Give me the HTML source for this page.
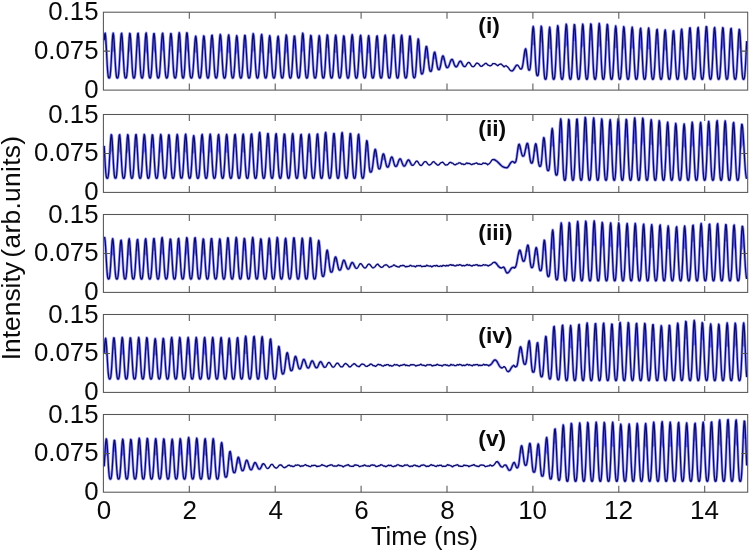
<!DOCTYPE html><html><head><meta charset="utf-8"><title>Intensity vs Time</title>
<style>html,body{margin:0;padding:0;background:#fff}body{width:750px;height:552px;position:relative;overflow:hidden;font-family:"Liberation Sans",Arial,sans-serif;color:#0a0a0a}
svg{position:absolute;left:0;top:0}
.yt{position:absolute;left:0;width:98.5px;text-align:right;font-size:25.8px;line-height:26px;height:26px;white-space:nowrap}
.xt{position:absolute;top:496.6px;width:60px;margin-left:-30px;text-align:center;font-size:26px;line-height:26px;height:26px}
.lab{position:absolute;left:478.3px;font-weight:bold;font-size:22.8px;line-height:24px;height:24px;white-space:nowrap}
#xl{position:absolute;left:324.5px;width:200px;top:523.2px;text-align:center;font-size:25.6px;line-height:26px;white-space:nowrap}
#yl{position:absolute;left:0;top:0;font-size:26.4px;line-height:26px;white-space:nowrap;transform-origin:0 0;transform:translate(-1.6px,360.3px) rotate(-90deg);}
#yl{word-spacing:-3px}#yl span{letter-spacing:0.3px}
</style></head><body>
<svg width="750" height="552" viewBox="0 0 750 552">
<rect width="750" height="552" fill="#fff"/>
<defs><path id="w0" d="M104.2 40.2 L104.7 34.4 L105.2 33.2 L105.7 37.1 L106.2 45.0 L106.7 55.0 L107.2 64.6 L107.7 72.0 L108.2 76.3 L108.7 77.9 L109.2 78.0 L109.7 77.6 L110.2 75.3 L110.7 69.9 L111.2 61.7 L111.7 51.7 L112.2 42.2 L112.7 35.4 L113.2 33.1 L113.7 35.7 L114.2 42.5 L114.7 51.8 L115.2 61.5 L115.7 69.6 L116.2 75.0 L116.7 77.5 L117.2 78.0 L117.7 77.9 L118.2 76.8 L118.7 73.3 L119.2 66.8 L119.7 57.9 L120.2 48.1 L120.7 39.5 L121.2 34.1 L121.7 33.3 L122.2 37.3 L122.7 45.0 L123.2 54.6 L123.7 64.0 L124.2 71.4 L124.7 75.9 L125.2 77.8 L125.7 78.0 L126.2 77.8 L126.7 76.1 L127.2 71.7 L127.7 64.5 L128.2 55.1 L128.7 45.5 L129.2 37.6 L129.7 33.4 L130.2 34.0 L130.7 39.5 L131.2 48.4 L131.7 58.4 L132.2 67.5 L132.7 73.8 L133.2 77.1 L133.7 78.0 L134.2 78.0 L134.7 77.1 L135.2 73.8 L135.7 67.3 L136.2 58.2 L136.7 48.1 L137.2 39.2 L137.7 33.7 L138.2 33.2 L138.7 37.7 L139.2 46.1 L139.7 56.2 L140.2 65.7 L140.7 72.7 L141.2 76.6 L141.7 77.9 L142.2 78.0 L142.7 77.4 L143.2 74.7 L143.7 68.9 L144.2 60.3 L144.7 50.2 L145.2 40.8 L145.7 34.5 L146.2 32.9 L146.7 36.6 L147.2 44.7 L147.7 55.1 L148.2 65.0 L148.7 72.5 L149.2 76.6 L149.7 77.9 L150.2 78.0 L150.7 77.3 L151.2 74.2 L151.7 67.9 L152.2 58.6 L152.7 48.2 L153.2 39.1 L153.7 33.8 L154.2 33.6 L154.7 37.9 L155.2 45.6 L155.7 55.0 L156.2 64.1 L156.7 71.3 L157.2 75.8 L157.7 77.7 L158.2 78.0 L158.7 77.9 L159.2 76.5 L159.7 72.8 L160.2 66.3 L160.7 57.6 L161.2 48.1 L161.7 39.7 L162.2 34.3 L162.7 33.2 L163.2 36.8 L163.7 44.3 L164.2 53.8 L164.7 63.3 L165.2 70.9 L165.7 75.7 L166.2 77.7 L166.7 78.0 L167.2 77.8 L167.7 76.3 L168.2 72.2 L168.7 65.1 L169.2 55.9 L169.7 46.2 L170.2 38.1 L170.7 33.6 L171.2 33.8 L171.7 38.6 L172.2 46.8 L172.7 56.6 L173.2 65.7 L173.7 72.6 L174.2 76.5 L174.7 77.9 L175.2 78.0 L175.7 77.6 L176.2 75.4 L176.7 70.4 L177.2 62.6 L177.7 52.9 L178.2 43.3 L178.7 36.0 L179.2 32.6 L179.7 34.5 L180.2 41.6 L180.7 52.0 L181.2 62.6 L181.7 71.1 L182.2 76.1 L182.7 77.9 L183.2 78.0 L183.7 77.4 L184.2 74.4 L184.7 67.8 L185.2 58.1 L185.7 47.2 L186.2 37.8 L186.7 32.8 L187.2 33.1 L187.7 37.8 L188.2 45.6 L188.7 54.9 L189.2 63.9 L189.7 71.1 L190.2 75.6 L190.7 77.6 L191.2 78.0 L191.7 77.9 L192.2 77.0 L192.7 74.0 L193.2 68.7 L193.7 61.2 L194.2 52.6 L194.7 44.5 L195.2 38.6 L195.7 36.1 L196.2 38.0 L196.7 44.1 L197.2 52.8 L197.7 62.2 L198.2 70.1 L198.7 75.2 L199.2 77.5 L199.7 78.0 L200.2 77.9 L200.7 76.6 L201.2 72.7 L201.7 65.9 L202.2 56.9 L202.7 47.5 L203.2 39.8 L203.7 35.9 L204.2 36.7 L204.7 42.0 L205.2 50.5 L205.7 60.0 L206.2 68.5 L206.7 74.3 L207.2 77.2 L207.7 78.0 L208.2 78.0 L208.7 77.0 L209.2 73.7 L209.7 67.4 L210.2 58.6 L210.7 48.9 L211.2 40.5 L211.7 35.6 L212.2 35.3 L212.7 39.6 L213.2 47.3 L213.7 56.7 L214.2 65.5 L214.7 72.4 L215.2 76.3 L215.7 77.8 L216.2 78.0 L216.7 77.7 L217.2 75.8 L217.7 71.2 L218.2 63.8 L218.7 54.6 L219.2 45.3 L219.7 38.0 L220.2 34.5 L220.7 35.6 L221.2 41.1 L221.7 49.5 L222.2 59.1 L222.7 67.6 L223.2 73.7 L223.7 77.0 L224.2 78.0 L224.7 78.0 L225.2 77.4 L225.7 74.8 L226.2 69.5 L226.7 61.6 L227.2 52.2 L227.7 43.4 L228.2 37.1 L228.7 34.8 L229.2 37.4 L229.7 44.1 L230.2 53.4 L230.7 62.9 L231.2 70.7 L231.7 75.6 L232.2 77.7 L232.7 78.0 L233.2 77.8 L233.7 76.2 L234.2 72.0 L234.7 64.8 L235.2 55.6 L235.7 46.3 L236.2 39.0 L236.7 35.7 L237.2 37.2 L237.7 43.0 L238.2 51.8 L238.7 61.3 L239.2 69.4 L239.7 74.9 L240.2 77.4 L240.7 78.0 L241.2 77.9 L241.7 76.7 L242.2 73.0 L242.7 66.3 L243.2 57.3 L243.7 47.6 L244.2 39.6 L244.7 35.3 L245.2 35.6 L245.7 40.5 L246.2 48.5 L246.7 57.9 L247.2 66.6 L247.7 73.1 L248.2 76.7 L248.7 77.9 L249.2 78.0 L249.7 77.6 L250.2 75.3 L250.7 70.2 L251.2 62.4 L251.7 52.9 L252.2 43.6 L252.7 36.6 L253.2 33.6 L253.7 35.4 L254.2 41.4 L254.7 50.3 L255.2 60.0 L255.7 68.4 L256.2 74.2 L256.7 77.2 L257.2 78.0 L257.7 78.0 L258.2 77.2 L258.7 74.2 L259.2 68.5 L259.7 60.2 L260.2 50.7 L260.7 42.0 L261.2 36.0 L261.7 34.4 L262.2 37.6 L262.7 44.9 L263.2 54.4 L263.7 63.9 L264.2 71.5 L264.7 76.0 L265.2 77.8 L265.7 78.0 L266.2 77.7 L266.7 75.8 L267.2 71.2 L267.7 63.6 L268.2 54.3 L268.7 45.2 L269.2 38.3 L269.7 35.6 L270.2 37.6 L270.7 43.6 L271.2 52.2 L271.7 61.4 L272.2 69.3 L272.7 74.7 L273.2 77.3 L273.7 78.0 L274.2 78.0 L274.7 77.1 L275.2 74.1 L275.7 68.4 L276.2 60.3 L276.7 51.2 L277.2 42.9 L277.7 37.5 L278.2 36.2 L278.7 39.5 L279.2 46.5 L279.7 55.5 L280.2 64.5 L280.7 71.6 L281.2 76.0 L281.7 77.8 L282.2 78.0 L282.7 77.8 L283.2 76.1 L283.7 71.7 L284.2 64.5 L284.7 55.3 L285.2 46.0 L285.7 38.6 L286.2 35.0 L286.7 36.2 L287.2 41.9 L287.7 50.7 L288.2 60.3 L288.7 68.8 L289.2 74.5 L289.7 77.3 L290.2 78.0 L290.7 78.0 L291.2 76.9 L291.7 73.5 L292.2 67.1 L292.7 58.3 L293.2 48.8 L293.7 40.7 L294.2 36.2 L294.7 36.2 L295.2 40.7 L295.7 48.5 L296.2 57.7 L296.7 66.3 L297.2 72.8 L297.7 76.5 L298.2 77.9 L298.7 78.0 L299.2 77.6 L299.7 75.5 L300.2 70.6 L300.7 62.8 L301.2 53.3 L301.7 43.8 L302.2 36.5 L302.7 33.2 L303.2 34.7 L303.7 40.9 L304.2 50.2 L304.7 60.3 L305.2 68.9 L305.7 74.7 L306.2 77.4 L306.7 78.0 L307.2 77.9 L307.7 76.7 L308.2 73.1 L308.7 66.4 L309.2 57.4 L309.7 47.8 L310.2 39.9 L310.7 35.5 L311.2 35.9 L311.7 40.7 L312.2 48.7 L312.7 58.0 L313.2 66.7 L313.7 73.1 L314.2 76.7 L314.7 77.9 L315.2 78.0 L315.7 77.6 L316.2 75.4 L316.7 70.6 L317.2 63.1 L317.7 54.1 L318.2 45.2 L318.7 38.5 L319.2 35.6 L319.7 37.4 L320.2 43.5 L320.7 52.4 L321.2 61.9 L321.7 69.9 L322.2 75.1 L322.7 77.5 L323.2 78.0 L323.7 77.9 L324.2 76.6 L324.7 72.6 L325.2 65.7 L325.7 56.5 L326.2 46.9 L326.7 39.0 L327.2 34.9 L327.7 35.6 L328.2 40.7 L328.7 49.0 L329.2 58.4 L329.7 67.0 L330.2 73.4 L330.7 76.8 L331.2 77.9 L331.7 78.0 L332.2 77.5 L332.7 75.2 L333.2 70.1 L333.7 62.4 L334.2 53.1 L334.7 44.2 L335.2 37.7 L335.7 35.1 L336.2 37.2 L336.7 43.7 L337.2 52.8 L337.7 62.3 L338.2 70.2 L338.7 75.3 L339.2 77.6 L339.7 78.0 L340.2 77.9 L340.7 76.4 L341.2 72.4 L341.7 65.5 L342.2 56.4 L342.7 47.0 L343.2 39.5 L343.7 35.8 L344.2 36.8 L344.7 42.0 L345.2 50.2 L345.7 59.5 L346.2 67.8 L346.7 73.8 L347.2 77.0 L347.7 78.0 L348.2 78.0 L348.7 77.4 L349.2 74.9 L349.7 69.5 L350.2 61.6 L350.7 52.2 L351.2 43.3 L351.7 36.9 L352.2 34.6 L352.7 36.9 L353.2 43.3 L353.7 52.2 L354.2 61.6 L354.7 69.5 L355.2 74.9 L355.7 77.4 L356.2 78.0 L356.7 78.0 L357.2 77.0 L357.7 73.7 L358.2 67.7 L358.7 59.3 L359.2 49.9 L359.7 41.6 L360.2 36.3 L360.7 35.3 L361.2 39.0 L361.7 46.6 L362.2 56.1 L362.7 65.3 L363.2 72.3 L363.7 76.4 L364.2 77.9 L364.7 78.0 L365.2 77.6 L365.7 75.4 L366.2 70.3 L366.7 62.5 L367.2 53.1 L367.7 44.1 L368.2 37.7 L368.7 35.6 L369.2 38.2 L369.7 44.6 L370.2 53.4 L370.7 62.6 L371.2 70.2 L371.7 75.2 L372.2 77.5 L372.7 78.0 L373.2 77.9 L373.7 76.8 L374.2 73.5 L374.7 67.3 L375.2 58.9 L375.7 49.6 L376.2 41.6 L376.7 36.6 L377.2 35.9 L377.7 39.9 L378.2 47.6 L378.7 57.0 L379.2 66.0 L379.7 72.8 L380.2 76.6 L380.7 77.9 L381.2 78.0 L381.7 77.5 L382.2 75.1 L382.7 69.8 L383.2 61.7 L383.7 52.1 L384.2 43.1 L384.7 36.9 L385.2 35.1 L385.7 38.0 L386.2 44.8 L386.7 53.8 L387.2 63.0 L387.7 70.5 L388.2 75.4 L388.7 77.6 L389.2 78.0 L389.7 77.9 L390.2 76.7 L390.7 73.0 L391.2 66.5 L391.7 57.8 L392.2 48.4 L392.7 40.2 L393.2 35.4 L393.7 35.0 L394.2 39.4 L394.7 47.5 L395.2 57.2 L395.7 66.3 L396.2 73.0 L396.7 76.7 L397.2 77.9 L397.7 78.0 L398.2 77.4 L398.7 74.8 L399.2 69.3 L399.7 61.1 L400.2 51.5 L400.7 42.6 L401.2 36.7 L401.7 35.2 L402.2 38.4 L402.7 45.3 L403.2 54.4 L403.7 63.5 L404.2 70.9 L404.7 75.6 L405.2 77.6 L405.7 78.0 L406.2 77.9 L406.7 76.5 L407.2 72.8 L407.7 66.3 L408.2 57.7 L408.7 48.5 L409.2 40.7 L409.7 36.2 L410.2 36.1 L410.7 40.1 L411.2 47.4 L411.7 56.2 L412.2 64.7 L412.7 71.5 L413.2 75.7 L413.7 77.5 L414.2 77.8 L414.7 77.6 L415.2 76.2 L415.7 72.4 L416.2 65.9 L416.7 57.5 L417.2 48.8 L417.7 42.0 L418.2 38.8 L418.7 40.2 L419.2 46.2 L419.7 54.9 L420.2 63.6 L420.7 70.0 L421.2 73.2 L421.7 74.0 L422.2 73.9 L422.7 73.4 L423.2 71.7 L423.7 68.5 L424.2 63.8 L424.7 58.4 L425.2 53.1 L425.7 48.8 L426.2 46.5 L426.7 46.6 L427.2 49.1 L427.7 53.4 L428.2 58.6 L428.7 63.6 L429.2 67.6 L429.7 70.1 L430.2 71.2 L430.7 71.4 L431.2 71.2 L431.7 70.0 L432.2 67.3 L432.7 63.4 L433.2 59.0 L433.7 55.0 L434.2 52.6 L434.7 52.1 L435.2 53.4 L435.7 56.0 L436.2 59.3 L436.7 62.8 L437.2 65.9 L437.7 68.1 L438.2 69.3 L438.7 69.7 L439.2 69.6 L439.7 68.9 L440.2 67.3 L440.7 64.9 L441.2 62.1 L441.7 59.3 L442.2 57.1 L442.7 56.0 L443.2 56.0 L443.7 57.1 L444.2 58.9 L444.7 61.1 L445.2 63.3 L445.7 65.3 L446.2 66.7 L446.7 67.5 L447.2 67.6 L447.7 67.5 L448.2 67.1 L448.7 66.2 L449.2 65.0 L449.7 63.6 L450.2 62.1 L450.7 60.9 L451.2 59.9 L451.7 59.4 L452.2 59.4 L452.7 60.1 L453.2 61.3 L453.7 62.7 L454.2 64.2 L454.7 65.4 L455.2 66.3 L455.7 66.7 L456.2 66.8 L456.7 66.6 L457.2 66.0 L457.7 65.1 L458.2 64.1 L458.7 63.0 L459.2 62.1 L459.7 61.5 L460.2 61.2 L460.7 61.3 L461.2 61.8 L461.7 62.7 L462.2 63.7 L462.7 64.7 L463.2 65.6 L463.7 66.2 L464.2 66.6 L464.7 66.7 L465.2 66.6 L465.7 66.0 L466.2 65.3 L466.7 64.4 L467.2 63.7 L467.7 63.0 L468.2 62.5 L468.7 62.3 L469.2 62.5 L469.7 63.0 L470.2 63.7 L470.7 64.5 L471.2 65.4 L471.7 66.1 L472.2 66.4 L472.7 66.6 L473.2 66.7 L473.7 66.6 L474.2 66.2 L474.7 65.5 L475.2 64.9 L475.7 64.2 L476.2 63.5 L476.7 63.1 L477.2 63.1 L477.7 63.3 L478.2 63.5 L478.7 63.9 L479.2 64.5 L479.7 65.3 L480.2 65.8 L480.7 66.2 L481.2 66.4 L481.7 66.4 L482.2 66.0 L482.7 65.5 L483.2 65.1 L483.7 64.9 L484.2 64.4 L484.7 63.8 L485.2 63.5 L485.7 63.4 L486.2 63.4 L486.7 63.7 L487.2 64.3 L487.7 64.9 L488.2 65.2 L488.7 65.3 L489.2 65.5 L489.7 65.8 L490.2 65.9 L490.7 65.7 L491.2 65.5 L491.7 65.0 L492.2 64.4 L492.7 63.7 L493.2 63.6 L493.7 63.7 L494.2 63.7 L494.7 63.6 L495.2 63.8 L495.7 64.2 L496.2 64.6 L496.7 64.9 L497.2 65.4 L497.7 65.7 L498.2 65.5 L498.7 64.9 L499.2 64.4 L499.7 64.3 L500.2 64.2 L500.7 64.0 L501.2 64.1 L501.7 64.5 L502.2 65.0 L502.7 65.4 L503.2 66.0 L503.7 66.5 L504.2 66.9 L504.7 66.4 L505.2 65.9 L505.7 65.8 L506.2 65.8 L506.7 66.2 L507.2 66.5 L507.7 67.0 L508.2 67.6 L508.7 68.2 L509.2 69.0 L509.7 69.7 L510.2 70.3 L510.7 70.7 L511.2 70.9 L511.7 70.9 L512.2 70.8 L512.7 70.6 L513.2 70.1 L513.7 69.4 L514.2 68.7 L514.7 67.8 L515.2 67.0 L515.7 66.2 L516.2 65.6 L516.7 65.2 L517.2 65.0 L517.7 65.1 L518.2 65.6 L518.7 66.3 L519.2 67.2 L519.7 68.1 L520.2 68.9 L520.7 69.2 L521.2 68.9 L521.7 68.6 L522.2 67.5 L522.7 65.4 L523.2 62.3 L523.7 58.6 L524.2 54.7 L524.7 51.5 L525.2 49.4 L525.7 48.8 L526.2 50.7 L526.7 54.8 L527.2 60.1 L527.7 65.0 L528.2 68.4 L528.7 69.9 L529.2 70.2 L529.7 69.9 L530.2 67.9 L530.7 63.0 L531.2 55.2 L531.7 45.6 L532.2 36.2 L532.7 29.2 L533.2 26.5 L533.7 28.7 L534.2 35.4 L534.7 45.0 L535.2 55.4 L535.7 64.5 L536.2 71.1 L536.7 74.6 L537.2 75.7 L537.7 75.7 L538.2 74.9 L538.7 71.1 L539.2 63.5 L539.7 52.6 L540.2 40.8 L540.7 31.0 L541.2 26.2 L541.7 27.5 L542.2 34.2 L542.7 44.5 L543.2 56.2 L543.7 66.6 L544.2 74.0 L544.7 78.0 L545.2 79.2 L545.7 79.3 L546.2 78.5 L546.7 75.4 L547.2 69.0 L547.7 59.5 L548.2 48.2 L548.7 37.6 L549.2 29.9 L549.7 27.2 L550.2 30.3 L550.7 38.4 L551.2 49.6 L551.7 61.1 L552.2 70.5 L552.7 76.4 L553.2 78.9 L553.7 79.3 L554.2 79.0 L554.7 77.0 L555.2 71.6 L555.7 62.5 L556.2 50.9 L556.7 39.0 L557.2 29.8 L557.7 25.6 L558.2 27.2 L558.7 34.0 L559.2 44.3 L559.7 55.8 L560.2 66.2 L560.7 73.7 L561.2 77.8 L561.7 79.2 L562.2 79.3 L562.7 78.7 L563.2 75.9 L563.7 69.8 L564.2 60.4 L564.7 48.8 L565.2 37.4 L565.7 28.5 L566.2 24.1 L566.7 25.7 L567.2 33.0 L567.7 44.2 L568.2 56.6 L568.7 67.4 L569.2 74.8 L569.7 78.4 L570.2 79.3 L570.7 79.2 L571.2 77.8 L571.7 73.3 L572.2 65.0 L572.7 53.6 L573.2 41.2 L573.7 30.7 L574.2 24.7 L574.7 24.8 L575.2 30.6 L575.7 40.7 L576.2 52.7 L576.7 64.0 L577.2 72.5 L577.7 77.4 L578.2 79.1 L578.7 79.3 L579.2 78.8 L579.7 76.2 L580.2 70.1 L580.7 60.6 L581.2 48.8 L581.7 37.2 L582.2 28.2 L582.7 24.1 L583.2 26.0 L583.7 33.6 L584.2 45.1 L584.7 57.4 L585.2 68.1 L585.7 75.2 L586.2 78.5 L586.7 79.3 L587.2 79.2 L587.7 77.6 L588.2 72.8 L588.7 64.2 L589.2 52.5 L589.7 40.0 L590.2 29.6 L590.7 24.0 L591.2 24.5 L591.7 30.7 L592.2 41.1 L592.7 53.3 L593.2 64.5 L593.7 72.9 L594.2 77.5 L594.7 79.1 L595.2 79.3 L595.7 78.7 L596.2 75.9 L596.7 69.5 L597.2 59.7 L597.7 47.7 L598.2 36.0 L598.7 27.3 L599.2 23.5 L599.7 25.8 L600.2 33.9 L600.7 45.6 L601.2 58.0 L601.7 68.6 L602.2 75.5 L602.7 78.6 L603.2 79.3 L603.7 79.1 L604.2 77.4 L604.7 72.4 L605.2 63.6 L605.7 51.9 L606.2 39.6 L606.7 29.5 L607.2 24.3 L607.7 25.2 L608.2 31.7 L608.7 42.3 L609.2 54.3 L609.7 65.3 L610.2 73.3 L610.7 77.7 L611.2 79.2 L611.7 79.3 L612.2 78.6 L612.7 75.7 L613.2 69.4 L613.7 59.9 L614.2 48.4 L614.7 37.3 L615.2 29.2 L615.7 26.0 L616.2 28.6 L616.7 36.6 L617.2 47.9 L617.7 59.7 L618.2 69.6 L618.7 76.0 L619.2 78.8 L619.7 79.3 L620.2 79.1 L620.7 77.3 L621.2 72.3 L621.7 63.6 L622.2 52.4 L622.7 40.7 L623.2 31.3 L623.7 26.7 L624.2 28.0 L624.7 34.5 L625.2 44.7 L625.7 56.2 L626.2 66.6 L626.7 74.0 L627.2 78.0 L627.7 79.2 L628.2 79.3 L628.7 78.6 L629.2 75.5 L629.7 69.1 L630.2 59.6 L630.7 48.4 L631.2 37.7 L631.7 30.0 L632.2 27.2 L632.7 30.0 L633.2 37.7 L633.7 48.4 L634.2 59.6 L634.7 69.1 L635.2 75.5 L635.7 78.6 L636.2 79.3 L636.7 79.2 L637.2 78.0 L637.7 74.2 L638.2 66.9 L638.7 56.9 L639.2 45.7 L639.7 35.8 L640.2 29.4 L640.7 28.2 L641.2 32.7 L641.7 41.8 L642.2 53.1 L642.7 64.1 L643.2 72.5 L643.7 77.4 L644.2 79.1 L644.7 79.3 L645.2 78.8 L645.7 76.1 L646.2 70.0 L646.7 60.5 L647.2 49.1 L647.7 38.2 L648.2 30.5 L648.7 28.0 L649.2 31.1 L649.7 38.9 L650.2 49.6 L650.7 60.6 L651.2 69.8 L651.7 75.9 L652.2 78.7 L652.7 79.3 L653.2 79.2 L653.7 77.9 L654.2 73.9 L654.7 66.6 L655.2 56.6 L655.7 45.7 L656.2 36.1 L656.7 30.2 L657.2 29.4 L657.7 34.1 L658.2 43.2 L658.7 54.4 L659.2 65.0 L659.7 73.1 L660.2 77.6 L660.7 79.2 L661.2 79.3 L661.7 78.7 L662.2 75.9 L662.7 69.8 L663.2 60.4 L663.7 49.4 L664.2 39.0 L664.7 31.9 L665.2 29.8 L665.7 33.2 L666.2 41.0 L666.7 51.3 L667.2 61.9 L667.7 70.6 L668.2 76.3 L668.7 78.8 L669.2 79.3 L669.7 79.2 L670.2 77.8 L670.7 73.6 L671.2 66.3 L671.7 56.5 L672.2 45.8 L672.7 36.7 L673.2 31.2 L673.7 30.8 L674.2 35.7 L674.7 44.8 L675.2 55.8 L675.7 66.0 L676.2 73.6 L676.7 77.8 L677.2 79.2 L677.7 79.3 L678.2 78.6 L678.7 75.6 L679.2 69.1 L679.7 59.4 L680.2 48.2 L680.7 37.8 L681.2 30.9 L681.7 29.1 L682.2 32.8 L682.7 41.0 L683.2 51.6 L683.7 62.3 L684.2 71.0 L684.7 76.5 L685.2 78.9 L685.7 79.3 L686.2 79.1 L686.7 77.5 L687.2 72.9 L687.7 64.9 L688.2 54.3 L688.7 43.0 L689.2 33.5 L689.7 28.0 L690.2 27.9 L690.7 33.5 L691.2 43.4 L691.7 55.1 L692.2 65.8 L692.7 73.7 L693.2 77.9 L693.7 79.2 L694.2 79.3 L694.7 78.5 L695.2 75.1 L695.7 68.2 L696.2 58.0 L696.7 46.3 L697.2 35.7 L697.7 28.8 L698.2 27.4 L698.7 31.6 L699.2 40.3 L699.7 51.4 L700.2 62.4 L700.7 71.2 L701.2 76.6 L701.7 78.9 L702.2 79.3 L702.7 79.1 L703.2 77.2 L703.7 72.3 L704.2 63.9 L704.7 52.9 L705.2 41.4 L705.7 31.9 L706.2 26.6 L706.7 26.9 L707.2 33.0 L707.7 43.3 L708.2 55.3 L708.7 66.2 L709.2 73.9 L709.7 78.0 L710.2 79.2 L710.7 79.3 L711.2 78.3 L711.7 74.7 L712.2 67.6 L712.7 57.2 L713.2 45.5 L713.7 35.1 L714.2 28.6 L714.7 27.5 L715.2 32.1 L715.7 41.0 L716.2 52.2 L716.7 63.1 L717.2 71.6 L717.7 76.9 L718.2 79.0 L718.7 79.3 L719.2 79.0 L719.7 77.0 L720.2 72.0 L720.7 63.6 L721.2 52.8 L721.7 41.6 L722.2 32.5 L722.7 27.7 L723.2 28.4 L723.7 34.7 L724.2 44.9 L724.7 56.6 L725.2 67.1 L725.7 74.5 L726.2 78.2 L726.7 79.3 L727.2 79.2 L727.7 78.2 L728.2 74.5 L728.7 67.1 L729.2 56.8 L729.7 45.3 L730.2 35.2 L730.7 29.1 L731.2 28.4 L731.7 33.3 L732.2 42.3 L732.7 53.3 L733.2 64.0 L733.7 72.2 L734.2 77.1 L734.7 79.0 L735.2 79.3 L735.7 79.0 L736.2 76.9 L736.7 71.8 L737.2 63.5 L737.7 53.0 L738.2 42.2 L738.7 33.6 L739.2 29.3 L739.7 30.3 L740.2 36.3 L740.7 45.9 L741.2 56.9 L741.7 66.8 L742.2 74.0 L742.7 77.9 L743.2 79.2 L743.7 79.3 L744.2 78.7 L744.7 76.0 L745.2 70.2 L745.7 61.4 L746.2 51.1 L746.7 41.1"/></defs>
<path d="M104.2 40.2 L104.7 34.4 L105.2 33.2 L105.7 37.1 L106.2 45.0 L106.7 55.0Z M111.7 51.7 L112.2 42.2 L112.7 35.4 L113.2 33.1 L113.7 35.7 L114.2 42.5 L114.7 51.8Z M120.2 48.1 L120.7 39.5 L121.2 34.1 L121.7 33.3 L122.2 37.3 L122.7 45.0 L123.2 54.6Z M128.2 55.1 L128.7 45.5 L129.2 37.6 L129.7 33.4 L130.2 34.0 L130.7 39.5 L131.2 48.4Z M136.7 48.1 L137.2 39.2 L137.7 33.7 L138.2 33.2 L138.7 37.7 L139.2 46.1Z M144.7 50.2 L145.2 40.8 L145.7 34.5 L146.2 32.9 L146.7 36.6 L147.2 44.7 L147.7 55.1Z M152.7 48.2 L153.2 39.1 L153.7 33.8 L154.2 33.6 L154.7 37.9 L155.2 45.6 L155.7 55.0Z M161.2 48.1 L161.7 39.7 L162.2 34.3 L162.7 33.2 L163.2 36.8 L163.7 44.3 L164.2 53.8Z M169.7 46.2 L170.2 38.1 L170.7 33.6 L171.2 33.8 L171.7 38.6 L172.2 46.8Z M177.7 52.9 L178.2 43.3 L178.7 36.0 L179.2 32.6 L179.7 34.5 L180.2 41.6 L180.7 52.0Z M185.7 47.2 L186.2 37.8 L186.7 32.8 L187.2 33.1 L187.7 37.8 L188.2 45.6 L188.7 54.9Z M194.2 52.6 L194.7 44.5 L195.2 38.6 L195.7 36.1 L196.2 38.0 L196.7 44.1 L197.2 52.8Z M202.7 47.5 L203.2 39.8 L203.7 35.9 L204.2 36.7 L204.7 42.0 L205.2 50.5Z M210.7 48.9 L211.2 40.5 L211.7 35.6 L212.2 35.3 L212.7 39.6 L213.2 47.3Z M218.7 54.6 L219.2 45.3 L219.7 38.0 L220.2 34.5 L220.7 35.6 L221.2 41.1 L221.7 49.5Z M227.2 52.2 L227.7 43.4 L228.2 37.1 L228.7 34.8 L229.2 37.4 L229.7 44.1 L230.2 53.4Z M235.2 55.6 L235.7 46.3 L236.2 39.0 L236.7 35.7 L237.2 37.2 L237.7 43.0 L238.2 51.8Z M243.7 47.6 L244.2 39.6 L244.7 35.3 L245.2 35.6 L245.7 40.5 L246.2 48.5Z M251.7 52.9 L252.2 43.6 L252.7 36.6 L253.2 33.6 L253.7 35.4 L254.2 41.4 L254.7 50.3Z M260.2 50.7 L260.7 42.0 L261.2 36.0 L261.7 34.4 L262.2 37.6 L262.7 44.9 L263.2 54.4Z M268.2 54.3 L268.7 45.2 L269.2 38.3 L269.7 35.6 L270.2 37.6 L270.7 43.6 L271.2 52.2Z M276.7 51.2 L277.2 42.9 L277.7 37.5 L278.2 36.2 L278.7 39.5 L279.2 46.5 L279.7 55.5Z M284.7 55.3 L285.2 46.0 L285.7 38.6 L286.2 35.0 L286.7 36.2 L287.2 41.9 L287.7 50.7Z M293.2 48.8 L293.7 40.7 L294.2 36.2 L294.7 36.2 L295.2 40.7 L295.7 48.5Z M301.2 53.3 L301.7 43.8 L302.2 36.5 L302.7 33.2 L303.2 34.7 L303.7 40.9 L304.2 50.2Z M309.7 47.8 L310.2 39.9 L310.7 35.5 L311.2 35.9 L311.7 40.7 L312.2 48.7Z M317.7 54.1 L318.2 45.2 L318.7 38.5 L319.2 35.6 L319.7 37.4 L320.2 43.5 L320.7 52.4Z M326.2 46.9 L326.7 39.0 L327.2 34.9 L327.7 35.6 L328.2 40.7 L328.7 49.0Z M334.2 53.1 L334.7 44.2 L335.2 37.7 L335.7 35.1 L336.2 37.2 L336.7 43.7 L337.2 52.8Z M342.2 56.4 L342.7 47.0 L343.2 39.5 L343.7 35.8 L344.2 36.8 L344.7 42.0 L345.2 50.2Z M350.7 52.2 L351.2 43.3 L351.7 36.9 L352.2 34.6 L352.7 36.9 L353.2 43.3 L353.7 52.2Z M359.2 49.9 L359.7 41.6 L360.2 36.3 L360.7 35.3 L361.2 39.0 L361.7 46.6 L362.2 56.1Z M367.2 53.1 L367.7 44.1 L368.2 37.7 L368.7 35.6 L369.2 38.2 L369.7 44.6 L370.2 53.4Z M375.7 49.6 L376.2 41.6 L376.7 36.6 L377.2 35.9 L377.7 39.9 L378.2 47.6Z M383.7 52.1 L384.2 43.1 L384.7 36.9 L385.2 35.1 L385.7 38.0 L386.2 44.8 L386.7 53.8Z M392.2 48.4 L392.7 40.2 L393.2 35.4 L393.7 35.0 L394.2 39.4 L394.7 47.5Z M400.2 51.5 L400.7 42.6 L401.2 36.7 L401.7 35.2 L402.2 38.4 L402.7 45.3 L403.2 54.4Z M408.7 48.5 L409.2 40.7 L409.7 36.2 L410.2 36.1 L410.7 40.1 L411.2 47.4 L411.7 56.2Z M417.2 48.8 L417.7 42.0 L418.2 38.8 L418.7 40.2 L419.2 46.2 L419.7 54.9Z M424.7 58.4 L425.2 53.1 L425.7 48.8 L426.2 46.5 L426.7 46.6 L427.2 49.1 L427.7 53.4 L428.2 58.6Z M433.2 59.0 L433.7 55.0 L434.2 52.6 L434.7 52.1 L435.2 53.4 L435.7 56.0 L436.2 59.3Z M441.7 59.3 L442.2 57.1 L442.7 56.0 L443.2 56.0 L443.7 57.1 L444.2 58.9 L444.7 61.1Z M523.7 58.6 L524.2 54.7 L524.7 51.5 L525.2 49.4 L525.7 48.8 L526.2 50.7 L526.7 54.8Z M531.7 45.6 L532.2 36.2 L532.7 29.2 L533.2 26.5 L533.7 28.7 L534.2 35.4 L534.7 45.0Z M540.2 40.8 L540.7 31.0 L541.2 26.2 L541.7 27.5 L542.2 34.2 L542.7 44.5Z M548.2 48.2 L548.7 37.6 L549.2 29.9 L549.7 27.2 L550.2 30.3 L550.7 38.4 L551.2 49.6Z M556.2 50.9 L556.7 39.0 L557.2 29.8 L557.7 25.6 L558.2 27.2 L558.7 34.0 L559.2 44.3Z M564.7 48.8 L565.2 37.4 L565.7 28.5 L566.2 24.1 L566.7 25.7 L567.2 33.0 L567.7 44.2Z M573.2 41.2 L573.7 30.7 L574.2 24.7 L574.7 24.8 L575.2 30.6 L575.7 40.7Z M581.2 48.8 L581.7 37.2 L582.2 28.2 L582.7 24.1 L583.2 26.0 L583.7 33.6 L584.2 45.1Z M589.7 40.0 L590.2 29.6 L590.7 24.0 L591.2 24.5 L591.7 30.7 L592.2 41.1Z M597.7 47.7 L598.2 36.0 L598.7 27.3 L599.2 23.5 L599.7 25.8 L600.2 33.9 L600.7 45.6Z M606.2 39.6 L606.7 29.5 L607.2 24.3 L607.7 25.2 L608.2 31.7 L608.7 42.3Z M614.2 48.4 L614.7 37.3 L615.2 29.2 L615.7 26.0 L616.2 28.6 L616.7 36.6 L617.2 47.9Z M622.2 52.4 L622.7 40.7 L623.2 31.3 L623.7 26.7 L624.2 28.0 L624.7 34.5 L625.2 44.7Z M630.7 48.4 L631.2 37.7 L631.7 30.0 L632.2 27.2 L632.7 30.0 L633.2 37.7 L633.7 48.4Z M639.2 45.7 L639.7 35.8 L640.2 29.4 L640.7 28.2 L641.2 32.7 L641.7 41.8 L642.2 53.1Z M647.2 49.1 L647.7 38.2 L648.2 30.5 L648.7 28.0 L649.2 31.1 L649.7 38.9 L650.2 49.6Z M655.7 45.7 L656.2 36.1 L656.7 30.2 L657.2 29.4 L657.7 34.1 L658.2 43.2Z M663.7 49.4 L664.2 39.0 L664.7 31.9 L665.2 29.8 L665.7 33.2 L666.2 41.0 L666.7 51.3Z M672.2 45.8 L672.7 36.7 L673.2 31.2 L673.7 30.8 L674.2 35.7 L674.7 44.8Z M680.2 48.2 L680.7 37.8 L681.2 30.9 L681.7 29.1 L682.2 32.8 L682.7 41.0 L683.2 51.6Z M688.7 43.0 L689.2 33.5 L689.7 28.0 L690.2 27.9 L690.7 33.5 L691.2 43.4Z M696.7 46.3 L697.2 35.7 L697.7 28.8 L698.2 27.4 L698.7 31.6 L699.2 40.3 L699.7 51.4Z M705.2 41.4 L705.7 31.9 L706.2 26.6 L706.7 26.9 L707.2 33.0 L707.7 43.3Z M713.2 45.5 L713.7 35.1 L714.2 28.6 L714.7 27.5 L715.2 32.1 L715.7 41.0 L716.2 52.2Z M721.2 52.8 L721.7 41.6 L722.2 32.5 L722.7 27.7 L723.2 28.4 L723.7 34.7 L724.2 44.9Z M729.7 45.3 L730.2 35.2 L730.7 29.1 L731.2 28.4 L731.7 33.3 L732.2 42.3 L732.7 53.3Z M737.7 53.0 L738.2 42.2 L738.7 33.6 L739.2 29.3 L739.7 30.3 L740.2 36.3 L740.7 45.9Z" fill="#1818e8" fill-opacity="0.38" stroke="none"/>
<path d="M104.2 40.2 L104.7 34.4 L105.2 33.2 L105.7 37.1 L106.2 45.0 L106.7 55.0 L107.2 64.6 L107.7 72.0 L108.2 76.3 L108.7 77.9 L109.2 78.0 L109.7 77.6 L110.2 75.3 L110.7 69.9 L111.2 61.7 L111.7 51.7 L112.2 42.2 L112.7 35.4 L113.2 33.1 L113.7 35.7 L114.2 42.5 L114.7 51.8 L115.2 61.5 L115.7 69.6 L116.2 75.0 L116.7 77.5 L117.2 78.0 L117.7 77.9 L118.2 76.8 L118.7 73.3 L119.2 66.8 L119.7 57.9 L120.2 48.1 L120.7 39.5 L121.2 34.1 L121.7 33.3 L122.2 37.3 L122.7 45.0 L123.2 54.6 L123.7 64.0 L124.2 71.4 L124.7 75.9 L125.2 77.8 L125.7 78.0 L126.2 77.8 L126.7 76.1 L127.2 71.7 L127.7 64.5 L128.2 55.1 L128.7 45.5 L129.2 37.6 L129.7 33.4 L130.2 34.0 L130.7 39.5 L131.2 48.4 L131.7 58.4 L132.2 67.5 L132.7 73.8 L133.2 77.1 L133.7 78.0 L134.2 78.0 L134.7 77.1 L135.2 73.8 L135.7 67.3 L136.2 58.2 L136.7 48.1 L137.2 39.2 L137.7 33.7 L138.2 33.2 L138.7 37.7 L139.2 46.1 L139.7 56.2 L140.2 65.7 L140.7 72.7 L141.2 76.6 L141.7 77.9 L142.2 78.0 L142.7 77.4 L143.2 74.7 L143.7 68.9 L144.2 60.3 L144.7 50.2 L145.2 40.8 L145.7 34.5 L146.2 32.9 L146.7 36.6 L147.2 44.7 L147.7 55.1 L148.2 65.0 L148.7 72.5 L149.2 76.6 L149.7 77.9 L150.2 78.0 L150.7 77.3 L151.2 74.2 L151.7 67.9 L152.2 58.6 L152.7 48.2 L153.2 39.1 L153.7 33.8 L154.2 33.6 L154.7 37.9 L155.2 45.6 L155.7 55.0 L156.2 64.1 L156.7 71.3 L157.2 75.8 L157.7 77.7 L158.2 78.0 L158.7 77.9 L159.2 76.5 L159.7 72.8 L160.2 66.3 L160.7 57.6 L161.2 48.1 L161.7 39.7 L162.2 34.3 L162.7 33.2 L163.2 36.8 L163.7 44.3 L164.2 53.8 L164.7 63.3 L165.2 70.9 L165.7 75.7 L166.2 77.7 L166.7 78.0 L167.2 77.8 L167.7 76.3 L168.2 72.2 L168.7 65.1 L169.2 55.9 L169.7 46.2 L170.2 38.1 L170.7 33.6 L171.2 33.8 L171.7 38.6 L172.2 46.8 L172.7 56.6 L173.2 65.7 L173.7 72.6 L174.2 76.5 L174.7 77.9 L175.2 78.0 L175.7 77.6 L176.2 75.4 L176.7 70.4 L177.2 62.6 L177.7 52.9 L178.2 43.3 L178.7 36.0 L179.2 32.6 L179.7 34.5 L180.2 41.6 L180.7 52.0 L181.2 62.6 L181.7 71.1 L182.2 76.1 L182.7 77.9 L183.2 78.0 L183.7 77.4 L184.2 74.4 L184.7 67.8 L185.2 58.1 L185.7 47.2 L186.2 37.8 L186.7 32.8 L187.2 33.1 L187.7 37.8 L188.2 45.6 L188.7 54.9 L189.2 63.9 L189.7 71.1 L190.2 75.6 L190.7 77.6 L191.2 78.0 L191.7 77.9 L192.2 77.0 L192.7 74.0 L193.2 68.7 L193.7 61.2 L194.2 52.6 L194.7 44.5 L195.2 38.6 L195.7 36.1 L196.2 38.0 L196.7 44.1 L197.2 52.8 L197.7 62.2 L198.2 70.1 L198.7 75.2 L199.2 77.5 L199.7 78.0 L200.2 77.9 L200.7 76.6 L201.2 72.7 L201.7 65.9 L202.2 56.9 L202.7 47.5 L203.2 39.8 L203.7 35.9 L204.2 36.7 L204.7 42.0 L205.2 50.5 L205.7 60.0 L206.2 68.5 L206.7 74.3 L207.2 77.2 L207.7 78.0 L208.2 78.0 L208.7 77.0 L209.2 73.7 L209.7 67.4 L210.2 58.6 L210.7 48.9 L211.2 40.5 L211.7 35.6 L212.2 35.3 L212.7 39.6 L213.2 47.3 L213.7 56.7 L214.2 65.5 L214.7 72.4 L215.2 76.3 L215.7 77.8 L216.2 78.0 L216.7 77.7 L217.2 75.8 L217.7 71.2 L218.2 63.8 L218.7 54.6 L219.2 45.3 L219.7 38.0 L220.2 34.5 L220.7 35.6 L221.2 41.1 L221.7 49.5 L222.2 59.1 L222.7 67.6 L223.2 73.7 L223.7 77.0 L224.2 78.0 L224.7 78.0 L225.2 77.4 L225.7 74.8 L226.2 69.5 L226.7 61.6 L227.2 52.2 L227.7 43.4 L228.2 37.1 L228.7 34.8 L229.2 37.4 L229.7 44.1 L230.2 53.4 L230.7 62.9 L231.2 70.7 L231.7 75.6 L232.2 77.7 L232.7 78.0 L233.2 77.8 L233.7 76.2 L234.2 72.0 L234.7 64.8 L235.2 55.6 L235.7 46.3 L236.2 39.0 L236.7 35.7 L237.2 37.2 L237.7 43.0 L238.2 51.8 L238.7 61.3 L239.2 69.4 L239.7 74.9 L240.2 77.4 L240.7 78.0 L241.2 77.9 L241.7 76.7 L242.2 73.0 L242.7 66.3 L243.2 57.3 L243.7 47.6 L244.2 39.6 L244.7 35.3 L245.2 35.6 L245.7 40.5 L246.2 48.5 L246.7 57.9 L247.2 66.6 L247.7 73.1 L248.2 76.7 L248.7 77.9 L249.2 78.0 L249.7 77.6 L250.2 75.3 L250.7 70.2 L251.2 62.4 L251.7 52.9 L252.2 43.6 L252.7 36.6 L253.2 33.6 L253.7 35.4 L254.2 41.4 L254.7 50.3 L255.2 60.0 L255.7 68.4 L256.2 74.2 L256.7 77.2 L257.2 78.0 L257.7 78.0 L258.2 77.2 L258.7 74.2 L259.2 68.5 L259.7 60.2 L260.2 50.7 L260.7 42.0 L261.2 36.0 L261.7 34.4 L262.2 37.6 L262.7 44.9 L263.2 54.4 L263.7 63.9 L264.2 71.5 L264.7 76.0 L265.2 77.8 L265.7 78.0 L266.2 77.7 L266.7 75.8 L267.2 71.2 L267.7 63.6 L268.2 54.3 L268.7 45.2 L269.2 38.3 L269.7 35.6 L270.2 37.6 L270.7 43.6 L271.2 52.2 L271.7 61.4 L272.2 69.3 L272.7 74.7 L273.2 77.3 L273.7 78.0 L274.2 78.0 L274.7 77.1 L275.2 74.1 L275.7 68.4 L276.2 60.3 L276.7 51.2 L277.2 42.9 L277.7 37.5 L278.2 36.2 L278.7 39.5 L279.2 46.5 L279.7 55.5 L280.2 64.5 L280.7 71.6 L281.2 76.0 L281.7 77.8 L282.2 78.0 L282.7 77.8 L283.2 76.1 L283.7 71.7 L284.2 64.5 L284.7 55.3 L285.2 46.0 L285.7 38.6 L286.2 35.0 L286.7 36.2 L287.2 41.9 L287.7 50.7 L288.2 60.3 L288.7 68.8 L289.2 74.5 L289.7 77.3 L290.2 78.0 L290.7 78.0 L291.2 76.9 L291.7 73.5 L292.2 67.1 L292.7 58.3 L293.2 48.8 L293.7 40.7 L294.2 36.2 L294.7 36.2 L295.2 40.7 L295.7 48.5 L296.2 57.7 L296.7 66.3 L297.2 72.8 L297.7 76.5 L298.2 77.9 L298.7 78.0 L299.2 77.6 L299.7 75.5 L300.2 70.6 L300.7 62.8 L301.2 53.3 L301.7 43.8 L302.2 36.5 L302.7 33.2 L303.2 34.7 L303.7 40.9 L304.2 50.2 L304.7 60.3 L305.2 68.9 L305.7 74.7 L306.2 77.4 L306.7 78.0 L307.2 77.9 L307.7 76.7 L308.2 73.1 L308.7 66.4 L309.2 57.4 L309.7 47.8 L310.2 39.9 L310.7 35.5 L311.2 35.9 L311.7 40.7 L312.2 48.7 L312.7 58.0 L313.2 66.7 L313.7 73.1 L314.2 76.7 L314.7 77.9 L315.2 78.0 L315.7 77.6 L316.2 75.4 L316.7 70.6 L317.2 63.1 L317.7 54.1 L318.2 45.2 L318.7 38.5 L319.2 35.6 L319.7 37.4 L320.2 43.5 L320.7 52.4 L321.2 61.9 L321.7 69.9 L322.2 75.1 L322.7 77.5 L323.2 78.0 L323.7 77.9 L324.2 76.6 L324.7 72.6 L325.2 65.7 L325.7 56.5 L326.2 46.9 L326.7 39.0 L327.2 34.9 L327.7 35.6 L328.2 40.7 L328.7 49.0 L329.2 58.4 L329.7 67.0 L330.2 73.4 L330.7 76.8 L331.2 77.9 L331.7 78.0 L332.2 77.5 L332.7 75.2 L333.2 70.1 L333.7 62.4 L334.2 53.1 L334.7 44.2 L335.2 37.7 L335.7 35.1 L336.2 37.2 L336.7 43.7 L337.2 52.8 L337.7 62.3 L338.2 70.2 L338.7 75.3 L339.2 77.6 L339.7 78.0 L340.2 77.9 L340.7 76.4 L341.2 72.4 L341.7 65.5 L342.2 56.4 L342.7 47.0 L343.2 39.5 L343.7 35.8 L344.2 36.8 L344.7 42.0 L345.2 50.2 L345.7 59.5 L346.2 67.8 L346.7 73.8 L347.2 77.0 L347.7 78.0 L348.2 78.0 L348.7 77.4 L349.2 74.9 L349.7 69.5 L350.2 61.6 L350.7 52.2 L351.2 43.3 L351.7 36.9 L352.2 34.6 L352.7 36.9 L353.2 43.3 L353.7 52.2 L354.2 61.6 L354.7 69.5 L355.2 74.9 L355.7 77.4 L356.2 78.0 L356.7 78.0 L357.2 77.0 L357.7 73.7 L358.2 67.7 L358.7 59.3 L359.2 49.9 L359.7 41.6 L360.2 36.3 L360.7 35.3 L361.2 39.0 L361.7 46.6 L362.2 56.1 L362.7 65.3 L363.2 72.3 L363.7 76.4 L364.2 77.9 L364.7 78.0 L365.2 77.6 L365.7 75.4 L366.2 70.3 L366.7 62.5 L367.2 53.1 L367.7 44.1 L368.2 37.7 L368.7 35.6 L369.2 38.2 L369.7 44.6 L370.2 53.4 L370.7 62.6 L371.2 70.2 L371.7 75.2 L372.2 77.5 L372.7 78.0 L373.2 77.9 L373.7 76.8 L374.2 73.5 L374.7 67.3 L375.2 58.9 L375.7 49.6 L376.2 41.6 L376.7 36.6 L377.2 35.9 L377.7 39.9 L378.2 47.6 L378.7 57.0 L379.2 66.0 L379.7 72.8 L380.2 76.6 L380.7 77.9 L381.2 78.0 L381.7 77.5 L382.2 75.1 L382.7 69.8 L383.2 61.7 L383.7 52.1 L384.2 43.1 L384.7 36.9 L385.2 35.1 L385.7 38.0 L386.2 44.8 L386.7 53.8 L387.2 63.0 L387.7 70.5 L388.2 75.4 L388.7 77.6 L389.2 78.0 L389.7 77.9 L390.2 76.7 L390.7 73.0 L391.2 66.5 L391.7 57.8 L392.2 48.4 L392.7 40.2 L393.2 35.4 L393.7 35.0 L394.2 39.4 L394.7 47.5 L395.2 57.2 L395.7 66.3 L396.2 73.0 L396.7 76.7 L397.2 77.9 L397.7 78.0 L398.2 77.4 L398.7 74.8 L399.2 69.3 L399.7 61.1 L400.2 51.5 L400.7 42.6 L401.2 36.7 L401.7 35.2 L402.2 38.4 L402.7 45.3 L403.2 54.4 L403.7 63.5 L404.2 70.9 L404.7 75.6 L405.2 77.6 L405.7 78.0 L406.2 77.9 L406.7 76.5 L407.2 72.8 L407.7 66.3 L408.2 57.7 L408.7 48.5 L409.2 40.7 L409.7 36.2 L410.2 36.1 L410.7 40.1 L411.2 47.4 L411.7 56.2 L412.2 64.7 L412.7 71.5 L413.2 75.7 L413.7 77.5 L414.2 77.8 L414.7 77.6 L415.2 76.2 L415.7 72.4 L416.2 65.9 L416.7 57.5 L417.2 48.8 L417.7 42.0 L418.2 38.8 L418.7 40.2 L419.2 46.2 L419.7 54.9 L420.2 63.6 L420.7 70.0 L421.2 73.2 L421.7 74.0 L422.2 73.9 L422.7 73.4 L423.2 71.7 L423.7 68.5 L424.2 63.8 L424.7 58.4 L425.2 53.1 L425.7 48.8 L426.2 46.5 L426.7 46.6 L427.2 49.1 L427.7 53.4 L428.2 58.6 L428.7 63.6 L429.2 67.6 L429.7 70.1 L430.2 71.2 L430.7 71.4 L431.2 71.2 L431.7 70.0 L432.2 67.3 L432.7 63.4 L433.2 59.0 L433.7 55.0 L434.2 52.6 L434.7 52.1 L435.2 53.4 L435.7 56.0 L436.2 59.3 L436.7 62.8 L437.2 65.9 L437.7 68.1 L438.2 69.3 L438.7 69.7 L439.2 69.6 L439.7 68.9 L440.2 67.3 L440.7 64.9 L441.2 62.1 L441.7 59.3 L442.2 57.1 L442.7 56.0 L443.2 56.0 L443.7 57.1 L444.2 58.9 L444.7 61.1 L445.2 63.3 L445.7 65.3 L446.2 66.7 L446.7 67.5 L447.2 67.6 L447.7 67.5 L448.2 67.1 L448.7 66.2 L449.2 65.0 L449.7 63.6 L450.2 62.1 L450.7 60.9 L451.2 59.9 L451.7 59.4 L452.2 59.4 L452.7 60.1 L453.2 61.3 L453.7 62.7 L454.2 64.2 L454.7 65.4 L455.2 66.3 L455.7 66.7 L456.2 66.8 L456.7 66.6 L457.2 66.0 L457.7 65.1 L458.2 64.1 L458.7 63.0 L459.2 62.1 L459.7 61.5 L460.2 61.2 L460.7 61.3 L461.2 61.8 L461.7 62.7 L462.2 63.7 L462.7 64.7 L463.2 65.6 L463.7 66.2 L464.2 66.6 M511.2 70.9 L511.7 70.9 L512.2 70.8 L512.7 70.6 L513.2 70.1 L513.7 69.4 L514.2 68.7 L514.7 67.8 L515.2 67.0 L515.7 66.2 L516.2 65.6 L516.7 65.2 L517.2 65.0 M520.7 69.2 L521.2 68.9 L521.7 68.6 L522.2 67.5 L522.7 65.4 L523.2 62.3 L523.7 58.6 L524.2 54.7 L524.7 51.5 L525.2 49.4 L525.7 48.8 L526.2 50.7 L526.7 54.8 L527.2 60.1 L527.7 65.0 L528.2 68.4 L528.7 69.9 L529.2 70.2 L529.7 69.9 L530.2 67.9 L530.7 63.0 L531.2 55.2 L531.7 45.6 L532.2 36.2 L532.7 29.2 L533.2 26.5 L533.7 28.7 L534.2 35.4 L534.7 45.0 L535.2 55.4 L535.7 64.5 L536.2 71.1 L536.7 74.6 L537.2 75.7 L537.7 75.7 L538.2 74.9 L538.7 71.1 L539.2 63.5 L539.7 52.6 L540.2 40.8 L540.7 31.0 L541.2 26.2 L541.7 27.5 L542.2 34.2 L542.7 44.5 L543.2 56.2 L543.7 66.6 L544.2 74.0 L544.7 78.0 L545.2 79.2 L545.7 79.3 L546.2 78.5 L546.7 75.4 L547.2 69.0 L547.7 59.5 L548.2 48.2 L548.7 37.6 L549.2 29.9 L549.7 27.2 L550.2 30.3 L550.7 38.4 L551.2 49.6 L551.7 61.1 L552.2 70.5 L552.7 76.4 L553.2 78.9 L553.7 79.3 L554.2 79.0 L554.7 77.0 L555.2 71.6 L555.7 62.5 L556.2 50.9 L556.7 39.0 L557.2 29.8 L557.7 25.6 L558.2 27.2 L558.7 34.0 L559.2 44.3 L559.7 55.8 L560.2 66.2 L560.7 73.7 L561.2 77.8 L561.7 79.2 L562.2 79.3 L562.7 78.7 L563.2 75.9 L563.7 69.8 L564.2 60.4 L564.7 48.8 L565.2 37.4 L565.7 28.5 L566.2 24.1 L566.7 25.7 L567.2 33.0 L567.7 44.2 L568.2 56.6 L568.7 67.4 L569.2 74.8 L569.7 78.4 L570.2 79.3 L570.7 79.2 L571.2 77.8 L571.7 73.3 L572.2 65.0 L572.7 53.6 L573.2 41.2 L573.7 30.7 L574.2 24.7 L574.7 24.8 L575.2 30.6 L575.7 40.7 L576.2 52.7 L576.7 64.0 L577.2 72.5 L577.7 77.4 L578.2 79.1 L578.7 79.3 L579.2 78.8 L579.7 76.2 L580.2 70.1 L580.7 60.6 L581.2 48.8 L581.7 37.2 L582.2 28.2 L582.7 24.1 L583.2 26.0 L583.7 33.6 L584.2 45.1 L584.7 57.4 L585.2 68.1 L585.7 75.2 L586.2 78.5 L586.7 79.3 L587.2 79.2 L587.7 77.6 L588.2 72.8 L588.7 64.2 L589.2 52.5 L589.7 40.0 L590.2 29.6 L590.7 24.0 L591.2 24.5 L591.7 30.7 L592.2 41.1 L592.7 53.3 L593.2 64.5 L593.7 72.9 L594.2 77.5 L594.7 79.1 L595.2 79.3 L595.7 78.7 L596.2 75.9 L596.7 69.5 L597.2 59.7 L597.7 47.7 L598.2 36.0 L598.7 27.3 L599.2 23.5 L599.7 25.8 L600.2 33.9 L600.7 45.6 L601.2 58.0 L601.7 68.6 L602.2 75.5 L602.7 78.6 L603.2 79.3 L603.7 79.1 L604.2 77.4 L604.7 72.4 L605.2 63.6 L605.7 51.9 L606.2 39.6 L606.7 29.5 L607.2 24.3 L607.7 25.2 L608.2 31.7 L608.7 42.3 L609.2 54.3 L609.7 65.3 L610.2 73.3 L610.7 77.7 L611.2 79.2 L611.7 79.3 L612.2 78.6 L612.7 75.7 L613.2 69.4 L613.7 59.9 L614.2 48.4 L614.7 37.3 L615.2 29.2 L615.7 26.0 L616.2 28.6 L616.7 36.6 L617.2 47.9 L617.7 59.7 L618.2 69.6 L618.7 76.0 L619.2 78.8 L619.7 79.3 L620.2 79.1 L620.7 77.3 L621.2 72.3 L621.7 63.6 L622.2 52.4 L622.7 40.7 L623.2 31.3 L623.7 26.7 L624.2 28.0 L624.7 34.5 L625.2 44.7 L625.7 56.2 L626.2 66.6 L626.7 74.0 L627.2 78.0 L627.7 79.2 L628.2 79.3 L628.7 78.6 L629.2 75.5 L629.7 69.1 L630.2 59.6 L630.7 48.4 L631.2 37.7 L631.7 30.0 L632.2 27.2 L632.7 30.0 L633.2 37.7 L633.7 48.4 L634.2 59.6 L634.7 69.1 L635.2 75.5 L635.7 78.6 L636.2 79.3 L636.7 79.2 L637.2 78.0 L637.7 74.2 L638.2 66.9 L638.7 56.9 L639.2 45.7 L639.7 35.8 L640.2 29.4 L640.7 28.2 L641.2 32.7 L641.7 41.8 L642.2 53.1 L642.7 64.1 L643.2 72.5 L643.7 77.4 L644.2 79.1 L644.7 79.3 L645.2 78.8 L645.7 76.1 L646.2 70.0 L646.7 60.5 L647.2 49.1 L647.7 38.2 L648.2 30.5 L648.7 28.0 L649.2 31.1 L649.7 38.9 L650.2 49.6 L650.7 60.6 L651.2 69.8 L651.7 75.9 L652.2 78.7 L652.7 79.3 L653.2 79.2 L653.7 77.9 L654.2 73.9 L654.7 66.6 L655.2 56.6 L655.7 45.7 L656.2 36.1 L656.7 30.2 L657.2 29.4 L657.7 34.1 L658.2 43.2 L658.7 54.4 L659.2 65.0 L659.7 73.1 L660.2 77.6 L660.7 79.2 L661.2 79.3 L661.7 78.7 L662.2 75.9 L662.7 69.8 L663.2 60.4 L663.7 49.4 L664.2 39.0 L664.7 31.9 L665.2 29.8 L665.7 33.2 L666.2 41.0 L666.7 51.3 L667.2 61.9 L667.7 70.6 L668.2 76.3 L668.7 78.8 L669.2 79.3 L669.7 79.2 L670.2 77.8 L670.7 73.6 L671.2 66.3 L671.7 56.5 L672.2 45.8 L672.7 36.7 L673.2 31.2 L673.7 30.8 L674.2 35.7 L674.7 44.8 L675.2 55.8 L675.7 66.0 L676.2 73.6 L676.7 77.8 L677.2 79.2 L677.7 79.3 L678.2 78.6 L678.7 75.6 L679.2 69.1 L679.7 59.4 L680.2 48.2 L680.7 37.8 L681.2 30.9 L681.7 29.1 L682.2 32.8 L682.7 41.0 L683.2 51.6 L683.7 62.3 L684.2 71.0 L684.7 76.5 L685.2 78.9 L685.7 79.3 L686.2 79.1 L686.7 77.5 L687.2 72.9 L687.7 64.9 L688.2 54.3 L688.7 43.0 L689.2 33.5 L689.7 28.0 L690.2 27.9 L690.7 33.5 L691.2 43.4 L691.7 55.1 L692.2 65.8 L692.7 73.7 L693.2 77.9 L693.7 79.2 L694.2 79.3 L694.7 78.5 L695.2 75.1 L695.7 68.2 L696.2 58.0 L696.7 46.3 L697.2 35.7 L697.7 28.8 L698.2 27.4 L698.7 31.6 L699.2 40.3 L699.7 51.4 L700.2 62.4 L700.7 71.2 L701.2 76.6 L701.7 78.9 L702.2 79.3 L702.7 79.1 L703.2 77.2 L703.7 72.3 L704.2 63.9 L704.7 52.9 L705.2 41.4 L705.7 31.9 L706.2 26.6 L706.7 26.9 L707.2 33.0 L707.7 43.3 L708.2 55.3 L708.7 66.2 L709.2 73.9 L709.7 78.0 L710.2 79.2 L710.7 79.3 L711.2 78.3 L711.7 74.7 L712.2 67.6 L712.7 57.2 L713.2 45.5 L713.7 35.1 L714.2 28.6 L714.7 27.5 L715.2 32.1 L715.7 41.0 L716.2 52.2 L716.7 63.1 L717.2 71.6 L717.7 76.9 L718.2 79.0 L718.7 79.3 L719.2 79.0 L719.7 77.0 L720.2 72.0 L720.7 63.6 L721.2 52.8 L721.7 41.6 L722.2 32.5 L722.7 27.7 L723.2 28.4 L723.7 34.7 L724.2 44.9 L724.7 56.6 L725.2 67.1 L725.7 74.5 L726.2 78.2 L726.7 79.3 L727.2 79.2 L727.7 78.2 L728.2 74.5 L728.7 67.1 L729.2 56.8 L729.7 45.3 L730.2 35.2 L730.7 29.1 L731.2 28.4 L731.7 33.3 L732.2 42.3 L732.7 53.3 L733.2 64.0 L733.7 72.2 L734.2 77.1 L734.7 79.0 L735.2 79.3 L735.7 79.0 L736.2 76.9 L736.7 71.8 L737.2 63.5 L737.7 53.0 L738.2 42.2 L738.7 33.6 L739.2 29.3 L739.7 30.3 L740.2 36.3 L740.7 45.9 L741.2 56.9 L741.7 66.8 L742.2 74.0 L742.7 77.9 L743.2 79.2 L743.7 79.3 L744.2 78.7 L744.7 76.0 L745.2 70.2 L745.7 61.4 L746.2 51.1 L746.7 41.1" fill="none" stroke="#1a1af0" stroke-opacity="0.42" stroke-width="2.8" stroke-linejoin="round"/>
<path d="M464.2 66.6 L464.7 66.7 L465.2 66.6 L465.7 66.0 L466.2 65.3 L466.7 64.4 L467.2 63.7 L467.7 63.0 L468.2 62.5 L468.7 62.3 L469.2 62.5 L469.7 63.0 L470.2 63.7 L470.7 64.5 L471.2 65.4 L471.7 66.1 L472.2 66.4 L472.7 66.6 L473.2 66.7 L473.7 66.6 L474.2 66.2 L474.7 65.5 L475.2 64.9 L475.7 64.2 L476.2 63.5 L476.7 63.1 L477.2 63.1 L477.7 63.3 L478.2 63.5 L478.7 63.9 L479.2 64.5 L479.7 65.3 L480.2 65.8 L480.7 66.2 L481.2 66.4 L481.7 66.4 L482.2 66.0 L482.7 65.5 L483.2 65.1 L483.7 64.9 L484.2 64.4 L484.7 63.8 L485.2 63.5 L485.7 63.4 L486.2 63.4 L486.7 63.7 L487.2 64.3 L487.7 64.9 L488.2 65.2 L488.7 65.3 L489.2 65.5 L489.7 65.8 L490.2 65.9 L490.7 65.7 L491.2 65.5 L491.7 65.0 L492.2 64.4 L492.7 63.7 L493.2 63.6 L493.7 63.7 L494.2 63.7 L494.7 63.6 L495.2 63.8 L495.7 64.2 L496.2 64.6 L496.7 64.9 L497.2 65.4 L497.7 65.7 L498.2 65.5 L498.7 64.9 L499.2 64.4 L499.7 64.3 L500.2 64.2 L500.7 64.0 L501.2 64.1 L501.7 64.5 L502.2 65.0 L502.7 65.4 L503.2 66.0 L503.7 66.5 L504.2 66.9 L504.7 66.4 L505.2 65.9 L505.7 65.8 L506.2 65.8 L506.7 66.2 L507.2 66.5 L507.7 67.0 L508.2 67.6 L508.7 68.2 L509.2 69.0 L509.7 69.7 L510.2 70.3 L510.7 70.7 L511.2 70.9 M517.2 65.0 L517.7 65.1 L518.2 65.6 L518.7 66.3 L519.2 67.2 L519.7 68.1 L520.2 68.9 L520.7 69.2" fill="none" stroke="#1a1af0" stroke-opacity="0.22" stroke-width="2.4" stroke-linejoin="round"/>
<use href="#w0" fill="none" stroke="#0b0b6a" stroke-width="1.3" stroke-linejoin="round"/>
<rect x="103.4" y="12.2" width="644.3" height="77.9" fill="none" stroke="#555555" stroke-width="1.05"/>
<path d="M189.3 12.2 v6.5 M189.3 90.1 v-6.5 M275.2 12.2 v6.5 M275.2 90.1 v-6.5 M361.1 12.2 v6.5 M361.1 90.1 v-6.5 M447.0 12.2 v6.5 M447.0 90.1 v-6.5 M532.9 12.2 v6.5 M532.9 90.1 v-6.5 M618.8 12.2 v6.5 M618.8 90.1 v-6.5 M704.7 12.2 v6.5 M704.7 90.1 v-6.5 M103.4 51.1 h6.5 M747.7 51.1 h-6.5" stroke="#555555" stroke-width="1.05" fill="none"/>
<defs><path id="w1" d="M104.2 145.9 L104.7 155.3 L105.2 164.5 L105.7 171.7 L106.2 176.2 L106.7 178.0 L107.2 178.3 L107.7 178.1 L108.2 176.4 L108.7 172.2 L109.2 165.1 L109.7 156.0 L110.2 146.6 L110.7 138.8 L111.2 134.7 L111.7 135.2 L112.2 140.5 L112.7 149.1 L113.2 159.0 L113.7 167.9 L114.2 174.1 L114.7 177.3 L115.2 178.2 L115.7 178.2 L116.2 177.4 L116.7 174.2 L117.2 168.0 L117.7 159.1 L118.2 149.3 L118.7 140.6 L119.2 135.3 L119.7 134.7 L120.2 138.8 L120.7 146.4 L121.2 155.9 L121.7 165.0 L122.2 172.1 L122.7 176.4 L123.2 178.1 L123.7 178.3 L124.2 178.0 L124.7 176.2 L125.2 171.8 L125.7 164.6 L126.2 155.4 L126.7 146.0 L127.2 138.4 L127.7 134.6 L128.2 135.5 L128.7 141.0 L129.2 149.8 L129.7 159.7 L130.2 168.4 L130.7 174.4 L131.2 177.5 L131.7 178.3 L132.2 178.2 L132.7 177.2 L133.2 173.8 L133.7 167.4 L134.2 158.4 L134.7 148.5 L135.2 139.9 L135.7 134.8 L136.2 134.6 L136.7 139.0 L137.2 146.9 L137.7 156.4 L138.2 165.5 L138.7 172.5 L139.2 176.6 L139.7 178.1 L140.2 178.3 L140.7 178.0 L141.2 176.0 L141.7 171.4 L142.2 164.0 L142.7 154.7 L143.2 145.4 L143.7 138.1 L144.2 134.5 L144.7 135.7 L145.2 141.5 L145.7 150.4 L146.2 160.3 L146.7 168.9 L147.2 174.7 L147.7 177.6 L148.2 178.3 L148.7 178.2 L149.2 177.1 L149.7 173.5 L150.2 166.9 L150.7 157.8 L151.2 148.0 L151.7 139.7 L152.2 134.9 L152.7 135.0 L153.2 139.6 L153.7 147.7 L154.2 157.2 L154.7 166.1 L155.2 172.9 L155.7 176.7 L156.2 178.1 L156.7 178.3 L157.2 177.9 L157.7 175.8 L158.2 171.0 L158.7 163.4 L159.2 154.1 L159.7 144.8 L160.2 137.7 L160.7 134.4 L161.2 135.9 L161.7 142.0 L162.2 151.1 L162.7 160.9 L163.2 169.4 L163.7 175.0 L164.2 177.7 L164.7 178.3 L165.2 178.2 L165.7 177.0 L166.2 173.2 L166.7 166.4 L167.2 157.2 L167.7 147.4 L168.2 139.2 L168.7 134.8 L169.2 135.1 L169.7 140.1 L170.2 148.3 L170.7 157.8 L171.2 166.7 L171.7 173.2 L172.2 176.9 L172.7 178.2 L173.2 178.3 L173.7 177.8 L174.2 175.6 L174.7 170.6 L175.2 162.9 L175.7 153.5 L176.2 144.3 L176.7 137.3 L177.2 134.4 L177.7 136.1 L178.2 142.1 L178.7 150.9 L179.2 160.4 L179.7 168.8 L180.2 174.5 L180.7 177.5 L181.2 178.2 L181.7 178.2 L182.2 177.4 L182.7 174.5 L183.2 168.6 L183.7 160.2 L184.2 150.6 L184.7 141.8 L185.2 135.8 L185.7 134.1 L186.2 137.4 L186.7 144.7 L187.2 154.4 L187.7 164.0 L188.2 171.6 L188.7 176.2 L189.2 178.0 L189.7 178.3 L190.2 178.0 L190.7 176.1 L191.2 171.4 L191.7 163.8 L192.2 154.4 L192.7 145.2 L193.2 138.3 L193.7 135.6 L194.2 137.6 L194.7 143.6 L195.2 152.3 L195.7 161.6 L196.2 169.5 L196.7 174.9 L197.2 177.6 L197.7 178.3 L198.2 178.2 L198.7 177.3 L199.2 174.2 L199.7 168.2 L200.2 159.7 L200.7 150.1 L201.2 141.5 L201.7 135.8 L202.2 134.4 L202.7 138.0 L203.2 145.5 L203.7 155.2 L204.2 164.7 L204.7 172.1 L205.2 176.4 L205.7 178.1 L206.2 178.3 L206.7 177.9 L207.2 175.8 L207.7 170.7 L208.2 162.7 L208.7 152.9 L209.2 143.5 L209.7 136.6 L210.2 134.1 L210.7 136.4 L211.2 143.0 L211.7 152.0 L212.2 161.6 L212.7 169.7 L213.2 175.1 L213.7 177.7 L214.2 178.3 L214.7 178.2 L215.2 177.2 L215.7 173.9 L216.2 167.7 L216.7 159.1 L217.2 149.5 L217.7 141.0 L218.2 135.6 L218.7 134.5 L219.2 138.4 L219.7 146.1 L220.2 155.9 L220.7 165.3 L221.2 172.5 L221.7 176.6 L222.2 178.1 L222.7 178.3 L223.2 177.8 L223.7 175.5 L224.2 170.3 L224.7 162.2 L225.2 152.4 L225.7 143.1 L226.2 136.5 L226.7 134.3 L227.2 137.0 L227.7 143.7 L228.2 152.8 L228.7 162.3 L229.2 170.2 L229.7 175.3 L230.2 177.7 L230.7 178.3 L231.2 178.2 L231.7 177.0 L232.2 173.5 L232.7 167.1 L233.2 158.3 L233.7 148.7 L234.2 140.3 L234.7 135.1 L235.2 134.4 L235.7 138.5 L236.2 146.6 L236.7 156.4 L237.2 165.7 L237.7 172.8 L238.2 176.8 L238.7 178.2 L239.2 178.3 L239.7 177.8 L240.2 175.3 L240.7 169.8 L241.2 161.5 L241.7 151.6 L242.2 142.4 L242.7 136.0 L243.2 134.1 L243.7 137.1 L244.2 144.1 L244.7 153.3 L245.2 162.8 L245.7 170.5 L246.2 175.6 L246.7 177.8 L247.2 178.3 L247.7 178.2 L248.2 176.9 L248.7 173.1 L249.2 166.5 L249.7 157.5 L250.2 147.7 L250.7 139.4 L251.2 134.4 L251.7 134.0 L252.2 138.5 L252.7 146.8 L253.2 156.8 L253.7 166.2 L254.2 173.1 L254.7 176.9 L255.2 178.2 L255.7 178.3 L256.2 177.6 L256.7 174.9 L257.2 168.9 L257.7 160.1 L258.2 149.8 L258.7 140.4 L259.2 134.0 L259.7 132.4 L260.2 135.8 L260.7 143.3 L261.2 153.0 L261.7 162.8 L262.2 170.7 L262.7 175.7 L263.2 177.9 L263.7 178.3 L264.2 178.1 L264.7 176.7 L265.2 172.7 L265.7 165.8 L266.2 156.6 L266.7 146.8 L267.2 138.5 L267.7 133.7 L268.2 133.7 L268.7 138.5 L269.2 147.1 L269.7 157.2 L270.2 166.6 L270.7 173.4 L271.2 177.1 L271.7 178.2 L272.2 178.3 L272.7 177.6 L273.2 174.7 L273.7 168.7 L274.2 160.0 L274.7 150.0 L275.2 140.9 L275.7 134.9 L276.2 133.7 L276.7 137.4 L277.2 144.8 L277.7 154.3 L278.2 163.8 L278.7 171.3 L279.2 176.0 L279.7 177.9 L280.2 178.3 L280.7 178.1 L281.2 176.5 L281.7 172.4 L282.2 165.4 L282.7 156.2 L283.2 146.5 L283.7 138.5 L284.2 134.1 L284.7 134.3 L285.2 139.3 L285.7 147.7 L286.2 157.6 L286.7 166.7 L287.2 173.3 L287.7 177.0 L288.2 178.2 L288.7 178.3 L289.2 177.7 L289.7 175.1 L290.2 169.6 L290.7 161.3 L291.2 151.5 L291.7 142.2 L292.2 135.7 L292.7 133.6 L293.2 136.3 L293.7 143.1 L294.2 152.4 L294.7 162.0 L295.2 170.0 L295.7 175.3 L296.2 177.7 L296.7 178.3 L297.2 178.2 L297.7 177.0 L298.2 173.5 L298.7 167.1 L299.2 158.3 L299.7 148.7 L300.2 140.3 L300.7 135.1 L301.2 134.4 L301.7 138.5 L302.2 146.6 L302.7 156.4 L303.2 165.7 L303.7 172.8 L304.2 176.8 L304.7 178.2 L305.2 178.3 L305.7 177.8 L306.2 175.3 L306.7 169.8 L307.2 161.5 L307.7 151.6 L308.2 142.4 L308.7 136.0 L309.2 134.1 L309.7 137.1 L310.2 144.1 L310.7 153.3 L311.2 162.8 L311.7 170.5 L312.2 175.6 L312.7 177.8 L313.2 178.3 L313.7 178.2 L314.2 176.9 L314.7 173.1 L315.2 166.5 L315.7 157.5 L316.2 147.7 L316.7 139.4 L317.2 134.4 L317.7 134.0 L318.2 138.5 L318.7 146.8 L319.2 156.8 L319.7 166.2 L320.2 173.1 L320.7 176.9 L321.2 178.2 L321.7 178.3 L322.2 177.6 L322.7 174.9 L323.2 168.9 L323.7 160.1 L324.2 149.8 L324.7 140.4 L325.2 134.0 L325.7 132.4 L326.2 135.8 L326.7 143.3 L327.2 153.0 L327.7 162.8 L328.2 170.7 L328.7 175.7 L329.2 177.9 L329.7 178.3 L330.2 178.1 L330.7 176.7 L331.2 172.7 L331.7 165.8 L332.2 156.6 L332.7 146.8 L333.2 138.5 L333.7 133.7 L334.2 133.7 L334.7 138.5 L335.2 147.1 L335.7 157.2 L336.2 166.6 L336.7 173.4 L337.2 177.1 L337.7 178.2 L338.2 178.3 L338.7 177.5 L339.2 174.6 L339.7 168.4 L340.2 159.5 L340.7 149.2 L341.2 139.8 L341.7 133.7 L342.2 132.5 L342.7 136.2 L343.2 143.9 L343.7 153.7 L344.2 163.4 L344.7 171.1 L345.2 175.9 L345.7 177.9 L346.2 178.3 L346.7 178.1 L347.2 176.5 L347.7 172.3 L348.2 165.2 L348.7 155.9 L349.2 146.1 L349.7 138.1 L350.2 133.6 L350.7 133.8 L351.2 139.0 L351.7 147.8 L352.2 157.9 L352.7 167.1 L353.2 173.7 L353.7 177.2 L354.2 178.2 L354.7 178.3 L355.2 177.5 L355.7 174.4 L356.2 168.3 L356.7 159.5 L357.2 149.6 L357.7 140.8 L358.2 135.2 L358.7 134.3 L359.2 138.2 L359.7 145.8 L360.2 155.3 L360.7 164.5 L361.2 171.8 L361.7 176.2 L362.2 178.0 L362.7 178.3 L363.2 178.1 L363.7 176.6 L364.2 173.0 L364.7 166.9 L365.2 159.0 L365.7 150.9 L366.2 144.2 L366.7 140.7 L367.2 141.2 L367.7 145.5 L368.2 152.4 L368.7 160.0 L369.2 166.4 L369.7 170.3 L370.2 172.0 L370.7 172.2 L371.2 172.0 L371.7 171.2 L372.2 169.2 L372.7 166.0 L373.2 161.8 L373.7 157.4 L374.2 153.3 L374.7 150.5 L375.2 149.3 L375.7 150.1 L376.2 152.7 L376.7 156.5 L377.2 160.7 L377.7 164.5 L378.2 167.2 L378.7 168.6 L379.2 168.9 L379.7 168.8 L380.2 168.0 L380.7 166.2 L381.2 163.6 L381.7 160.5 L382.2 157.4 L382.7 155.1 L383.2 153.9 L383.7 154.1 L384.2 155.3 L384.7 157.4 L385.2 160.0 L385.7 162.5 L386.2 164.7 L386.7 166.2 L387.2 167.0 L387.7 167.1 L388.2 166.9 L388.7 166.1 L389.2 164.6 L389.7 162.7 L390.2 160.6 L390.7 158.7 L391.2 157.4 L391.7 156.9 L392.2 157.3 L392.7 158.4 L393.2 160.1 L393.7 162.1 L394.2 163.9 L394.7 165.3 L395.2 166.1 L395.7 166.4 L396.2 166.3 L396.7 165.9 L397.2 164.9 L397.7 163.7 L398.2 162.2 L398.7 160.8 L399.2 159.7 L399.7 159.0 L400.2 158.8 L400.7 159.3 L401.2 160.2 L401.7 161.6 L402.2 163.0 L402.7 164.3 L403.2 165.3 L403.7 165.9 L404.2 166.1 L404.7 165.9 L405.2 165.4 L405.7 164.5 L406.2 163.5 L406.7 162.3 L407.2 161.3 L407.7 160.5 L408.2 160.0 L408.7 160.0 L409.2 160.4 L409.7 161.2 L410.2 162.3 L410.7 163.3 L411.2 164.3 L411.7 165.0 L412.2 165.3 L412.7 165.4 L413.2 165.2 L413.7 164.7 L414.2 164.1 L414.7 163.4 L415.2 162.6 L415.7 161.8 L416.2 161.3 L416.7 161.0 L417.2 161.2 L417.7 161.6 L418.2 162.4 L418.7 163.2 L419.2 164.1 L419.7 164.7 L420.2 165.2 L420.7 165.4 L421.2 165.5 L421.7 165.3 L422.2 164.7 L422.7 164.0 L423.2 163.3 L423.7 162.6 L424.2 162.0 L424.7 161.7 L425.2 161.7 L425.7 161.7 L426.2 161.9 L426.7 162.4 L427.2 163.2 L427.7 163.9 L428.2 164.4 L428.7 164.8 L429.2 165.1 L429.7 164.9 L430.2 164.6 L430.7 164.3 L431.2 164.0 L431.7 163.4 L432.2 162.6 L432.7 162.0 L433.2 161.8 L433.7 161.7 L434.2 161.9 L434.7 162.4 L435.2 163.1 L435.7 163.6 L436.2 163.9 L436.7 164.4 L437.2 164.9 L437.7 165.1 L438.2 165.1 L438.7 164.9 L439.2 164.5 L439.7 163.9 L440.2 163.3 L440.7 162.9 L441.2 162.7 L441.7 162.5 L442.2 162.2 L442.7 162.2 L443.2 162.6 L443.7 163.2 L444.2 163.7 L444.7 164.3 L445.2 164.9 L445.7 165.1 L446.2 164.9 L446.7 164.8 L447.2 164.8 L447.7 164.6 L448.2 164.1 L448.7 163.5 L449.2 163.0 L449.7 162.6 L450.2 162.3 L450.7 162.3 L451.2 162.7 L451.7 163.1 L452.2 163.1 L452.7 163.2 L453.2 163.6 L453.7 164.2 L454.2 164.5 L454.7 164.6 L455.2 164.8 L455.7 164.7 L456.2 164.2 L456.7 163.8 L457.2 163.8 L457.7 163.8 L458.2 163.4 L458.7 162.9 L459.2 162.8 L459.7 162.9 L460.2 162.9 L460.7 163.2 L461.2 163.7 L461.7 164.2 L462.2 164.1 L462.7 164.0 L463.2 164.1 L463.7 164.5 L464.2 164.5 L464.7 164.3 L465.2 164.1 L465.7 163.8 L466.2 163.3 L466.7 162.9 L467.2 163.1 L467.7 163.5 L468.2 163.5 L468.7 163.3 L469.2 163.3 L469.7 163.7 L470.2 163.9 L470.7 164.1 L471.2 164.5 L471.7 164.7 L472.2 164.5 L472.7 164.0 L473.2 163.8 L473.7 164.0 L474.2 163.9 L474.7 163.5 L475.2 163.3 L475.7 163.2 L476.2 163.0 L476.7 162.9 L477.2 163.3 L477.7 163.9 L478.2 164.2 L478.7 164.0 L479.2 163.9 L479.7 164.2 L480.2 164.4 L480.7 164.4 L481.2 164.4 L481.7 164.3 L482.2 163.9 L482.7 163.3 L483.2 163.0 L483.7 163.2 L484.2 163.4 L484.7 163.3 L485.2 163.2 L485.7 163.4 L486.2 163.7 L486.7 163.8 L487.2 164.2 L487.7 164.7 L488.2 164.2 L488.7 164.0 L489.2 163.7 L489.7 163.2 L490.2 162.6 L490.7 161.9 L491.2 161.1 L491.7 160.4 L492.2 159.8 L492.7 159.5 L493.2 159.3 L493.7 159.6 L494.2 159.7 L494.7 159.9 L495.2 160.1 L495.7 160.4 L496.2 160.8 L496.7 161.1 L497.2 161.6 L497.7 162.0 L498.2 162.5 L498.7 163.0 L499.2 163.5 L499.7 164.0 L500.2 164.5 L500.7 165.0 L501.2 165.4 L501.7 165.9 L502.2 166.3 L502.7 166.6 L503.2 166.9 L503.7 167.1 L504.2 167.3 L504.7 167.5 L505.2 167.6 L505.7 167.7 L506.2 167.7 L506.7 167.8 L507.2 167.6 L507.7 167.3 L508.2 166.7 L508.7 166.0 L509.2 165.2 L509.7 164.3 L510.2 163.5 L510.7 162.8 L511.2 162.2 L511.7 161.9 L512.2 161.7 L512.7 161.4 L513.2 161.6 L513.7 162.2 L514.2 162.9 L514.7 163.1 L515.2 162.3 L515.7 161.8 L516.2 160.2 L516.7 157.4 L517.2 153.8 L517.7 150.0 L518.2 146.7 L518.7 144.6 L519.2 144.3 L519.7 145.2 L520.2 147.0 L520.7 149.3 L521.2 151.8 L521.7 153.9 L522.2 155.4 L522.7 156.1 L523.2 156.2 L523.7 156.0 L524.2 155.0 L524.7 153.3 L525.2 151.0 L525.7 148.5 L526.2 146.1 L526.7 144.2 L527.2 143.3 L527.7 143.5 L528.2 145.4 L528.7 148.7 L529.2 152.7 L529.7 156.6 L530.2 159.8 L530.7 161.9 L531.2 162.9 L531.7 163.1 L532.2 162.9 L532.7 161.8 L533.2 159.4 L533.7 155.9 L534.2 151.8 L534.7 147.8 L535.2 144.9 L535.7 143.7 L536.2 144.5 L536.7 147.3 L537.2 151.4 L537.7 156.1 L538.2 160.4 L538.7 163.7 L539.2 165.6 L539.7 166.3 L540.2 166.4 L540.7 165.9 L541.2 163.9 L541.7 159.6 L542.2 153.4 L542.7 146.4 L543.2 140.6 L543.7 137.6 L544.2 138.1 L544.7 141.9 L545.2 147.9 L545.7 155.0 L546.2 161.5 L546.7 166.5 L547.2 169.4 L547.7 170.5 L548.2 170.7 L548.7 170.4 L549.2 168.4 L549.7 163.8 L550.2 156.3 L550.7 147.0 L551.2 137.9 L551.7 131.2 L552.2 128.5 L552.7 130.6 L553.2 137.0 L553.7 146.1 L554.2 155.9 L554.7 164.6 L555.2 170.8 L555.7 174.1 L556.2 175.2 L556.7 175.2 L557.2 174.5 L557.7 171.4 L558.2 164.8 L558.7 154.8 L559.2 142.8 L559.7 131.2 L560.2 122.6 L560.7 118.9 L561.2 121.6 L561.7 130.5 L562.2 143.4 L562.7 157.1 L563.2 168.6 L563.7 176.2 L564.2 179.6 L564.7 180.3 L565.2 180.1 L565.7 178.2 L566.2 172.6 L566.7 162.7 L567.2 149.7 L567.7 136.1 L568.2 125.0 L568.7 119.3 L569.2 120.4 L569.7 128.2 L570.2 140.5 L570.7 154.3 L571.2 166.5 L571.7 174.9 L572.2 179.2 L572.7 180.3 L573.2 180.2 L573.7 178.9 L574.2 174.1 L574.7 165.0 L575.2 152.4 L575.7 138.5 L576.2 126.5 L576.7 119.4 L577.2 119.1 L577.7 125.2 L578.2 136.3 L578.7 149.7 L579.2 162.4 L579.7 172.2 L580.2 177.9 L580.7 180.0 L581.2 180.3 L581.7 179.8 L582.2 177.1 L582.7 170.4 L583.2 159.8 L583.7 146.5 L584.2 133.0 L584.7 122.5 L585.2 117.3 L585.7 118.9 L586.2 126.8 L586.7 139.1 L587.2 152.9 L587.7 165.2 L588.2 174.1 L588.7 178.8 L589.2 180.2 L589.7 180.3 L590.2 179.4 L590.7 175.7 L591.2 168.0 L591.7 156.5 L592.2 143.0 L592.7 130.3 L593.2 121.1 L593.7 117.9 L594.2 121.5 L594.7 131.3 L595.2 144.7 L595.7 158.5 L596.2 169.7 L596.7 176.8 L597.2 179.8 L597.7 180.3 L598.2 180.0 L598.7 177.7 L599.2 171.5 L599.7 161.1 L600.2 147.9 L600.7 134.4 L601.2 123.9 L601.7 119.0 L602.2 121.0 L602.7 129.0 L603.2 141.1 L603.7 154.5 L604.2 166.3 L604.7 174.7 L605.2 179.0 L605.7 180.2 L606.2 180.3 L606.7 179.3 L607.2 175.5 L607.7 167.7 L608.2 156.4 L608.7 143.2 L609.2 130.9 L609.7 122.4 L610.2 119.7 L610.7 123.6 L611.2 133.5 L611.7 146.6 L612.2 159.9 L612.7 170.6 L613.2 177.2 L613.7 179.9 L614.2 180.3 L614.7 180.0 L615.2 177.4 L615.7 171.0 L616.2 160.3 L616.7 146.9 L617.2 133.5 L617.7 123.3 L618.2 118.9 L618.7 121.5 L619.2 130.4 L619.7 143.2 L620.2 156.9 L620.7 168.5 L621.2 176.1 L621.7 179.6 L622.2 180.3 L622.7 180.1 L623.2 178.2 L623.7 172.7 L624.2 162.9 L624.7 149.9 L625.2 136.2 L625.7 125.1 L626.2 119.3 L626.7 120.3 L627.2 127.5 L627.7 139.2 L628.2 152.6 L628.7 164.8 L629.2 173.7 L629.7 178.6 L630.2 180.2 L630.7 180.3 L631.2 179.5 L631.7 176.1 L632.2 168.8 L632.7 157.6 L633.2 144.1 L633.7 131.2 L634.2 121.7 L634.7 117.9 L635.2 121.0 L635.7 130.3 L636.2 143.6 L636.7 157.4 L637.2 169.0 L637.7 176.4 L638.2 179.7 L638.7 180.3 L639.2 180.1 L639.7 178.0 L640.2 172.0 L640.7 161.8 L641.2 148.5 L641.7 134.6 L642.2 123.6 L642.7 118.1 L643.2 119.6 L643.7 127.3 L644.2 139.4 L644.7 153.0 L645.2 165.3 L645.7 174.0 L646.2 178.8 L646.7 180.2 L647.2 180.3 L647.7 179.4 L648.2 175.9 L648.7 168.5 L649.2 157.4 L649.7 144.3 L650.2 131.8 L650.7 122.9 L651.2 119.6 L651.7 123.1 L652.2 132.5 L652.7 145.5 L653.2 158.9 L653.7 169.9 L654.2 176.8 L654.7 179.8 L655.2 180.3 L655.7 180.0 L656.2 177.8 L656.7 171.8 L657.2 161.8 L657.7 148.8 L658.2 135.7 L658.7 125.4 L659.2 120.6 L659.7 122.4 L660.2 130.2 L660.7 141.9 L661.2 155.0 L661.7 166.5 L662.2 174.7 L662.7 179.0 L663.2 180.2 L663.7 180.3 L664.2 179.4 L664.7 175.7 L665.2 168.4 L665.7 157.5 L666.2 144.9 L666.7 133.1 L667.2 124.9 L667.7 122.2 L668.2 125.9 L668.7 135.3 L669.2 147.8 L669.7 160.6 L670.2 170.9 L670.7 177.3 L671.2 179.9 L671.7 180.3 L672.2 180.0 L672.7 177.7 L673.2 171.8 L673.7 162.0 L674.2 149.6 L674.7 137.2 L675.2 127.7 L675.7 123.5 L676.2 125.7 L676.7 133.4 L677.2 144.7 L677.7 157.1 L678.2 167.9 L678.7 175.4 L679.2 179.2 L679.7 180.3 L680.2 180.3 L680.7 179.2 L681.2 175.5 L681.7 168.1 L682.2 157.4 L682.7 145.2 L683.2 133.9 L683.7 126.2 L684.2 124.0 L684.7 128.0 L685.2 137.4 L685.7 149.7 L686.2 162.0 L686.7 171.7 L687.2 177.6 L687.7 180.0 L688.2 180.3 L688.7 179.9 L689.2 177.3 L689.7 171.0 L690.2 160.8 L690.7 148.0 L691.2 135.4 L691.7 126.0 L692.2 122.2 L692.7 124.8 L693.2 133.0 L693.7 144.8 L694.2 157.4 L694.7 168.2 L695.2 175.7 L695.7 179.3 L696.2 180.3 L696.7 180.2 L697.2 179.1 L697.7 175.0 L698.2 167.1 L698.7 155.9 L699.2 143.2 L699.7 131.8 L700.2 124.2 L700.7 122.3 L701.2 126.9 L701.7 136.8 L702.2 149.6 L702.7 162.2 L703.2 172.0 L703.7 177.8 L704.2 180.0 L704.7 180.3 L705.2 179.8 L705.7 177.0 L706.2 170.3 L706.7 159.7 L707.2 146.7 L707.7 134.1 L708.2 124.8 L708.7 121.4 L709.2 124.5 L709.7 133.1 L710.2 145.2 L710.7 157.9 L711.2 168.7 L711.7 176.0 L712.2 179.4 L712.7 180.3 L713.2 180.2 L713.7 178.9 L714.2 174.4 L714.7 166.0 L715.2 154.3 L715.7 141.3 L716.2 129.6 L716.7 122.1 L717.2 120.6 L717.7 125.8 L718.2 136.3 L718.7 149.6 L719.2 162.4 L719.7 172.3 L720.2 178.0 L720.7 180.1 L721.2 180.3 L721.7 179.7 L722.2 176.7 L722.7 169.6 L723.2 158.7 L723.7 145.5 L724.2 132.9 L724.7 123.9 L725.2 120.9 L725.7 124.4 L726.2 133.4 L726.7 145.7 L727.2 158.5 L727.7 169.2 L728.2 176.3 L728.7 179.6 L729.2 180.3 L729.7 180.2 L730.2 178.7 L730.7 174.1 L731.2 165.8 L731.7 154.2 L732.2 141.6 L732.7 130.5 L733.2 123.6 L733.7 122.5 L734.2 127.6 L734.7 137.6 L735.2 150.0 L735.7 162.2 L736.2 171.8 L736.7 177.6 L737.2 180.0 L737.7 180.3 L738.2 180.0 L738.7 177.9 L739.2 172.4 L739.7 163.3 L740.2 151.6 L740.7 139.5 L741.2 129.6 L741.7 124.4 L742.2 124.6 L742.7 128.2 L743.2 134.7 L743.7 142.9 L744.2 152.0 L744.7 160.7 L745.2 168.1 L745.7 173.7 L746.2 177.2 L746.7 178.8"/></defs>
<path d="M109.7 156.0 L110.2 146.6 L110.7 138.8 L111.2 134.7 L111.7 135.2 L112.2 140.5 L112.7 149.1Z M118.2 149.3 L118.7 140.6 L119.2 135.3 L119.7 134.7 L120.2 138.8 L120.7 146.4 L121.2 155.9Z M126.2 155.4 L126.7 146.0 L127.2 138.4 L127.7 134.6 L128.2 135.5 L128.7 141.0 L129.2 149.8Z M134.7 148.5 L135.2 139.9 L135.7 134.8 L136.2 134.6 L136.7 139.0 L137.2 146.9Z M142.7 154.7 L143.2 145.4 L143.7 138.1 L144.2 134.5 L144.7 135.7 L145.2 141.5 L145.7 150.4Z M151.2 148.0 L151.7 139.7 L152.2 134.9 L152.7 135.0 L153.2 139.6 L153.7 147.7Z M159.2 154.1 L159.7 144.8 L160.2 137.7 L160.7 134.4 L161.2 135.9 L161.7 142.0 L162.2 151.1Z M167.7 147.4 L168.2 139.2 L168.7 134.8 L169.2 135.1 L169.7 140.1 L170.2 148.3Z M175.7 153.5 L176.2 144.3 L176.7 137.3 L177.2 134.4 L177.7 136.1 L178.2 142.1 L178.7 150.9Z M184.2 150.6 L184.7 141.8 L185.2 135.8 L185.7 134.1 L186.2 137.4 L186.7 144.7 L187.2 154.4Z M192.2 154.4 L192.7 145.2 L193.2 138.3 L193.7 135.6 L194.2 137.6 L194.7 143.6 L195.2 152.3Z M200.7 150.1 L201.2 141.5 L201.7 135.8 L202.2 134.4 L202.7 138.0 L203.2 145.5 L203.7 155.2Z M208.7 152.9 L209.2 143.5 L209.7 136.6 L210.2 134.1 L210.7 136.4 L211.2 143.0 L211.7 152.0Z M217.2 149.5 L217.7 141.0 L218.2 135.6 L218.7 134.5 L219.2 138.4 L219.7 146.1 L220.2 155.9Z M225.2 152.4 L225.7 143.1 L226.2 136.5 L226.7 134.3 L227.2 137.0 L227.7 143.7 L228.2 152.8Z M233.7 148.7 L234.2 140.3 L234.7 135.1 L235.2 134.4 L235.7 138.5 L236.2 146.6Z M241.7 151.6 L242.2 142.4 L242.7 136.0 L243.2 134.1 L243.7 137.1 L244.2 144.1 L244.7 153.3Z M250.2 147.7 L250.7 139.4 L251.2 134.4 L251.7 134.0 L252.2 138.5 L252.7 146.8Z M258.2 149.8 L258.7 140.4 L259.2 134.0 L259.7 132.4 L260.2 135.8 L260.7 143.3 L261.2 153.0Z M266.7 146.8 L267.2 138.5 L267.7 133.7 L268.2 133.7 L268.7 138.5 L269.2 147.1Z M274.7 150.0 L275.2 140.9 L275.7 134.9 L276.2 133.7 L276.7 137.4 L277.2 144.8 L277.7 154.3Z M283.2 146.5 L283.7 138.5 L284.2 134.1 L284.7 134.3 L285.2 139.3 L285.7 147.7Z M291.2 151.5 L291.7 142.2 L292.2 135.7 L292.7 133.6 L293.2 136.3 L293.7 143.1 L294.2 152.4Z M299.7 148.7 L300.2 140.3 L300.7 135.1 L301.2 134.4 L301.7 138.5 L302.2 146.6Z M307.7 151.6 L308.2 142.4 L308.7 136.0 L309.2 134.1 L309.7 137.1 L310.2 144.1 L310.7 153.3Z M316.2 147.7 L316.7 139.4 L317.2 134.4 L317.7 134.0 L318.2 138.5 L318.7 146.8Z M324.2 149.8 L324.7 140.4 L325.2 134.0 L325.7 132.4 L326.2 135.8 L326.7 143.3 L327.2 153.0Z M332.7 146.8 L333.2 138.5 L333.7 133.7 L334.2 133.7 L334.7 138.5 L335.2 147.1Z M340.7 149.2 L341.2 139.8 L341.7 133.7 L342.2 132.5 L342.7 136.2 L343.2 143.9 L343.7 153.7Z M349.2 146.1 L349.7 138.1 L350.2 133.6 L350.7 133.8 L351.2 139.0 L351.7 147.8Z M357.2 149.6 L357.7 140.8 L358.2 135.2 L358.7 134.3 L359.2 138.2 L359.7 145.8 L360.2 155.3Z M365.7 150.9 L366.2 144.2 L366.7 140.7 L367.2 141.2 L367.7 145.5 L368.2 152.4Z M373.7 157.4 L374.2 153.3 L374.7 150.5 L375.2 149.3 L375.7 150.1 L376.2 152.7 L376.7 156.5Z M381.7 160.5 L382.2 157.4 L382.7 155.1 L383.2 153.9 L383.7 154.1 L384.2 155.3 L384.7 157.4 L385.2 160.0Z M517.7 150.0 L518.2 146.7 L518.7 144.6 L519.2 144.3 L519.7 145.2 L520.2 147.0 L520.7 149.3Z M525.7 148.5 L526.2 146.1 L526.7 144.2 L527.2 143.3 L527.7 143.5 L528.2 145.4 L528.7 148.7Z M534.2 151.8 L534.7 147.8 L535.2 144.9 L535.7 143.7 L536.2 144.5 L536.7 147.3 L537.2 151.4Z M542.7 146.4 L543.2 140.6 L543.7 137.6 L544.2 138.1 L544.7 141.9 L545.2 147.9Z M550.7 147.0 L551.2 137.9 L551.7 131.2 L552.2 128.5 L552.7 130.6 L553.2 137.0 L553.7 146.1Z M559.2 142.8 L559.7 131.2 L560.2 122.6 L560.7 118.9 L561.2 121.6 L561.7 130.5 L562.2 143.4Z M567.7 136.1 L568.2 125.0 L568.7 119.3 L569.2 120.4 L569.7 128.2 L570.2 140.5Z M575.7 138.5 L576.2 126.5 L576.7 119.4 L577.2 119.1 L577.7 125.2 L578.2 136.3Z M583.7 146.5 L584.2 133.0 L584.7 122.5 L585.2 117.3 L585.7 118.9 L586.2 126.8 L586.7 139.1Z M592.2 143.0 L592.7 130.3 L593.2 121.1 L593.7 117.9 L594.2 121.5 L594.7 131.3 L595.2 144.7Z M600.2 147.9 L600.7 134.4 L601.2 123.9 L601.7 119.0 L602.2 121.0 L602.7 129.0 L603.2 141.1Z M608.7 143.2 L609.2 130.9 L609.7 122.4 L610.2 119.7 L610.7 123.6 L611.2 133.5 L611.7 146.6Z M616.7 146.9 L617.2 133.5 L617.7 123.3 L618.2 118.9 L618.7 121.5 L619.2 130.4 L619.7 143.2Z M625.2 136.2 L625.7 125.1 L626.2 119.3 L626.7 120.3 L627.2 127.5 L627.7 139.2Z M633.2 144.1 L633.7 131.2 L634.2 121.7 L634.7 117.9 L635.2 121.0 L635.7 130.3 L636.2 143.6Z M641.2 148.5 L641.7 134.6 L642.2 123.6 L642.7 118.1 L643.2 119.6 L643.7 127.3 L644.2 139.4Z M649.7 144.3 L650.2 131.8 L650.7 122.9 L651.2 119.6 L651.7 123.1 L652.2 132.5 L652.7 145.5Z M657.7 148.8 L658.2 135.7 L658.7 125.4 L659.2 120.6 L659.7 122.4 L660.2 130.2 L660.7 141.9Z M666.2 144.9 L666.7 133.1 L667.2 124.9 L667.7 122.2 L668.2 125.9 L668.7 135.3 L669.2 147.8Z M674.2 149.6 L674.7 137.2 L675.2 127.7 L675.7 123.5 L676.2 125.7 L676.7 133.4 L677.2 144.7Z M682.7 145.2 L683.2 133.9 L683.7 126.2 L684.2 124.0 L684.7 128.0 L685.2 137.4 L685.7 149.7Z M690.7 148.0 L691.2 135.4 L691.7 126.0 L692.2 122.2 L692.7 124.8 L693.2 133.0 L693.7 144.8Z M699.2 143.2 L699.7 131.8 L700.2 124.2 L700.7 122.3 L701.2 126.9 L701.7 136.8 L702.2 149.6Z M707.2 146.7 L707.7 134.1 L708.2 124.8 L708.7 121.4 L709.2 124.5 L709.7 133.1 L710.2 145.2Z M715.7 141.3 L716.2 129.6 L716.7 122.1 L717.2 120.6 L717.7 125.8 L718.2 136.3 L718.7 149.6Z M723.7 145.5 L724.2 132.9 L724.7 123.9 L725.2 120.9 L725.7 124.4 L726.2 133.4 L726.7 145.7Z M732.2 141.6 L732.7 130.5 L733.2 123.6 L733.7 122.5 L734.2 127.6 L734.7 137.6 L735.2 150.0Z M740.2 151.6 L740.7 139.5 L741.2 129.6 L741.7 124.4 L742.2 124.6 L742.7 128.2 L743.2 134.7 L743.7 142.9Z" fill="#1818e8" fill-opacity="0.38" stroke="none"/>
<path d="M104.2 145.9 L104.7 155.3 L105.2 164.5 L105.7 171.7 L106.2 176.2 L106.7 178.0 L107.2 178.3 L107.7 178.1 L108.2 176.4 L108.7 172.2 L109.2 165.1 L109.7 156.0 L110.2 146.6 L110.7 138.8 L111.2 134.7 L111.7 135.2 L112.2 140.5 L112.7 149.1 L113.2 159.0 L113.7 167.9 L114.2 174.1 L114.7 177.3 L115.2 178.2 L115.7 178.2 L116.2 177.4 L116.7 174.2 L117.2 168.0 L117.7 159.1 L118.2 149.3 L118.7 140.6 L119.2 135.3 L119.7 134.7 L120.2 138.8 L120.7 146.4 L121.2 155.9 L121.7 165.0 L122.2 172.1 L122.7 176.4 L123.2 178.1 L123.7 178.3 L124.2 178.0 L124.7 176.2 L125.2 171.8 L125.7 164.6 L126.2 155.4 L126.7 146.0 L127.2 138.4 L127.7 134.6 L128.2 135.5 L128.7 141.0 L129.2 149.8 L129.7 159.7 L130.2 168.4 L130.7 174.4 L131.2 177.5 L131.7 178.3 L132.2 178.2 L132.7 177.2 L133.2 173.8 L133.7 167.4 L134.2 158.4 L134.7 148.5 L135.2 139.9 L135.7 134.8 L136.2 134.6 L136.7 139.0 L137.2 146.9 L137.7 156.4 L138.2 165.5 L138.7 172.5 L139.2 176.6 L139.7 178.1 L140.2 178.3 L140.7 178.0 L141.2 176.0 L141.7 171.4 L142.2 164.0 L142.7 154.7 L143.2 145.4 L143.7 138.1 L144.2 134.5 L144.7 135.7 L145.2 141.5 L145.7 150.4 L146.2 160.3 L146.7 168.9 L147.2 174.7 L147.7 177.6 L148.2 178.3 L148.7 178.2 L149.2 177.1 L149.7 173.5 L150.2 166.9 L150.7 157.8 L151.2 148.0 L151.7 139.7 L152.2 134.9 L152.7 135.0 L153.2 139.6 L153.7 147.7 L154.2 157.2 L154.7 166.1 L155.2 172.9 L155.7 176.7 L156.2 178.1 L156.7 178.3 L157.2 177.9 L157.7 175.8 L158.2 171.0 L158.7 163.4 L159.2 154.1 L159.7 144.8 L160.2 137.7 L160.7 134.4 L161.2 135.9 L161.7 142.0 L162.2 151.1 L162.7 160.9 L163.2 169.4 L163.7 175.0 L164.2 177.7 L164.7 178.3 L165.2 178.2 L165.7 177.0 L166.2 173.2 L166.7 166.4 L167.2 157.2 L167.7 147.4 L168.2 139.2 L168.7 134.8 L169.2 135.1 L169.7 140.1 L170.2 148.3 L170.7 157.8 L171.2 166.7 L171.7 173.2 L172.2 176.9 L172.7 178.2 L173.2 178.3 L173.7 177.8 L174.2 175.6 L174.7 170.6 L175.2 162.9 L175.7 153.5 L176.2 144.3 L176.7 137.3 L177.2 134.4 L177.7 136.1 L178.2 142.1 L178.7 150.9 L179.2 160.4 L179.7 168.8 L180.2 174.5 L180.7 177.5 L181.2 178.2 L181.7 178.2 L182.2 177.4 L182.7 174.5 L183.2 168.6 L183.7 160.2 L184.2 150.6 L184.7 141.8 L185.2 135.8 L185.7 134.1 L186.2 137.4 L186.7 144.7 L187.2 154.4 L187.7 164.0 L188.2 171.6 L188.7 176.2 L189.2 178.0 L189.7 178.3 L190.2 178.0 L190.7 176.1 L191.2 171.4 L191.7 163.8 L192.2 154.4 L192.7 145.2 L193.2 138.3 L193.7 135.6 L194.2 137.6 L194.7 143.6 L195.2 152.3 L195.7 161.6 L196.2 169.5 L196.7 174.9 L197.2 177.6 L197.7 178.3 L198.2 178.2 L198.7 177.3 L199.2 174.2 L199.7 168.2 L200.2 159.7 L200.7 150.1 L201.2 141.5 L201.7 135.8 L202.2 134.4 L202.7 138.0 L203.2 145.5 L203.7 155.2 L204.2 164.7 L204.7 172.1 L205.2 176.4 L205.7 178.1 L206.2 178.3 L206.7 177.9 L207.2 175.8 L207.7 170.7 L208.2 162.7 L208.7 152.9 L209.2 143.5 L209.7 136.6 L210.2 134.1 L210.7 136.4 L211.2 143.0 L211.7 152.0 L212.2 161.6 L212.7 169.7 L213.2 175.1 L213.7 177.7 L214.2 178.3 L214.7 178.2 L215.2 177.2 L215.7 173.9 L216.2 167.7 L216.7 159.1 L217.2 149.5 L217.7 141.0 L218.2 135.6 L218.7 134.5 L219.2 138.4 L219.7 146.1 L220.2 155.9 L220.7 165.3 L221.2 172.5 L221.7 176.6 L222.2 178.1 L222.7 178.3 L223.2 177.8 L223.7 175.5 L224.2 170.3 L224.7 162.2 L225.2 152.4 L225.7 143.1 L226.2 136.5 L226.7 134.3 L227.2 137.0 L227.7 143.7 L228.2 152.8 L228.7 162.3 L229.2 170.2 L229.7 175.3 L230.2 177.7 L230.7 178.3 L231.2 178.2 L231.7 177.0 L232.2 173.5 L232.7 167.1 L233.2 158.3 L233.7 148.7 L234.2 140.3 L234.7 135.1 L235.2 134.4 L235.7 138.5 L236.2 146.6 L236.7 156.4 L237.2 165.7 L237.7 172.8 L238.2 176.8 L238.7 178.2 L239.2 178.3 L239.7 177.8 L240.2 175.3 L240.7 169.8 L241.2 161.5 L241.7 151.6 L242.2 142.4 L242.7 136.0 L243.2 134.1 L243.7 137.1 L244.2 144.1 L244.7 153.3 L245.2 162.8 L245.7 170.5 L246.2 175.6 L246.7 177.8 L247.2 178.3 L247.7 178.2 L248.2 176.9 L248.7 173.1 L249.2 166.5 L249.7 157.5 L250.2 147.7 L250.7 139.4 L251.2 134.4 L251.7 134.0 L252.2 138.5 L252.7 146.8 L253.2 156.8 L253.7 166.2 L254.2 173.1 L254.7 176.9 L255.2 178.2 L255.7 178.3 L256.2 177.6 L256.7 174.9 L257.2 168.9 L257.7 160.1 L258.2 149.8 L258.7 140.4 L259.2 134.0 L259.7 132.4 L260.2 135.8 L260.7 143.3 L261.2 153.0 L261.7 162.8 L262.2 170.7 L262.7 175.7 L263.2 177.9 L263.7 178.3 L264.2 178.1 L264.7 176.7 L265.2 172.7 L265.7 165.8 L266.2 156.6 L266.7 146.8 L267.2 138.5 L267.7 133.7 L268.2 133.7 L268.7 138.5 L269.2 147.1 L269.7 157.2 L270.2 166.6 L270.7 173.4 L271.2 177.1 L271.7 178.2 L272.2 178.3 L272.7 177.6 L273.2 174.7 L273.7 168.7 L274.2 160.0 L274.7 150.0 L275.2 140.9 L275.7 134.9 L276.2 133.7 L276.7 137.4 L277.2 144.8 L277.7 154.3 L278.2 163.8 L278.7 171.3 L279.2 176.0 L279.7 177.9 L280.2 178.3 L280.7 178.1 L281.2 176.5 L281.7 172.4 L282.2 165.4 L282.7 156.2 L283.2 146.5 L283.7 138.5 L284.2 134.1 L284.7 134.3 L285.2 139.3 L285.7 147.7 L286.2 157.6 L286.7 166.7 L287.2 173.3 L287.7 177.0 L288.2 178.2 L288.7 178.3 L289.2 177.7 L289.7 175.1 L290.2 169.6 L290.7 161.3 L291.2 151.5 L291.7 142.2 L292.2 135.7 L292.7 133.6 L293.2 136.3 L293.7 143.1 L294.2 152.4 L294.7 162.0 L295.2 170.0 L295.7 175.3 L296.2 177.7 L296.7 178.3 L297.2 178.2 L297.7 177.0 L298.2 173.5 L298.7 167.1 L299.2 158.3 L299.7 148.7 L300.2 140.3 L300.7 135.1 L301.2 134.4 L301.7 138.5 L302.2 146.6 L302.7 156.4 L303.2 165.7 L303.7 172.8 L304.2 176.8 L304.7 178.2 L305.2 178.3 L305.7 177.8 L306.2 175.3 L306.7 169.8 L307.2 161.5 L307.7 151.6 L308.2 142.4 L308.7 136.0 L309.2 134.1 L309.7 137.1 L310.2 144.1 L310.7 153.3 L311.2 162.8 L311.7 170.5 L312.2 175.6 L312.7 177.8 L313.2 178.3 L313.7 178.2 L314.2 176.9 L314.7 173.1 L315.2 166.5 L315.7 157.5 L316.2 147.7 L316.7 139.4 L317.2 134.4 L317.7 134.0 L318.2 138.5 L318.7 146.8 L319.2 156.8 L319.7 166.2 L320.2 173.1 L320.7 176.9 L321.2 178.2 L321.7 178.3 L322.2 177.6 L322.7 174.9 L323.2 168.9 L323.7 160.1 L324.2 149.8 L324.7 140.4 L325.2 134.0 L325.7 132.4 L326.2 135.8 L326.7 143.3 L327.2 153.0 L327.7 162.8 L328.2 170.7 L328.7 175.7 L329.2 177.9 L329.7 178.3 L330.2 178.1 L330.7 176.7 L331.2 172.7 L331.7 165.8 L332.2 156.6 L332.7 146.8 L333.2 138.5 L333.7 133.7 L334.2 133.7 L334.7 138.5 L335.2 147.1 L335.7 157.2 L336.2 166.6 L336.7 173.4 L337.2 177.1 L337.7 178.2 L338.2 178.3 L338.7 177.5 L339.2 174.6 L339.7 168.4 L340.2 159.5 L340.7 149.2 L341.2 139.8 L341.7 133.7 L342.2 132.5 L342.7 136.2 L343.2 143.9 L343.7 153.7 L344.2 163.4 L344.7 171.1 L345.2 175.9 L345.7 177.9 L346.2 178.3 L346.7 178.1 L347.2 176.5 L347.7 172.3 L348.2 165.2 L348.7 155.9 L349.2 146.1 L349.7 138.1 L350.2 133.6 L350.7 133.8 L351.2 139.0 L351.7 147.8 L352.2 157.9 L352.7 167.1 L353.2 173.7 L353.7 177.2 L354.2 178.2 L354.7 178.3 L355.2 177.5 L355.7 174.4 L356.2 168.3 L356.7 159.5 L357.2 149.6 L357.7 140.8 L358.2 135.2 L358.7 134.3 L359.2 138.2 L359.7 145.8 L360.2 155.3 L360.7 164.5 L361.2 171.8 L361.7 176.2 L362.2 178.0 L362.7 178.3 L363.2 178.1 L363.7 176.6 L364.2 173.0 L364.7 166.9 L365.2 159.0 L365.7 150.9 L366.2 144.2 L366.7 140.7 L367.2 141.2 L367.7 145.5 L368.2 152.4 L368.7 160.0 L369.2 166.4 L369.7 170.3 L370.2 172.0 L370.7 172.2 L371.2 172.0 L371.7 171.2 L372.2 169.2 L372.7 166.0 L373.2 161.8 L373.7 157.4 L374.2 153.3 L374.7 150.5 L375.2 149.3 L375.7 150.1 L376.2 152.7 L376.7 156.5 L377.2 160.7 L377.7 164.5 L378.2 167.2 L378.7 168.6 L379.2 168.9 L379.7 168.8 L380.2 168.0 L380.7 166.2 L381.2 163.6 L381.7 160.5 L382.2 157.4 L382.7 155.1 L383.2 153.9 L383.7 154.1 L384.2 155.3 L384.7 157.4 L385.2 160.0 L385.7 162.5 L386.2 164.7 L386.7 166.2 L387.2 167.0 L387.7 167.1 L388.2 166.9 L388.7 166.1 L389.2 164.6 L389.7 162.7 L390.2 160.6 L390.7 158.7 L391.2 157.4 L391.7 156.9 L392.2 157.3 L392.7 158.4 L393.2 160.1 L393.7 162.1 L394.2 163.9 L394.7 165.3 L395.2 166.1 L395.7 166.4 L396.2 166.3 L396.7 165.9 L397.2 164.9 L397.7 163.7 L398.2 162.2 L398.7 160.8 L399.2 159.7 L399.7 159.0 L400.2 158.8 L400.7 159.3 L401.2 160.2 L401.7 161.6 L402.2 163.0 L402.7 164.3 L403.2 165.3 L403.7 165.9 L404.2 166.1 L404.7 165.9 L405.2 165.4 L405.7 164.5 L406.2 163.5 L406.7 162.3 L407.2 161.3 L407.7 160.5 L408.2 160.0 L408.7 160.0 L409.2 160.4 L409.7 161.2 L410.2 162.3 L410.7 163.3 L411.2 164.3 L411.7 165.0 L412.2 165.3 M493.2 159.3 L493.7 159.6 L494.2 159.7 L494.7 159.9 L495.2 160.1 L495.7 160.4 L496.2 160.8 L496.7 161.1 L497.2 161.6 L497.7 162.0 L498.2 162.5 L498.7 163.0 L499.2 163.5 L499.7 164.0 L500.2 164.5 L500.7 165.0 L501.2 165.4 L501.7 165.9 L502.2 166.3 L502.7 166.6 L503.2 166.9 L503.7 167.1 L504.2 167.3 L504.7 167.5 L505.2 167.6 L505.7 167.7 L506.2 167.7 L506.7 167.8 L507.2 167.6 L507.7 167.3 L508.2 166.7 L508.7 166.0 L509.2 165.2 L509.7 164.3 L510.2 163.5 L510.7 162.8 L511.2 162.2 L511.7 161.9 L512.2 161.7 M514.7 163.1 L515.2 162.3 L515.7 161.8 L516.2 160.2 L516.7 157.4 L517.2 153.8 L517.7 150.0 L518.2 146.7 L518.7 144.6 L519.2 144.3 L519.7 145.2 L520.2 147.0 L520.7 149.3 L521.2 151.8 L521.7 153.9 L522.2 155.4 L522.7 156.1 L523.2 156.2 L523.7 156.0 L524.2 155.0 L524.7 153.3 L525.2 151.0 L525.7 148.5 L526.2 146.1 L526.7 144.2 L527.2 143.3 L527.7 143.5 L528.2 145.4 L528.7 148.7 L529.2 152.7 L529.7 156.6 L530.2 159.8 L530.7 161.9 L531.2 162.9 L531.7 163.1 L532.2 162.9 L532.7 161.8 L533.2 159.4 L533.7 155.9 L534.2 151.8 L534.7 147.8 L535.2 144.9 L535.7 143.7 L536.2 144.5 L536.7 147.3 L537.2 151.4 L537.7 156.1 L538.2 160.4 L538.7 163.7 L539.2 165.6 L539.7 166.3 L540.2 166.4 L540.7 165.9 L541.2 163.9 L541.7 159.6 L542.2 153.4 L542.7 146.4 L543.2 140.6 L543.7 137.6 L544.2 138.1 L544.7 141.9 L545.2 147.9 L545.7 155.0 L546.2 161.5 L546.7 166.5 L547.2 169.4 L547.7 170.5 L548.2 170.7 L548.7 170.4 L549.2 168.4 L549.7 163.8 L550.2 156.3 L550.7 147.0 L551.2 137.9 L551.7 131.2 L552.2 128.5 L552.7 130.6 L553.2 137.0 L553.7 146.1 L554.2 155.9 L554.7 164.6 L555.2 170.8 L555.7 174.1 L556.2 175.2 L556.7 175.2 L557.2 174.5 L557.7 171.4 L558.2 164.8 L558.7 154.8 L559.2 142.8 L559.7 131.2 L560.2 122.6 L560.7 118.9 L561.2 121.6 L561.7 130.5 L562.2 143.4 L562.7 157.1 L563.2 168.6 L563.7 176.2 L564.2 179.6 L564.7 180.3 L565.2 180.1 L565.7 178.2 L566.2 172.6 L566.7 162.7 L567.2 149.7 L567.7 136.1 L568.2 125.0 L568.7 119.3 L569.2 120.4 L569.7 128.2 L570.2 140.5 L570.7 154.3 L571.2 166.5 L571.7 174.9 L572.2 179.2 L572.7 180.3 L573.2 180.2 L573.7 178.9 L574.2 174.1 L574.7 165.0 L575.2 152.4 L575.7 138.5 L576.2 126.5 L576.7 119.4 L577.2 119.1 L577.7 125.2 L578.2 136.3 L578.7 149.7 L579.2 162.4 L579.7 172.2 L580.2 177.9 L580.7 180.0 L581.2 180.3 L581.7 179.8 L582.2 177.1 L582.7 170.4 L583.2 159.8 L583.7 146.5 L584.2 133.0 L584.7 122.5 L585.2 117.3 L585.7 118.9 L586.2 126.8 L586.7 139.1 L587.2 152.9 L587.7 165.2 L588.2 174.1 L588.7 178.8 L589.2 180.2 L589.7 180.3 L590.2 179.4 L590.7 175.7 L591.2 168.0 L591.7 156.5 L592.2 143.0 L592.7 130.3 L593.2 121.1 L593.7 117.9 L594.2 121.5 L594.7 131.3 L595.2 144.7 L595.7 158.5 L596.2 169.7 L596.7 176.8 L597.2 179.8 L597.7 180.3 L598.2 180.0 L598.7 177.7 L599.2 171.5 L599.7 161.1 L600.2 147.9 L600.7 134.4 L601.2 123.9 L601.7 119.0 L602.2 121.0 L602.7 129.0 L603.2 141.1 L603.7 154.5 L604.2 166.3 L604.7 174.7 L605.2 179.0 L605.7 180.2 L606.2 180.3 L606.7 179.3 L607.2 175.5 L607.7 167.7 L608.2 156.4 L608.7 143.2 L609.2 130.9 L609.7 122.4 L610.2 119.7 L610.7 123.6 L611.2 133.5 L611.7 146.6 L612.2 159.9 L612.7 170.6 L613.2 177.2 L613.7 179.9 L614.2 180.3 L614.7 180.0 L615.2 177.4 L615.7 171.0 L616.2 160.3 L616.7 146.9 L617.2 133.5 L617.7 123.3 L618.2 118.9 L618.7 121.5 L619.2 130.4 L619.7 143.2 L620.2 156.9 L620.7 168.5 L621.2 176.1 L621.7 179.6 L622.2 180.3 L622.7 180.1 L623.2 178.2 L623.7 172.7 L624.2 162.9 L624.7 149.9 L625.2 136.2 L625.7 125.1 L626.2 119.3 L626.7 120.3 L627.2 127.5 L627.7 139.2 L628.2 152.6 L628.7 164.8 L629.2 173.7 L629.7 178.6 L630.2 180.2 L630.7 180.3 L631.2 179.5 L631.7 176.1 L632.2 168.8 L632.7 157.6 L633.2 144.1 L633.7 131.2 L634.2 121.7 L634.7 117.9 L635.2 121.0 L635.7 130.3 L636.2 143.6 L636.7 157.4 L637.2 169.0 L637.7 176.4 L638.2 179.7 L638.7 180.3 L639.2 180.1 L639.7 178.0 L640.2 172.0 L640.7 161.8 L641.2 148.5 L641.7 134.6 L642.2 123.6 L642.7 118.1 L643.2 119.6 L643.7 127.3 L644.2 139.4 L644.7 153.0 L645.2 165.3 L645.7 174.0 L646.2 178.8 L646.7 180.2 L647.2 180.3 L647.7 179.4 L648.2 175.9 L648.7 168.5 L649.2 157.4 L649.7 144.3 L650.2 131.8 L650.7 122.9 L651.2 119.6 L651.7 123.1 L652.2 132.5 L652.7 145.5 L653.2 158.9 L653.7 169.9 L654.2 176.8 L654.7 179.8 L655.2 180.3 L655.7 180.0 L656.2 177.8 L656.7 171.8 L657.2 161.8 L657.7 148.8 L658.2 135.7 L658.7 125.4 L659.2 120.6 L659.7 122.4 L660.2 130.2 L660.7 141.9 L661.2 155.0 L661.7 166.5 L662.2 174.7 L662.7 179.0 L663.2 180.2 L663.7 180.3 L664.2 179.4 L664.7 175.7 L665.2 168.4 L665.7 157.5 L666.2 144.9 L666.7 133.1 L667.2 124.9 L667.7 122.2 L668.2 125.9 L668.7 135.3 L669.2 147.8 L669.7 160.6 L670.2 170.9 L670.7 177.3 L671.2 179.9 L671.7 180.3 L672.2 180.0 L672.7 177.7 L673.2 171.8 L673.7 162.0 L674.2 149.6 L674.7 137.2 L675.2 127.7 L675.7 123.5 L676.2 125.7 L676.7 133.4 L677.2 144.7 L677.7 157.1 L678.2 167.9 L678.7 175.4 L679.2 179.2 L679.7 180.3 L680.2 180.3 L680.7 179.2 L681.2 175.5 L681.7 168.1 L682.2 157.4 L682.7 145.2 L683.2 133.9 L683.7 126.2 L684.2 124.0 L684.7 128.0 L685.2 137.4 L685.7 149.7 L686.2 162.0 L686.7 171.7 L687.2 177.6 L687.7 180.0 L688.2 180.3 L688.7 179.9 L689.2 177.3 L689.7 171.0 L690.2 160.8 L690.7 148.0 L691.2 135.4 L691.7 126.0 L692.2 122.2 L692.7 124.8 L693.2 133.0 L693.7 144.8 L694.2 157.4 L694.7 168.2 L695.2 175.7 L695.7 179.3 L696.2 180.3 L696.7 180.2 L697.2 179.1 L697.7 175.0 L698.2 167.1 L698.7 155.9 L699.2 143.2 L699.7 131.8 L700.2 124.2 L700.7 122.3 L701.2 126.9 L701.7 136.8 L702.2 149.6 L702.7 162.2 L703.2 172.0 L703.7 177.8 L704.2 180.0 L704.7 180.3 L705.2 179.8 L705.7 177.0 L706.2 170.3 L706.7 159.7 L707.2 146.7 L707.7 134.1 L708.2 124.8 L708.7 121.4 L709.2 124.5 L709.7 133.1 L710.2 145.2 L710.7 157.9 L711.2 168.7 L711.7 176.0 L712.2 179.4 L712.7 180.3 L713.2 180.2 L713.7 178.9 L714.2 174.4 L714.7 166.0 L715.2 154.3 L715.7 141.3 L716.2 129.6 L716.7 122.1 L717.2 120.6 L717.7 125.8 L718.2 136.3 L718.7 149.6 L719.2 162.4 L719.7 172.3 L720.2 178.0 L720.7 180.1 L721.2 180.3 L721.7 179.7 L722.2 176.7 L722.7 169.6 L723.2 158.7 L723.7 145.5 L724.2 132.9 L724.7 123.9 L725.2 120.9 L725.7 124.4 L726.2 133.4 L726.7 145.7 L727.2 158.5 L727.7 169.2 L728.2 176.3 L728.7 179.6 L729.2 180.3 L729.7 180.2 L730.2 178.7 L730.7 174.1 L731.2 165.8 L731.7 154.2 L732.2 141.6 L732.7 130.5 L733.2 123.6 L733.7 122.5 L734.2 127.6 L734.7 137.6 L735.2 150.0 L735.7 162.2 L736.2 171.8 L736.7 177.6 L737.2 180.0 L737.7 180.3 L738.2 180.0 L738.7 177.9 L739.2 172.4 L739.7 163.3 L740.2 151.6 L740.7 139.5 L741.2 129.6 L741.7 124.4 L742.2 124.6 L742.7 128.2 L743.2 134.7 L743.7 142.9 L744.2 152.0 L744.7 160.7 L745.2 168.1 L745.7 173.7 L746.2 177.2 L746.7 178.8" fill="none" stroke="#1a1af0" stroke-opacity="0.42" stroke-width="2.8" stroke-linejoin="round"/>
<path d="M412.2 165.3 L412.7 165.4 L413.2 165.2 L413.7 164.7 L414.2 164.1 L414.7 163.4 L415.2 162.6 L415.7 161.8 L416.2 161.3 L416.7 161.0 L417.2 161.2 L417.7 161.6 L418.2 162.4 L418.7 163.2 L419.2 164.1 L419.7 164.7 L420.2 165.2 L420.7 165.4 L421.2 165.5 L421.7 165.3 L422.2 164.7 L422.7 164.0 L423.2 163.3 L423.7 162.6 L424.2 162.0 L424.7 161.7 L425.2 161.7 L425.7 161.7 L426.2 161.9 L426.7 162.4 L427.2 163.2 L427.7 163.9 L428.2 164.4 L428.7 164.8 L429.2 165.1 L429.7 164.9 L430.2 164.6 L430.7 164.3 L431.2 164.0 L431.7 163.4 L432.2 162.6 L432.7 162.0 L433.2 161.8 L433.7 161.7 L434.2 161.9 L434.7 162.4 L435.2 163.1 L435.7 163.6 L436.2 163.9 L436.7 164.4 L437.2 164.9 L437.7 165.1 L438.2 165.1 L438.7 164.9 L439.2 164.5 L439.7 163.9 L440.2 163.3 L440.7 162.9 L441.2 162.7 L441.7 162.5 L442.2 162.2 L442.7 162.2 L443.2 162.6 L443.7 163.2 L444.2 163.7 L444.7 164.3 L445.2 164.9 L445.7 165.1 L446.2 164.9 L446.7 164.8 L447.2 164.8 L447.7 164.6 L448.2 164.1 L448.7 163.5 L449.2 163.0 L449.7 162.6 L450.2 162.3 L450.7 162.3 L451.2 162.7 L451.7 163.1 L452.2 163.1 L452.7 163.2 L453.2 163.6 L453.7 164.2 L454.2 164.5 L454.7 164.6 L455.2 164.8 L455.7 164.7 L456.2 164.2 L456.7 163.8 L457.2 163.8 L457.7 163.8 L458.2 163.4 L458.7 162.9 L459.2 162.8 L459.7 162.9 L460.2 162.9 L460.7 163.2 L461.2 163.7 L461.7 164.2 L462.2 164.1 L462.7 164.0 L463.2 164.1 L463.7 164.5 L464.2 164.5 L464.7 164.3 L465.2 164.1 L465.7 163.8 L466.2 163.3 L466.7 162.9 L467.2 163.1 L467.7 163.5 L468.2 163.5 L468.7 163.3 L469.2 163.3 L469.7 163.7 L470.2 163.9 L470.7 164.1 L471.2 164.5 L471.7 164.7 L472.2 164.5 L472.7 164.0 L473.2 163.8 L473.7 164.0 L474.2 163.9 L474.7 163.5 L475.2 163.3 L475.7 163.2 L476.2 163.0 L476.7 162.9 L477.2 163.3 L477.7 163.9 L478.2 164.2 L478.7 164.0 L479.2 163.9 L479.7 164.2 L480.2 164.4 L480.7 164.4 L481.2 164.4 L481.7 164.3 L482.2 163.9 L482.7 163.3 L483.2 163.0 L483.7 163.2 L484.2 163.4 L484.7 163.3 L485.2 163.2 L485.7 163.4 L486.2 163.7 L486.7 163.8 L487.2 164.2 L487.7 164.7 L488.2 164.2 L488.7 164.0 L489.2 163.7 L489.7 163.2 L490.2 162.6 L490.7 161.9 L491.2 161.1 L491.7 160.4 L492.2 159.8 L492.7 159.5 L493.2 159.3 M512.2 161.7 L512.7 161.4 L513.2 161.6 L513.7 162.2 L514.2 162.9 L514.7 163.1" fill="none" stroke="#1a1af0" stroke-opacity="0.22" stroke-width="2.4" stroke-linejoin="round"/>
<use href="#w1" fill="none" stroke="#0b0b6a" stroke-width="1.3" stroke-linejoin="round"/>
<rect x="103.4" y="114.5" width="644.3" height="77.9" fill="none" stroke="#555555" stroke-width="1.05"/>
<path d="M189.3 114.5 v6.5 M189.3 192.4 v-6.5 M275.2 114.5 v6.5 M275.2 192.4 v-6.5 M361.1 114.5 v6.5 M361.1 192.4 v-6.5 M447.0 114.5 v6.5 M447.0 192.4 v-6.5 M532.9 114.5 v6.5 M532.9 192.4 v-6.5 M618.8 114.5 v6.5 M618.8 192.4 v-6.5 M704.7 114.5 v6.5 M704.7 192.4 v-6.5 M103.4 153.4 h6.5 M747.7 153.4 h-6.5" stroke="#555555" stroke-width="1.05" fill="none"/>
<defs><path id="w2" d="M104.2 238.6 L104.7 237.6 L105.2 241.2 L105.7 248.6 L106.2 257.8 L106.7 266.7 L107.2 273.5 L107.7 277.5 L108.2 278.9 L108.7 279.0 L109.2 278.6 L109.7 276.5 L110.2 271.7 L110.7 264.2 L111.2 255.3 L111.7 246.7 L112.2 240.6 L112.7 238.6 L113.2 241.1 L113.7 247.2 L114.2 255.6 L114.7 264.3 L115.2 271.6 L115.7 276.3 L116.2 278.5 L116.7 279.0 L117.2 279.0 L117.7 277.9 L118.2 274.8 L118.7 269.2 L119.2 261.4 L119.7 252.9 L120.2 245.4 L120.7 240.8 L121.2 240.2 L121.7 243.9 L122.2 251.0 L122.7 259.7 L123.2 267.9 L123.7 274.2 L124.2 277.7 L124.7 278.9 L125.2 279.0 L125.7 278.6 L126.2 276.3 L126.7 271.3 L127.2 263.7 L127.7 254.7 L128.2 246.2 L128.7 240.4 L129.2 238.7 L129.7 241.4 L130.2 247.8 L130.7 256.2 L131.2 264.9 L131.7 272.0 L132.2 276.6 L132.7 278.6 L133.2 279.0 L133.7 278.9 L134.2 277.8 L134.7 274.4 L135.2 268.5 L135.7 260.5 L136.2 251.8 L136.7 244.3 L137.2 239.9 L137.7 239.5 L138.2 243.6 L138.7 251.0 L139.2 259.9 L139.7 268.2 L140.2 274.4 L140.7 277.8 L141.2 279.0 L141.7 279.0 L142.2 278.5 L142.7 276.0 L143.2 270.8 L143.7 263.1 L144.2 254.0 L144.7 245.7 L145.2 240.1 L145.7 238.7 L146.2 241.7 L146.7 248.3 L147.2 256.8 L147.7 265.4 L148.2 272.4 L148.7 276.8 L149.2 278.7 L149.7 279.0 L150.2 278.9 L150.7 277.6 L151.2 274.0 L151.7 267.7 L152.2 259.4 L152.7 250.5 L153.2 243.0 L153.7 238.7 L154.2 238.7 L154.7 243.1 L155.2 250.9 L155.7 260.0 L156.2 268.5 L156.7 274.6 L157.2 277.9 L157.7 279.0 L158.2 279.0 L158.7 278.4 L159.2 275.7 L159.7 270.1 L160.2 262.0 L160.7 252.6 L161.2 244.2 L161.7 238.7 L162.2 237.5 L162.7 240.9 L163.2 247.9 L163.7 256.7 L164.2 265.5 L164.7 272.5 L165.2 276.9 L165.7 278.7 L166.2 279.0 L166.7 278.9 L167.2 277.5 L167.7 273.7 L168.2 267.4 L168.7 259.1 L169.2 250.3 L169.7 243.1 L170.2 239.1 L170.7 239.3 L171.2 244.0 L171.7 251.8 L172.2 260.8 L172.7 269.1 L173.2 275.0 L173.7 278.1 L174.2 279.0 L174.7 279.0 L175.2 278.3 L175.7 275.5 L176.2 269.8 L176.7 261.7 L177.2 252.5 L177.7 244.3 L178.2 239.2 L178.7 238.4 L179.2 242.0 L179.7 249.0 L180.2 257.7 L180.7 266.3 L181.2 273.0 L181.7 277.1 L182.2 278.8 L182.7 279.0 L183.2 278.8 L183.7 277.2 L184.2 273.2 L184.7 266.5 L185.2 257.8 L185.7 248.9 L186.2 241.6 L186.7 237.7 L187.2 238.3 L187.7 243.3 L188.2 251.5 L188.7 260.9 L189.2 269.3 L189.7 275.2 L190.2 278.2 L190.7 279.0 L191.2 279.0 L191.7 278.2 L192.2 275.1 L192.7 269.2 L193.2 260.8 L193.7 251.4 L194.2 243.2 L194.7 238.2 L195.2 237.7 L195.7 241.7 L196.2 249.0 L196.7 257.9 L197.2 266.6 L197.7 273.3 L198.2 277.3 L198.7 278.8 L199.2 279.0 L199.7 278.8 L200.2 277.1 L200.7 273.0 L201.2 266.3 L201.7 257.9 L202.2 249.2 L202.7 242.3 L203.2 238.9 L203.7 239.7 L204.2 244.9 L204.7 253.0 L205.2 262.0 L205.7 270.0 L206.2 275.6 L206.7 278.3 L207.2 279.0 L207.7 279.0 L208.2 278.1 L208.7 274.9 L209.2 268.9 L209.7 260.5 L210.2 251.3 L210.7 243.4 L211.2 238.8 L211.7 238.6 L212.2 242.7 L212.7 250.1 L213.2 258.9 L213.7 267.3 L214.2 273.7 L214.7 277.5 L215.2 278.9 L215.7 279.0 L216.2 278.7 L216.7 276.9 L217.2 272.7 L217.7 265.8 L218.2 257.3 L218.7 248.7 L219.2 242.0 L219.7 238.8 L220.2 239.9 L220.7 245.3 L221.2 253.6 L221.7 262.6 L222.2 270.5 L222.7 275.8 L223.2 278.4 L223.7 279.0 L224.2 279.0 L224.7 277.9 L225.2 274.5 L225.7 268.2 L226.2 259.5 L226.7 250.2 L227.2 242.3 L227.7 237.9 L228.2 238.0 L228.7 242.5 L229.2 250.1 L229.7 259.2 L230.2 267.6 L230.7 274.0 L231.2 277.6 L231.7 278.9 L232.2 279.0 L232.7 278.7 L233.2 276.7 L233.7 272.1 L234.2 264.9 L234.7 256.0 L235.2 247.2 L235.7 240.5 L236.2 237.4 L236.7 238.9 L237.2 244.8 L237.7 253.4 L238.2 262.7 L238.7 270.7 L239.2 276.0 L239.7 278.5 L240.2 279.0 L240.7 278.9 L241.2 277.8 L241.7 274.2 L242.2 267.9 L242.7 259.3 L243.2 250.2 L243.7 242.6 L244.2 238.5 L244.7 238.9 L245.2 243.6 L245.7 251.2 L246.2 260.1 L246.7 268.3 L247.2 274.4 L247.7 277.8 L248.2 278.9 L248.7 279.0 L249.2 278.6 L249.7 276.4 L250.2 271.7 L250.7 264.3 L251.2 255.4 L251.7 246.7 L252.2 240.2 L252.7 237.4 L253.2 239.2 L253.7 245.3 L254.2 254.0 L254.7 263.3 L255.2 271.1 L255.7 276.2 L256.2 278.6 L256.7 279.0 L257.2 278.9 L257.7 277.6 L258.2 274.0 L258.7 267.5 L259.2 258.9 L259.7 249.9 L260.2 242.6 L260.7 238.9 L261.2 239.6 L261.7 244.4 L262.2 252.1 L262.7 260.9 L263.2 268.9 L263.7 274.8 L264.2 277.9 L264.7 279.0 L265.2 279.0 L265.7 278.5 L266.2 276.3 L266.7 271.4 L267.2 264.0 L267.7 255.2 L268.2 246.7 L268.7 240.6 L269.2 238.1 L269.7 240.2 L270.2 246.4 L270.7 255.1 L271.2 264.2 L271.7 271.7 L272.2 276.5 L272.7 278.6 L273.2 279.0 L273.7 278.9 L274.2 277.4 L274.7 273.4 L275.2 266.6 L275.7 257.7 L276.2 248.4 L276.7 241.1 L277.2 237.5 L277.7 238.6 L278.2 244.0 L278.7 252.2 L279.2 261.4 L279.7 269.6 L280.2 275.3 L280.7 278.2 L281.2 279.0 L281.7 279.0 L282.2 278.2 L282.7 275.4 L283.2 269.8 L283.7 261.9 L284.2 252.8 L284.7 244.7 L285.2 239.4 L285.7 238.3 L286.2 241.5 L286.7 248.3 L287.2 257.0 L287.7 265.7 L288.2 272.6 L288.7 276.9 L289.2 278.7 L289.7 279.0 L290.2 278.9 L290.7 277.4 L291.2 273.6 L291.7 267.1 L292.2 258.6 L292.7 249.5 L293.2 242.0 L293.7 237.9 L294.2 238.0 L294.7 242.5 L295.2 250.1 L295.7 259.2 L296.2 267.6 L296.7 274.0 L297.2 277.6 L297.7 278.9 L298.2 279.0 L298.7 278.7 L299.2 276.7 L299.7 272.2 L300.2 265.1 L300.7 256.4 L301.2 247.8 L301.7 241.2 L302.2 238.2 L302.7 239.7 L303.2 245.4 L303.7 253.9 L304.2 263.0 L304.7 270.8 L305.2 276.0 L305.7 278.5 L306.2 279.0 L306.7 278.9 L307.2 277.8 L307.7 274.2 L308.2 267.6 L308.7 258.9 L309.2 249.6 L309.7 241.9 L310.2 237.8 L310.7 238.2 L311.2 242.9 L311.7 250.7 L312.2 259.8 L312.7 268.1 L313.2 274.3 L313.7 277.8 L314.2 278.9 L314.7 279.0 L315.2 278.6 L315.7 276.6 L316.2 272.2 L316.7 265.4 L317.2 257.1 L317.7 249.0 L318.2 243.0 L318.7 240.4 L319.2 241.8 L319.7 246.5 L320.2 253.5 L320.7 261.1 L321.2 267.9 L321.7 272.8 L322.2 275.5 L322.7 276.4 L323.2 276.5 L323.7 276.1 L324.2 274.5 L324.7 271.1 L325.2 266.0 L325.7 260.2 L326.2 254.7 L326.7 251.1 L327.2 250.1 L327.7 251.4 L328.2 254.6 L328.7 258.8 L329.2 263.3 L329.7 267.3 L330.2 270.2 L330.7 271.7 L331.2 272.2 L331.7 272.2 L332.2 271.6 L332.7 270.0 L333.2 267.5 L333.7 264.4 L334.2 261.2 L334.7 258.6 L335.2 257.1 L335.7 257.0 L336.2 258.0 L336.7 259.9 L337.2 262.4 L337.7 265.0 L338.2 267.3 L338.7 269.0 L339.2 269.9 L339.7 270.2 L340.2 270.0 L340.7 269.4 L341.2 268.1 L341.7 266.3 L342.2 264.3 L342.7 262.3 L343.2 260.9 L343.7 260.2 L344.2 260.3 L344.7 261.1 L345.2 262.5 L345.7 264.1 L346.2 265.7 L346.7 267.2 L347.2 268.2 L347.7 268.8 L348.2 269.1 L348.7 268.9 L349.2 268.3 L349.7 267.3 L350.2 266.0 L350.7 264.7 L351.2 263.6 L351.7 262.8 L352.2 262.5 L352.7 262.7 L353.2 263.3 L353.7 264.2 L354.2 265.3 L354.7 266.4 L355.2 267.3 L355.7 268.0 L356.2 268.3 L356.7 268.5 L357.2 268.2 L357.7 267.6 L358.2 266.8 L358.7 265.9 L359.2 265.0 L359.7 264.2 L360.2 263.7 L360.7 263.6 L361.2 263.8 L361.7 264.4 L362.2 265.1 L362.7 266.0 L363.2 266.7 L363.7 267.3 L364.2 267.7 L364.7 268.0 L365.2 268.0 L365.7 267.7 L366.2 267.2 L366.7 266.5 L367.2 265.6 L367.7 264.8 L368.2 264.4 L368.7 264.2 L369.2 264.2 L369.7 264.4 L370.2 264.8 L370.7 265.5 L371.2 266.2 L371.7 266.8 L372.2 267.4 L372.7 267.8 L373.2 267.8 L373.7 267.6 L374.2 267.3 L374.7 267.0 L375.2 266.5 L375.7 265.8 L376.2 265.1 L376.7 264.7 L377.2 264.3 L377.7 264.1 L378.2 264.4 L378.7 265.1 L379.2 265.8 L379.7 266.2 L380.2 266.6 L380.7 267.1 L381.2 267.3 L381.7 267.3 L382.2 267.2 L382.7 267.0 L383.2 266.6 L383.7 265.9 L384.2 265.3 L384.7 265.2 L385.2 265.1 L385.7 264.9 L386.2 264.7 L386.7 265.0 L387.2 265.3 L387.7 265.7 L388.2 266.3 L388.7 266.9 L389.2 267.3 L389.7 267.2 L390.2 266.8 L390.7 266.7 L391.2 266.7 L391.7 266.4 L392.2 266.0 L392.7 265.8 L393.2 265.5 L393.7 265.0 L394.2 264.9 L394.7 265.3 L395.2 265.8 L395.7 266.1 L396.2 266.1 L396.7 266.4 L397.2 266.7 L397.7 266.8 L398.2 266.8 L398.7 267.0 L399.2 267.0 L399.7 266.5 L400.2 265.9 L400.7 265.7 L401.2 265.8 L401.7 265.7 L402.2 265.5 L402.7 265.5 L403.2 265.6 L403.7 265.5 L404.2 265.6 L404.7 266.1 L405.2 266.7 L405.7 266.9 L406.2 266.6 L406.7 266.5 L407.2 266.6 L407.7 266.5 L408.2 266.3 L408.7 266.3 L409.2 266.2 L409.7 265.8 L410.2 265.3 L410.7 265.3 L411.2 265.8 L411.7 266.1 L412.2 266.1 L412.7 266.1 L413.2 266.2 L413.7 266.2 L414.2 266.2 L414.7 266.4 L415.2 266.8 L415.7 266.8 L416.2 266.2 L416.7 265.7 L417.2 265.8 L417.7 265.8 L418.2 265.7 L418.7 265.7 L419.2 265.9 L419.7 265.8 L420.2 265.5 L420.7 265.6 L421.2 266.2 L421.7 266.7 L422.2 266.6 L422.7 266.4 L423.2 266.4 L423.7 266.4 L424.2 266.1 L424.7 266.1 L425.2 266.3 L425.7 266.3 L426.2 265.7 L426.7 265.2 L427.2 265.4 L427.7 265.8 L428.2 265.9 L428.7 265.9 L429.2 266.2 L429.7 266.2 L430.2 266.0 L430.7 266.0 L431.2 266.5 L431.7 266.9 L432.2 266.7 L432.7 266.2 L433.2 266.0 L433.7 265.9 L434.2 265.7 L434.7 265.7 L435.2 265.9 L435.7 266.0 L436.2 265.6 L436.7 265.3 L437.2 265.5 L437.7 266.1 L438.2 266.3 L438.7 266.3 L439.2 266.3 L439.7 266.3 L440.2 266.0 L440.7 265.8 L441.2 266.1 L441.7 266.4 L442.2 266.1 L442.7 265.6 L443.2 265.3 L443.7 265.5 L444.2 265.6 L444.7 265.6 L445.2 265.8 L445.7 266.1 L446.2 265.8 L446.7 265.3 L447.2 265.4 L447.7 265.8 L448.2 265.9 L448.7 265.5 L449.2 265.1 L449.7 265.0 L450.2 264.8 L450.7 264.6 L451.2 264.8 L451.7 265.3 L452.2 265.4 L452.7 265.0 L453.2 265.0 L453.7 265.4 L454.2 265.7 L454.7 265.8 L455.2 265.8 L455.7 265.9 L456.2 265.6 L456.7 265.1 L457.2 265.0 L457.7 265.3 L458.2 265.4 L458.7 265.1 L459.2 264.7 L459.7 264.7 L460.2 264.9 L460.7 264.9 L461.2 265.2 L461.7 265.7 L462.2 265.9 L462.7 265.5 L463.2 265.3 L463.7 265.5 L464.2 265.9 L464.7 265.8 L465.2 265.5 L465.7 265.4 L466.2 265.1 L466.7 264.7 L467.2 264.5 L467.7 265.0 L468.2 265.3 L468.7 265.2 L469.2 264.9 L469.7 265.0 L470.2 265.4 L470.7 265.5 L471.2 265.7 L471.7 266.0 L472.2 266.0 L472.7 265.6 L473.2 265.1 L473.7 265.2 L474.2 265.4 L474.7 265.3 L475.2 265.0 L475.7 264.9 L476.2 264.8 L476.7 264.7 L477.2 264.7 L477.7 265.2 L478.2 265.8 L478.7 265.7 L479.2 265.4 L479.7 265.4 L480.2 265.7 L480.7 265.8 L481.2 265.7 L481.7 265.7 L482.2 265.6 L482.7 265.1 L483.2 264.6 L483.7 264.6 L484.2 265.1 L484.7 265.2 L485.2 265.0 L485.7 264.9 L486.2 265.1 L486.7 265.2 L487.2 265.3 L487.7 265.7 L488.2 266.1 L488.7 265.7 L489.2 265.4 L489.7 265.1 L490.2 265.0 L490.7 264.8 L491.2 264.3 L491.7 263.9 L492.2 263.5 L492.7 263.0 L493.2 262.5 L493.7 262.3 L494.2 262.4 L494.7 262.4 L495.2 262.6 L495.7 262.9 L496.2 263.4 L496.7 264.0 L497.2 264.7 L497.7 265.3 L498.2 266.0 L498.7 266.5 L499.2 267.0 L499.7 267.4 L500.2 267.6 L500.7 267.7 L501.2 268.2 L501.7 267.9 L502.2 267.7 L502.7 267.4 L503.2 266.9 L503.7 266.9 L504.2 267.7 L504.7 268.5 L505.2 269.7 L505.7 271.0 L506.2 272.1 L506.7 272.8 L507.2 273.0 L507.7 272.9 L508.2 272.6 L508.7 272.1 L509.2 271.5 L509.7 270.8 L510.2 270.0 L510.7 269.2 L511.2 268.5 L511.7 268.0 L512.2 267.6 L512.7 267.5 L513.2 267.2 L513.7 267.6 L514.2 268.3 L514.7 267.6 L515.2 267.4 L515.7 266.6 L516.2 265.1 L516.7 263.0 L517.2 260.4 L517.7 257.5 L518.2 254.8 L518.7 252.4 L519.2 250.8 L519.7 250.1 L520.2 250.4 L520.7 251.8 L521.2 254.0 L521.7 256.5 L522.2 258.8 L522.7 260.4 L523.2 261.2 L523.7 261.3 L524.2 261.0 L524.7 259.9 L525.2 257.9 L525.7 255.1 L526.2 251.9 L526.7 248.8 L527.2 246.4 L527.7 245.1 L528.2 245.4 L528.7 247.9 L529.2 252.1 L529.7 257.0 L530.2 261.6 L530.7 265.1 L531.2 267.0 L531.7 267.6 L532.2 267.6 L532.7 267.1 L533.2 265.6 L533.7 262.9 L534.2 259.3 L534.7 255.2 L535.2 251.4 L535.7 248.7 L536.2 247.5 L536.7 248.3 L537.2 251.2 L537.7 255.4 L538.2 260.2 L538.7 264.6 L539.2 267.9 L539.7 269.9 L540.2 270.6 L540.7 270.7 L541.2 270.2 L541.7 268.1 L542.2 263.6 L542.7 257.0 L543.2 249.6 L543.7 243.4 L544.2 240.1 L544.7 240.8 L545.2 245.4 L545.7 252.7 L546.2 260.9 L546.7 268.2 L547.2 273.3 L547.7 275.8 L548.2 276.5 L548.7 276.5 L549.2 275.6 L549.7 272.6 L550.2 266.8 L550.7 258.3 L551.2 248.5 L551.7 239.2 L552.2 232.4 L552.7 229.8 L553.2 232.3 L553.7 239.8 L554.2 250.4 L554.7 261.5 L555.2 270.7 L555.7 276.7 L556.2 279.3 L556.7 279.8 L557.2 279.7 L557.7 278.2 L558.2 274.1 L558.7 266.8 L559.2 256.6 L559.7 245.1 L560.2 234.3 L560.7 226.3 L561.2 223.0 L561.7 225.4 L562.2 233.8 L562.7 245.9 L563.2 258.8 L563.7 269.7 L564.2 276.9 L564.7 280.1 L565.2 280.8 L565.7 280.7 L566.2 278.8 L566.7 273.5 L567.2 264.2 L567.7 251.8 L568.2 238.7 L568.7 228.1 L569.2 222.6 L569.7 223.5 L570.2 230.4 L570.7 241.6 L571.2 254.4 L571.7 266.0 L572.2 274.5 L572.7 279.2 L573.2 280.7 L573.7 280.8 L574.2 280.1 L574.7 276.8 L575.2 269.8 L575.7 259.2 L576.2 246.4 L576.7 234.1 L577.2 225.0 L577.7 221.4 L578.2 224.4 L578.7 233.3 L579.2 245.9 L579.7 259.0 L580.2 270.0 L580.7 277.1 L581.2 280.2 L581.7 280.8 L582.2 280.6 L582.7 278.6 L583.2 272.9 L583.7 263.1 L584.2 250.3 L584.7 237.0 L585.2 226.4 L585.7 221.2 L586.2 222.6 L586.7 230.0 L587.2 241.6 L587.7 254.6 L588.2 266.4 L588.7 274.8 L589.2 279.3 L589.7 280.7 L590.2 280.8 L590.7 280.0 L591.2 276.5 L591.7 269.1 L592.2 258.2 L592.7 245.2 L593.2 232.9 L593.7 224.1 L594.2 220.9 L594.7 224.3 L595.2 233.6 L595.7 246.5 L596.2 259.7 L596.7 270.5 L597.2 277.4 L597.7 280.3 L598.2 280.8 L598.7 280.6 L599.2 278.4 L599.7 272.5 L600.2 262.7 L600.7 250.0 L601.2 237.1 L601.7 227.0 L602.2 222.3 L602.7 224.1 L603.2 231.7 L603.7 243.3 L604.2 256.0 L604.7 267.3 L605.2 275.3 L605.7 279.5 L606.2 280.7 L606.7 280.8 L607.2 279.9 L607.7 276.3 L608.2 268.9 L608.7 258.1 L609.2 245.6 L609.7 233.9 L610.2 225.6 L610.7 222.9 L611.2 226.7 L611.7 236.0 L612.2 248.5 L612.7 261.2 L613.2 271.4 L613.7 277.8 L614.2 280.4 L614.7 280.8 L615.2 280.5 L615.7 278.1 L616.2 272.1 L616.7 262.1 L617.2 249.5 L617.7 236.9 L618.2 227.2 L618.7 223.0 L619.2 225.2 L619.7 233.0 L620.2 244.6 L620.7 257.2 L621.2 268.2 L621.7 275.8 L622.2 279.7 L622.7 280.8 L623.2 280.8 L623.7 279.7 L624.2 275.9 L624.7 268.4 L625.2 257.5 L625.7 245.1 L626.2 233.6 L626.7 225.8 L627.2 223.5 L627.7 227.6 L628.2 237.1 L628.7 249.6 L629.2 262.1 L629.7 272.1 L630.2 278.1 L630.7 280.5 L631.2 280.8 L631.7 280.4 L632.2 277.9 L632.7 271.6 L633.2 261.5 L633.7 248.9 L634.2 236.5 L634.7 227.2 L635.2 223.5 L635.7 226.0 L636.2 234.1 L636.7 245.7 L637.2 258.2 L637.7 268.9 L638.2 276.2 L638.7 279.8 L639.2 280.8 L639.7 280.8 L640.2 279.6 L640.7 275.6 L641.2 267.9 L641.7 256.9 L642.2 244.6 L642.7 233.3 L643.2 225.9 L643.7 224.1 L644.2 228.6 L644.7 238.3 L645.2 250.8 L645.7 263.1 L646.2 272.7 L646.7 278.4 L647.2 280.6 L647.7 280.8 L648.2 280.4 L648.7 277.7 L649.2 271.3 L649.7 261.2 L650.2 248.8 L650.7 236.8 L651.2 228.0 L651.7 224.7 L652.2 227.6 L652.7 235.8 L653.2 247.3 L653.7 259.4 L654.2 269.7 L654.7 276.7 L655.2 280.0 L655.7 280.8 L656.2 280.7 L656.7 279.5 L657.2 275.3 L657.7 267.4 L658.2 256.5 L658.7 244.2 L659.2 233.3 L659.7 226.3 L660.2 224.9 L660.7 229.8 L661.2 239.6 L661.7 252.0 L662.2 264.0 L662.7 273.3 L663.2 278.7 L663.7 280.6 L664.2 280.8 L664.7 280.3 L665.2 277.4 L665.7 271.0 L666.2 260.9 L666.7 248.7 L667.2 237.1 L667.7 228.8 L668.2 226.0 L668.7 229.2 L669.2 237.5 L669.7 248.9 L670.2 260.7 L670.7 270.6 L671.2 277.1 L671.7 280.1 L672.2 280.8 L672.7 280.7 L673.2 279.3 L673.7 275.1 L674.2 267.2 L674.7 256.5 L675.2 244.6 L675.7 234.3 L676.2 227.8 L676.7 226.8 L677.2 231.9 L677.7 241.7 L678.2 253.8 L678.7 265.3 L679.2 274.0 L679.7 278.9 L680.2 280.7 L680.7 280.8 L681.2 280.2 L681.7 277.1 L682.2 270.4 L682.7 260.1 L683.2 247.9 L683.7 236.4 L684.2 228.4 L684.7 226.0 L685.2 229.6 L685.7 238.2 L686.2 249.7 L686.7 261.4 L687.2 271.1 L687.7 277.4 L688.2 280.2 L688.7 280.8 L689.2 280.7 L689.7 279.1 L690.2 274.4 L690.7 266.1 L691.2 254.9 L691.7 242.7 L692.2 232.1 L692.7 225.8 L693.2 225.2 L693.7 230.8 L694.2 241.2 L694.7 253.7 L695.2 265.5 L695.7 274.2 L696.2 279.1 L696.7 280.7 L697.2 280.8 L697.7 280.0 L698.2 276.6 L698.7 269.3 L699.2 258.3 L699.7 245.5 L700.2 233.6 L700.7 225.6 L701.2 223.5 L701.7 227.7 L702.2 237.0 L702.7 249.1 L703.2 261.3 L703.7 271.2 L704.2 277.5 L704.7 280.3 L705.2 280.8 L705.7 280.6 L706.2 278.8 L706.7 273.8 L707.2 265.1 L707.7 253.4 L708.2 241.0 L708.7 230.5 L709.2 224.3 L709.7 224.2 L710.2 230.3 L710.7 241.1 L711.2 254.0 L711.7 265.8 L712.2 274.5 L712.7 279.2 L713.2 280.7 L713.7 280.8 L714.2 279.9 L714.7 276.3 L715.2 268.7 L715.7 257.5 L716.2 244.6 L716.7 232.9 L717.2 225.3 L717.7 223.6 L718.2 228.2 L718.7 237.7 L719.2 249.9 L719.7 262.0 L720.2 271.8 L720.7 277.8 L721.2 280.4 L721.7 280.8 L722.2 280.6 L722.7 278.6 L723.2 273.4 L723.7 264.5 L724.2 252.9 L724.7 240.6 L725.2 230.3 L725.7 224.6 L726.2 224.9 L726.7 231.3 L727.2 242.3 L727.7 255.0 L728.2 266.7 L728.7 275.0 L729.2 279.4 L729.7 280.7 L730.2 280.8 L730.7 279.8 L731.2 276.0 L731.7 268.3 L732.2 257.2 L732.7 244.6 L733.2 233.3 L733.7 226.2 L734.2 225.0 L734.7 229.9 L735.2 239.4 L735.7 251.4 L736.2 263.2 L736.7 272.5 L737.2 278.1 L737.7 280.5 L738.2 280.8 L738.7 280.5 L739.2 278.5 L739.7 273.2 L740.2 264.4 L740.7 253.1 L741.2 241.2 L741.7 231.6 L742.2 226.4 L742.7 226.6 L743.2 230.5 L743.7 237.3 L744.2 246.0 L744.7 255.3 L745.2 264.1 L745.7 271.2 L746.2 276.2 L746.7 279.0"/></defs>
<path d="M104.2 238.6 L104.7 237.6 L105.2 241.2 L105.7 248.6 L106.2 257.8Z M111.2 255.3 L111.7 246.7 L112.2 240.6 L112.7 238.6 L113.2 241.1 L113.7 247.2 L114.2 255.6Z M119.7 252.9 L120.2 245.4 L120.7 240.8 L121.2 240.2 L121.7 243.9 L122.2 251.0Z M127.7 254.7 L128.2 246.2 L128.7 240.4 L129.2 238.7 L129.7 241.4 L130.2 247.8 L130.7 256.2Z M136.2 251.8 L136.7 244.3 L137.2 239.9 L137.7 239.5 L138.2 243.6 L138.7 251.0Z M144.2 254.0 L144.7 245.7 L145.2 240.1 L145.7 238.7 L146.2 241.7 L146.7 248.3 L147.2 256.8Z M152.7 250.5 L153.2 243.0 L153.7 238.7 L154.2 238.7 L154.7 243.1 L155.2 250.9Z M160.7 252.6 L161.2 244.2 L161.7 238.7 L162.2 237.5 L162.7 240.9 L163.2 247.9 L163.7 256.7Z M169.2 250.3 L169.7 243.1 L170.2 239.1 L170.7 239.3 L171.2 244.0 L171.7 251.8Z M177.2 252.5 L177.7 244.3 L178.2 239.2 L178.7 238.4 L179.2 242.0 L179.7 249.0 L180.2 257.7Z M185.2 257.8 L185.7 248.9 L186.2 241.6 L186.7 237.7 L187.2 238.3 L187.7 243.3 L188.2 251.5Z M193.7 251.4 L194.2 243.2 L194.7 238.2 L195.2 237.7 L195.7 241.7 L196.2 249.0 L196.7 257.9Z M201.7 257.9 L202.2 249.2 L202.7 242.3 L203.2 238.9 L203.7 239.7 L204.2 244.9 L204.7 253.0Z M210.2 251.3 L210.7 243.4 L211.2 238.8 L211.7 238.6 L212.2 242.7 L212.7 250.1Z M218.2 257.3 L218.7 248.7 L219.2 242.0 L219.7 238.8 L220.2 239.9 L220.7 245.3 L221.2 253.6Z M226.7 250.2 L227.2 242.3 L227.7 237.9 L228.2 238.0 L228.7 242.5 L229.2 250.1Z M234.7 256.0 L235.2 247.2 L235.7 240.5 L236.2 237.4 L236.7 238.9 L237.2 244.8 L237.7 253.4Z M243.2 250.2 L243.7 242.6 L244.2 238.5 L244.7 238.9 L245.2 243.6 L245.7 251.2Z M251.2 255.4 L251.7 246.7 L252.2 240.2 L252.7 237.4 L253.2 239.2 L253.7 245.3 L254.2 254.0Z M259.7 249.9 L260.2 242.6 L260.7 238.9 L261.2 239.6 L261.7 244.4 L262.2 252.1Z M267.7 255.2 L268.2 246.7 L268.7 240.6 L269.2 238.1 L269.7 240.2 L270.2 246.4 L270.7 255.1Z M275.7 257.7 L276.2 248.4 L276.7 241.1 L277.2 237.5 L277.7 238.6 L278.2 244.0 L278.7 252.2Z M284.2 252.8 L284.7 244.7 L285.2 239.4 L285.7 238.3 L286.2 241.5 L286.7 248.3 L287.2 257.0Z M292.7 249.5 L293.2 242.0 L293.7 237.9 L294.2 238.0 L294.7 242.5 L295.2 250.1Z M300.7 256.4 L301.2 247.8 L301.7 241.2 L302.2 238.2 L302.7 239.7 L303.2 245.4 L303.7 253.9Z M309.2 249.6 L309.7 241.9 L310.2 237.8 L310.7 238.2 L311.2 242.9 L311.7 250.7Z M317.2 257.1 L317.7 249.0 L318.2 243.0 L318.7 240.4 L319.2 241.8 L319.7 246.5 L320.2 253.5Z M325.7 260.2 L326.2 254.7 L326.7 251.1 L327.2 250.1 L327.7 251.4 L328.2 254.6 L328.7 258.8Z M334.2 261.2 L334.7 258.6 L335.2 257.1 L335.7 257.0 L336.2 258.0 L336.7 259.9 L337.2 262.4Z M518.2 254.8 L518.7 252.4 L519.2 250.8 L519.7 250.1 L520.2 250.4 L520.7 251.8 L521.2 254.0Z M526.2 251.9 L526.7 248.8 L527.2 246.4 L527.7 245.1 L528.2 245.4 L528.7 247.9 L529.2 252.1Z M534.7 255.2 L535.2 251.4 L535.7 248.7 L536.2 247.5 L536.7 248.3 L537.2 251.2 L537.7 255.4Z M543.2 249.6 L543.7 243.4 L544.2 240.1 L544.7 240.8 L545.2 245.4 L545.7 252.7Z M551.2 248.5 L551.7 239.2 L552.2 232.4 L552.7 229.8 L553.2 232.3 L553.7 239.8 L554.2 250.4Z M559.7 245.1 L560.2 234.3 L560.7 226.3 L561.2 223.0 L561.7 225.4 L562.2 233.8 L562.7 245.9Z M568.2 238.7 L568.7 228.1 L569.2 222.6 L569.7 223.5 L570.2 230.4 L570.7 241.6Z M576.2 246.4 L576.7 234.1 L577.2 225.0 L577.7 221.4 L578.2 224.4 L578.7 233.3 L579.2 245.9Z M584.2 250.3 L584.7 237.0 L585.2 226.4 L585.7 221.2 L586.2 222.6 L586.7 230.0 L587.2 241.6Z M592.7 245.2 L593.2 232.9 L593.7 224.1 L594.2 220.9 L594.7 224.3 L595.2 233.6 L595.7 246.5Z M600.7 250.0 L601.2 237.1 L601.7 227.0 L602.2 222.3 L602.7 224.1 L603.2 231.7 L603.7 243.3Z M609.2 245.6 L609.7 233.9 L610.2 225.6 L610.7 222.9 L611.2 226.7 L611.7 236.0 L612.2 248.5Z M617.2 249.5 L617.7 236.9 L618.2 227.2 L618.7 223.0 L619.2 225.2 L619.7 233.0 L620.2 244.6Z M625.7 245.1 L626.2 233.6 L626.7 225.8 L627.2 223.5 L627.7 227.6 L628.2 237.1 L628.7 249.6Z M633.7 248.9 L634.2 236.5 L634.7 227.2 L635.2 223.5 L635.7 226.0 L636.2 234.1 L636.7 245.7Z M642.2 244.6 L642.7 233.3 L643.2 225.9 L643.7 224.1 L644.2 228.6 L644.7 238.3 L645.2 250.8Z M650.2 248.8 L650.7 236.8 L651.2 228.0 L651.7 224.7 L652.2 227.6 L652.7 235.8 L653.2 247.3Z M658.7 244.2 L659.2 233.3 L659.7 226.3 L660.2 224.9 L660.7 229.8 L661.2 239.6 L661.7 252.0Z M666.7 248.7 L667.2 237.1 L667.7 228.8 L668.2 226.0 L668.7 229.2 L669.2 237.5 L669.7 248.9Z M675.2 244.6 L675.7 234.3 L676.2 227.8 L676.7 226.8 L677.2 231.9 L677.7 241.7Z M683.2 247.9 L683.7 236.4 L684.2 228.4 L684.7 226.0 L685.2 229.6 L685.7 238.2 L686.2 249.7Z M691.7 242.7 L692.2 232.1 L692.7 225.8 L693.2 225.2 L693.7 230.8 L694.2 241.2Z M699.7 245.5 L700.2 233.6 L700.7 225.6 L701.2 223.5 L701.7 227.7 L702.2 237.0 L702.7 249.1Z M708.2 241.0 L708.7 230.5 L709.2 224.3 L709.7 224.2 L710.2 230.3 L710.7 241.1Z M716.2 244.6 L716.7 232.9 L717.2 225.3 L717.7 223.6 L718.2 228.2 L718.7 237.7 L719.2 249.9Z M724.7 240.6 L725.2 230.3 L725.7 224.6 L726.2 224.9 L726.7 231.3 L727.2 242.3Z M732.7 244.6 L733.2 233.3 L733.7 226.2 L734.2 225.0 L734.7 229.9 L735.2 239.4 L735.7 251.4Z M740.7 253.1 L741.2 241.2 L741.7 231.6 L742.2 226.4 L742.7 226.6 L743.2 230.5 L743.7 237.3 L744.2 246.0Z" fill="#1818e8" fill-opacity="0.38" stroke="none"/>
<path d="M104.2 238.6 L104.7 237.6 L105.2 241.2 L105.7 248.6 L106.2 257.8 L106.7 266.7 L107.2 273.5 L107.7 277.5 L108.2 278.9 L108.7 279.0 L109.2 278.6 L109.7 276.5 L110.2 271.7 L110.7 264.2 L111.2 255.3 L111.7 246.7 L112.2 240.6 L112.7 238.6 L113.2 241.1 L113.7 247.2 L114.2 255.6 L114.7 264.3 L115.2 271.6 L115.7 276.3 L116.2 278.5 L116.7 279.0 L117.2 279.0 L117.7 277.9 L118.2 274.8 L118.7 269.2 L119.2 261.4 L119.7 252.9 L120.2 245.4 L120.7 240.8 L121.2 240.2 L121.7 243.9 L122.2 251.0 L122.7 259.7 L123.2 267.9 L123.7 274.2 L124.2 277.7 L124.7 278.9 L125.2 279.0 L125.7 278.6 L126.2 276.3 L126.7 271.3 L127.2 263.7 L127.7 254.7 L128.2 246.2 L128.7 240.4 L129.2 238.7 L129.7 241.4 L130.2 247.8 L130.7 256.2 L131.2 264.9 L131.7 272.0 L132.2 276.6 L132.7 278.6 L133.2 279.0 L133.7 278.9 L134.2 277.8 L134.7 274.4 L135.2 268.5 L135.7 260.5 L136.2 251.8 L136.7 244.3 L137.2 239.9 L137.7 239.5 L138.2 243.6 L138.7 251.0 L139.2 259.9 L139.7 268.2 L140.2 274.4 L140.7 277.8 L141.2 279.0 L141.7 279.0 L142.2 278.5 L142.7 276.0 L143.2 270.8 L143.7 263.1 L144.2 254.0 L144.7 245.7 L145.2 240.1 L145.7 238.7 L146.2 241.7 L146.7 248.3 L147.2 256.8 L147.7 265.4 L148.2 272.4 L148.7 276.8 L149.2 278.7 L149.7 279.0 L150.2 278.9 L150.7 277.6 L151.2 274.0 L151.7 267.7 L152.2 259.4 L152.7 250.5 L153.2 243.0 L153.7 238.7 L154.2 238.7 L154.7 243.1 L155.2 250.9 L155.7 260.0 L156.2 268.5 L156.7 274.6 L157.2 277.9 L157.7 279.0 L158.2 279.0 L158.7 278.4 L159.2 275.7 L159.7 270.1 L160.2 262.0 L160.7 252.6 L161.2 244.2 L161.7 238.7 L162.2 237.5 L162.7 240.9 L163.2 247.9 L163.7 256.7 L164.2 265.5 L164.7 272.5 L165.2 276.9 L165.7 278.7 L166.2 279.0 L166.7 278.9 L167.2 277.5 L167.7 273.7 L168.2 267.4 L168.7 259.1 L169.2 250.3 L169.7 243.1 L170.2 239.1 L170.7 239.3 L171.2 244.0 L171.7 251.8 L172.2 260.8 L172.7 269.1 L173.2 275.0 L173.7 278.1 L174.2 279.0 L174.7 279.0 L175.2 278.3 L175.7 275.5 L176.2 269.8 L176.7 261.7 L177.2 252.5 L177.7 244.3 L178.2 239.2 L178.7 238.4 L179.2 242.0 L179.7 249.0 L180.2 257.7 L180.7 266.3 L181.2 273.0 L181.7 277.1 L182.2 278.8 L182.7 279.0 L183.2 278.8 L183.7 277.2 L184.2 273.2 L184.7 266.5 L185.2 257.8 L185.7 248.9 L186.2 241.6 L186.7 237.7 L187.2 238.3 L187.7 243.3 L188.2 251.5 L188.7 260.9 L189.2 269.3 L189.7 275.2 L190.2 278.2 L190.7 279.0 L191.2 279.0 L191.7 278.2 L192.2 275.1 L192.7 269.2 L193.2 260.8 L193.7 251.4 L194.2 243.2 L194.7 238.2 L195.2 237.7 L195.7 241.7 L196.2 249.0 L196.7 257.9 L197.2 266.6 L197.7 273.3 L198.2 277.3 L198.7 278.8 L199.2 279.0 L199.7 278.8 L200.2 277.1 L200.7 273.0 L201.2 266.3 L201.7 257.9 L202.2 249.2 L202.7 242.3 L203.2 238.9 L203.7 239.7 L204.2 244.9 L204.7 253.0 L205.2 262.0 L205.7 270.0 L206.2 275.6 L206.7 278.3 L207.2 279.0 L207.7 279.0 L208.2 278.1 L208.7 274.9 L209.2 268.9 L209.7 260.5 L210.2 251.3 L210.7 243.4 L211.2 238.8 L211.7 238.6 L212.2 242.7 L212.7 250.1 L213.2 258.9 L213.7 267.3 L214.2 273.7 L214.7 277.5 L215.2 278.9 L215.7 279.0 L216.2 278.7 L216.7 276.9 L217.2 272.7 L217.7 265.8 L218.2 257.3 L218.7 248.7 L219.2 242.0 L219.7 238.8 L220.2 239.9 L220.7 245.3 L221.2 253.6 L221.7 262.6 L222.2 270.5 L222.7 275.8 L223.2 278.4 L223.7 279.0 L224.2 279.0 L224.7 277.9 L225.2 274.5 L225.7 268.2 L226.2 259.5 L226.7 250.2 L227.2 242.3 L227.7 237.9 L228.2 238.0 L228.7 242.5 L229.2 250.1 L229.7 259.2 L230.2 267.6 L230.7 274.0 L231.2 277.6 L231.7 278.9 L232.2 279.0 L232.7 278.7 L233.2 276.7 L233.7 272.1 L234.2 264.9 L234.7 256.0 L235.2 247.2 L235.7 240.5 L236.2 237.4 L236.7 238.9 L237.2 244.8 L237.7 253.4 L238.2 262.7 L238.7 270.7 L239.2 276.0 L239.7 278.5 L240.2 279.0 L240.7 278.9 L241.2 277.8 L241.7 274.2 L242.2 267.9 L242.7 259.3 L243.2 250.2 L243.7 242.6 L244.2 238.5 L244.7 238.9 L245.2 243.6 L245.7 251.2 L246.2 260.1 L246.7 268.3 L247.2 274.4 L247.7 277.8 L248.2 278.9 L248.7 279.0 L249.2 278.6 L249.7 276.4 L250.2 271.7 L250.7 264.3 L251.2 255.4 L251.7 246.7 L252.2 240.2 L252.7 237.4 L253.2 239.2 L253.7 245.3 L254.2 254.0 L254.7 263.3 L255.2 271.1 L255.7 276.2 L256.2 278.6 L256.7 279.0 L257.2 278.9 L257.7 277.6 L258.2 274.0 L258.7 267.5 L259.2 258.9 L259.7 249.9 L260.2 242.6 L260.7 238.9 L261.2 239.6 L261.7 244.4 L262.2 252.1 L262.7 260.9 L263.2 268.9 L263.7 274.8 L264.2 277.9 L264.7 279.0 L265.2 279.0 L265.7 278.5 L266.2 276.3 L266.7 271.4 L267.2 264.0 L267.7 255.2 L268.2 246.7 L268.7 240.6 L269.2 238.1 L269.7 240.2 L270.2 246.4 L270.7 255.1 L271.2 264.2 L271.7 271.7 L272.2 276.5 L272.7 278.6 L273.2 279.0 L273.7 278.9 L274.2 277.4 L274.7 273.4 L275.2 266.6 L275.7 257.7 L276.2 248.4 L276.7 241.1 L277.2 237.5 L277.7 238.6 L278.2 244.0 L278.7 252.2 L279.2 261.4 L279.7 269.6 L280.2 275.3 L280.7 278.2 L281.2 279.0 L281.7 279.0 L282.2 278.2 L282.7 275.4 L283.2 269.8 L283.7 261.9 L284.2 252.8 L284.7 244.7 L285.2 239.4 L285.7 238.3 L286.2 241.5 L286.7 248.3 L287.2 257.0 L287.7 265.7 L288.2 272.6 L288.7 276.9 L289.2 278.7 L289.7 279.0 L290.2 278.9 L290.7 277.4 L291.2 273.6 L291.7 267.1 L292.2 258.6 L292.7 249.5 L293.2 242.0 L293.7 237.9 L294.2 238.0 L294.7 242.5 L295.2 250.1 L295.7 259.2 L296.2 267.6 L296.7 274.0 L297.2 277.6 L297.7 278.9 L298.2 279.0 L298.7 278.7 L299.2 276.7 L299.7 272.2 L300.2 265.1 L300.7 256.4 L301.2 247.8 L301.7 241.2 L302.2 238.2 L302.7 239.7 L303.2 245.4 L303.7 253.9 L304.2 263.0 L304.7 270.8 L305.2 276.0 L305.7 278.5 L306.2 279.0 L306.7 278.9 L307.2 277.8 L307.7 274.2 L308.2 267.6 L308.7 258.9 L309.2 249.6 L309.7 241.9 L310.2 237.8 L310.7 238.2 L311.2 242.9 L311.7 250.7 L312.2 259.8 L312.7 268.1 L313.2 274.3 L313.7 277.8 L314.2 278.9 L314.7 279.0 L315.2 278.6 L315.7 276.6 L316.2 272.2 L316.7 265.4 L317.2 257.1 L317.7 249.0 L318.2 243.0 L318.7 240.4 L319.2 241.8 L319.7 246.5 L320.2 253.5 L320.7 261.1 L321.2 267.9 L321.7 272.8 L322.2 275.5 L322.7 276.4 L323.2 276.5 L323.7 276.1 L324.2 274.5 L324.7 271.1 L325.2 266.0 L325.7 260.2 L326.2 254.7 L326.7 251.1 L327.2 250.1 L327.7 251.4 L328.2 254.6 L328.7 258.8 L329.2 263.3 L329.7 267.3 L330.2 270.2 L330.7 271.7 L331.2 272.2 L331.7 272.2 L332.2 271.6 L332.7 270.0 L333.2 267.5 L333.7 264.4 L334.2 261.2 L334.7 258.6 L335.2 257.1 L335.7 257.0 L336.2 258.0 L336.7 259.9 L337.2 262.4 L337.7 265.0 L338.2 267.3 L338.7 269.0 L339.2 269.9 L339.7 270.2 L340.2 270.0 L340.7 269.4 L341.2 268.1 L341.7 266.3 L342.2 264.3 L342.7 262.3 L343.2 260.9 L343.7 260.2 L344.2 260.3 L344.7 261.1 L345.2 262.5 L345.7 264.1 L346.2 265.7 L346.7 267.2 L347.2 268.2 L347.7 268.8 L348.2 269.1 L348.7 268.9 L349.2 268.3 L349.7 267.3 L350.2 266.0 L350.7 264.7 L351.2 263.6 L351.7 262.8 L352.2 262.5 L352.7 262.7 L353.2 263.3 L353.7 264.2 L354.2 265.3 L354.7 266.4 L355.2 267.3 L355.7 268.0 L356.2 268.3 M494.2 262.4 L494.7 262.4 L495.2 262.6 L495.7 262.9 L496.2 263.4 L496.7 264.0 L497.2 264.7 L497.7 265.3 L498.2 266.0 L498.7 266.5 L499.2 267.0 L499.7 267.4 L500.2 267.6 L500.7 267.7 M503.7 266.9 L504.2 267.7 L504.7 268.5 L505.2 269.7 L505.7 271.0 L506.2 272.1 L506.7 272.8 L507.2 273.0 L507.7 272.9 L508.2 272.6 L508.7 272.1 L509.2 271.5 L509.7 270.8 L510.2 270.0 L510.7 269.2 L511.2 268.5 L511.7 268.0 L512.2 267.6 L512.7 267.5 M514.2 268.3 L514.7 267.6 L515.2 267.4 L515.7 266.6 L516.2 265.1 L516.7 263.0 L517.2 260.4 L517.7 257.5 L518.2 254.8 L518.7 252.4 L519.2 250.8 L519.7 250.1 L520.2 250.4 L520.7 251.8 L521.2 254.0 L521.7 256.5 L522.2 258.8 L522.7 260.4 L523.2 261.2 L523.7 261.3 L524.2 261.0 L524.7 259.9 L525.2 257.9 L525.7 255.1 L526.2 251.9 L526.7 248.8 L527.2 246.4 L527.7 245.1 L528.2 245.4 L528.7 247.9 L529.2 252.1 L529.7 257.0 L530.2 261.6 L530.7 265.1 L531.2 267.0 L531.7 267.6 L532.2 267.6 L532.7 267.1 L533.2 265.6 L533.7 262.9 L534.2 259.3 L534.7 255.2 L535.2 251.4 L535.7 248.7 L536.2 247.5 L536.7 248.3 L537.2 251.2 L537.7 255.4 L538.2 260.2 L538.7 264.6 L539.2 267.9 L539.7 269.9 L540.2 270.6 L540.7 270.7 L541.2 270.2 L541.7 268.1 L542.2 263.6 L542.7 257.0 L543.2 249.6 L543.7 243.4 L544.2 240.1 L544.7 240.8 L545.2 245.4 L545.7 252.7 L546.2 260.9 L546.7 268.2 L547.2 273.3 L547.7 275.8 L548.2 276.5 L548.7 276.5 L549.2 275.6 L549.7 272.6 L550.2 266.8 L550.7 258.3 L551.2 248.5 L551.7 239.2 L552.2 232.4 L552.7 229.8 L553.2 232.3 L553.7 239.8 L554.2 250.4 L554.7 261.5 L555.2 270.7 L555.7 276.7 L556.2 279.3 L556.7 279.8 L557.2 279.7 L557.7 278.2 L558.2 274.1 L558.7 266.8 L559.2 256.6 L559.7 245.1 L560.2 234.3 L560.7 226.3 L561.2 223.0 L561.7 225.4 L562.2 233.8 L562.7 245.9 L563.2 258.8 L563.7 269.7 L564.2 276.9 L564.7 280.1 L565.2 280.8 L565.7 280.7 L566.2 278.8 L566.7 273.5 L567.2 264.2 L567.7 251.8 L568.2 238.7 L568.7 228.1 L569.2 222.6 L569.7 223.5 L570.2 230.4 L570.7 241.6 L571.2 254.4 L571.7 266.0 L572.2 274.5 L572.7 279.2 L573.2 280.7 L573.7 280.8 L574.2 280.1 L574.7 276.8 L575.2 269.8 L575.7 259.2 L576.2 246.4 L576.7 234.1 L577.2 225.0 L577.7 221.4 L578.2 224.4 L578.7 233.3 L579.2 245.9 L579.7 259.0 L580.2 270.0 L580.7 277.1 L581.2 280.2 L581.7 280.8 L582.2 280.6 L582.7 278.6 L583.2 272.9 L583.7 263.1 L584.2 250.3 L584.7 237.0 L585.2 226.4 L585.7 221.2 L586.2 222.6 L586.7 230.0 L587.2 241.6 L587.7 254.6 L588.2 266.4 L588.7 274.8 L589.2 279.3 L589.7 280.7 L590.2 280.8 L590.7 280.0 L591.2 276.5 L591.7 269.1 L592.2 258.2 L592.7 245.2 L593.2 232.9 L593.7 224.1 L594.2 220.9 L594.7 224.3 L595.2 233.6 L595.7 246.5 L596.2 259.7 L596.7 270.5 L597.2 277.4 L597.7 280.3 L598.2 280.8 L598.7 280.6 L599.2 278.4 L599.7 272.5 L600.2 262.7 L600.7 250.0 L601.2 237.1 L601.7 227.0 L602.2 222.3 L602.7 224.1 L603.2 231.7 L603.7 243.3 L604.2 256.0 L604.7 267.3 L605.2 275.3 L605.7 279.5 L606.2 280.7 L606.7 280.8 L607.2 279.9 L607.7 276.3 L608.2 268.9 L608.7 258.1 L609.2 245.6 L609.7 233.9 L610.2 225.6 L610.7 222.9 L611.2 226.7 L611.7 236.0 L612.2 248.5 L612.7 261.2 L613.2 271.4 L613.7 277.8 L614.2 280.4 L614.7 280.8 L615.2 280.5 L615.7 278.1 L616.2 272.1 L616.7 262.1 L617.2 249.5 L617.7 236.9 L618.2 227.2 L618.7 223.0 L619.2 225.2 L619.7 233.0 L620.2 244.6 L620.7 257.2 L621.2 268.2 L621.7 275.8 L622.2 279.7 L622.7 280.8 L623.2 280.8 L623.7 279.7 L624.2 275.9 L624.7 268.4 L625.2 257.5 L625.7 245.1 L626.2 233.6 L626.7 225.8 L627.2 223.5 L627.7 227.6 L628.2 237.1 L628.7 249.6 L629.2 262.1 L629.7 272.1 L630.2 278.1 L630.7 280.5 L631.2 280.8 L631.7 280.4 L632.2 277.9 L632.7 271.6 L633.2 261.5 L633.7 248.9 L634.2 236.5 L634.7 227.2 L635.2 223.5 L635.7 226.0 L636.2 234.1 L636.7 245.7 L637.2 258.2 L637.7 268.9 L638.2 276.2 L638.7 279.8 L639.2 280.8 L639.7 280.8 L640.2 279.6 L640.7 275.6 L641.2 267.9 L641.7 256.9 L642.2 244.6 L642.7 233.3 L643.2 225.9 L643.7 224.1 L644.2 228.6 L644.7 238.3 L645.2 250.8 L645.7 263.1 L646.2 272.7 L646.7 278.4 L647.2 280.6 L647.7 280.8 L648.2 280.4 L648.7 277.7 L649.2 271.3 L649.7 261.2 L650.2 248.8 L650.7 236.8 L651.2 228.0 L651.7 224.7 L652.2 227.6 L652.7 235.8 L653.2 247.3 L653.7 259.4 L654.2 269.7 L654.7 276.7 L655.2 280.0 L655.7 280.8 L656.2 280.7 L656.7 279.5 L657.2 275.3 L657.7 267.4 L658.2 256.5 L658.7 244.2 L659.2 233.3 L659.7 226.3 L660.2 224.9 L660.7 229.8 L661.2 239.6 L661.7 252.0 L662.2 264.0 L662.7 273.3 L663.2 278.7 L663.7 280.6 L664.2 280.8 L664.7 280.3 L665.2 277.4 L665.7 271.0 L666.2 260.9 L666.7 248.7 L667.2 237.1 L667.7 228.8 L668.2 226.0 L668.7 229.2 L669.2 237.5 L669.7 248.9 L670.2 260.7 L670.7 270.6 L671.2 277.1 L671.7 280.1 L672.2 280.8 L672.7 280.7 L673.2 279.3 L673.7 275.1 L674.2 267.2 L674.7 256.5 L675.2 244.6 L675.7 234.3 L676.2 227.8 L676.7 226.8 L677.2 231.9 L677.7 241.7 L678.2 253.8 L678.7 265.3 L679.2 274.0 L679.7 278.9 L680.2 280.7 L680.7 280.8 L681.2 280.2 L681.7 277.1 L682.2 270.4 L682.7 260.1 L683.2 247.9 L683.7 236.4 L684.2 228.4 L684.7 226.0 L685.2 229.6 L685.7 238.2 L686.2 249.7 L686.7 261.4 L687.2 271.1 L687.7 277.4 L688.2 280.2 L688.7 280.8 L689.2 280.7 L689.7 279.1 L690.2 274.4 L690.7 266.1 L691.2 254.9 L691.7 242.7 L692.2 232.1 L692.7 225.8 L693.2 225.2 L693.7 230.8 L694.2 241.2 L694.7 253.7 L695.2 265.5 L695.7 274.2 L696.2 279.1 L696.7 280.7 L697.2 280.8 L697.7 280.0 L698.2 276.6 L698.7 269.3 L699.2 258.3 L699.7 245.5 L700.2 233.6 L700.7 225.6 L701.2 223.5 L701.7 227.7 L702.2 237.0 L702.7 249.1 L703.2 261.3 L703.7 271.2 L704.2 277.5 L704.7 280.3 L705.2 280.8 L705.7 280.6 L706.2 278.8 L706.7 273.8 L707.2 265.1 L707.7 253.4 L708.2 241.0 L708.7 230.5 L709.2 224.3 L709.7 224.2 L710.2 230.3 L710.7 241.1 L711.2 254.0 L711.7 265.8 L712.2 274.5 L712.7 279.2 L713.2 280.7 L713.7 280.8 L714.2 279.9 L714.7 276.3 L715.2 268.7 L715.7 257.5 L716.2 244.6 L716.7 232.9 L717.2 225.3 L717.7 223.6 L718.2 228.2 L718.7 237.7 L719.2 249.9 L719.7 262.0 L720.2 271.8 L720.7 277.8 L721.2 280.4 L721.7 280.8 L722.2 280.6 L722.7 278.6 L723.2 273.4 L723.7 264.5 L724.2 252.9 L724.7 240.6 L725.2 230.3 L725.7 224.6 L726.2 224.9 L726.7 231.3 L727.2 242.3 L727.7 255.0 L728.2 266.7 L728.7 275.0 L729.2 279.4 L729.7 280.7 L730.2 280.8 L730.7 279.8 L731.2 276.0 L731.7 268.3 L732.2 257.2 L732.7 244.6 L733.2 233.3 L733.7 226.2 L734.2 225.0 L734.7 229.9 L735.2 239.4 L735.7 251.4 L736.2 263.2 L736.7 272.5 L737.2 278.1 L737.7 280.5 L738.2 280.8 L738.7 280.5 L739.2 278.5 L739.7 273.2 L740.2 264.4 L740.7 253.1 L741.2 241.2 L741.7 231.6 L742.2 226.4 L742.7 226.6 L743.2 230.5 L743.7 237.3 L744.2 246.0 L744.7 255.3 L745.2 264.1 L745.7 271.2 L746.2 276.2 L746.7 279.0" fill="none" stroke="#1a1af0" stroke-opacity="0.42" stroke-width="2.8" stroke-linejoin="round"/>
<path d="M356.2 268.3 L356.7 268.5 L357.2 268.2 L357.7 267.6 L358.2 266.8 L358.7 265.9 L359.2 265.0 L359.7 264.2 L360.2 263.7 L360.7 263.6 L361.2 263.8 L361.7 264.4 L362.2 265.1 L362.7 266.0 L363.2 266.7 L363.7 267.3 L364.2 267.7 L364.7 268.0 L365.2 268.0 L365.7 267.7 L366.2 267.2 L366.7 266.5 L367.2 265.6 L367.7 264.8 L368.2 264.4 L368.7 264.2 L369.2 264.2 L369.7 264.4 L370.2 264.8 L370.7 265.5 L371.2 266.2 L371.7 266.8 L372.2 267.4 L372.7 267.8 L373.2 267.8 L373.7 267.6 L374.2 267.3 L374.7 267.0 L375.2 266.5 L375.7 265.8 L376.2 265.1 L376.7 264.7 L377.2 264.3 L377.7 264.1 L378.2 264.4 L378.7 265.1 L379.2 265.8 L379.7 266.2 L380.2 266.6 L380.7 267.1 L381.2 267.3 L381.7 267.3 L382.2 267.2 L382.7 267.0 L383.2 266.6 L383.7 265.9 L384.2 265.3 L384.7 265.2 L385.2 265.1 L385.7 264.9 L386.2 264.7 L386.7 265.0 L387.2 265.3 L387.7 265.7 L388.2 266.3 L388.7 266.9 L389.2 267.3 L389.7 267.2 L390.2 266.8 L390.7 266.7 L391.2 266.7 L391.7 266.4 L392.2 266.0 L392.7 265.8 L393.2 265.5 L393.7 265.0 L394.2 264.9 L394.7 265.3 L395.2 265.8 L395.7 266.1 L396.2 266.1 L396.7 266.4 L397.2 266.7 L397.7 266.8 L398.2 266.8 L398.7 267.0 L399.2 267.0 L399.7 266.5 L400.2 265.9 L400.7 265.7 L401.2 265.8 L401.7 265.7 L402.2 265.5 L402.7 265.5 L403.2 265.6 L403.7 265.5 L404.2 265.6 L404.7 266.1 L405.2 266.7 L405.7 266.9 L406.2 266.6 L406.7 266.5 L407.2 266.6 L407.7 266.5 L408.2 266.3 L408.7 266.3 L409.2 266.2 L409.7 265.8 L410.2 265.3 L410.7 265.3 L411.2 265.8 L411.7 266.1 L412.2 266.1 L412.7 266.1 L413.2 266.2 L413.7 266.2 L414.2 266.2 L414.7 266.4 L415.2 266.8 L415.7 266.8 L416.2 266.2 L416.7 265.7 L417.2 265.8 L417.7 265.8 L418.2 265.7 L418.7 265.7 L419.2 265.9 L419.7 265.8 L420.2 265.5 L420.7 265.6 L421.2 266.2 L421.7 266.7 L422.2 266.6 L422.7 266.4 L423.2 266.4 L423.7 266.4 L424.2 266.1 L424.7 266.1 L425.2 266.3 L425.7 266.3 L426.2 265.7 L426.7 265.2 L427.2 265.4 L427.7 265.8 L428.2 265.9 L428.7 265.9 L429.2 266.2 L429.7 266.2 L430.2 266.0 L430.7 266.0 L431.2 266.5 L431.7 266.9 L432.2 266.7 L432.7 266.2 L433.2 266.0 L433.7 265.9 L434.2 265.7 L434.7 265.7 L435.2 265.9 L435.7 266.0 L436.2 265.6 L436.7 265.3 L437.2 265.5 L437.7 266.1 L438.2 266.3 L438.7 266.3 L439.2 266.3 L439.7 266.3 L440.2 266.0 L440.7 265.8 L441.2 266.1 L441.7 266.4 L442.2 266.1 L442.7 265.6 L443.2 265.3 L443.7 265.5 L444.2 265.6 L444.7 265.6 L445.2 265.8 L445.7 266.1 L446.2 265.8 L446.7 265.3 L447.2 265.4 L447.7 265.8 L448.2 265.9 L448.7 265.5 L449.2 265.1 L449.7 265.0 L450.2 264.8 L450.7 264.6 L451.2 264.8 L451.7 265.3 L452.2 265.4 L452.7 265.0 L453.2 265.0 L453.7 265.4 L454.2 265.7 L454.7 265.8 L455.2 265.8 L455.7 265.9 L456.2 265.6 L456.7 265.1 L457.2 265.0 L457.7 265.3 L458.2 265.4 L458.7 265.1 L459.2 264.7 L459.7 264.7 L460.2 264.9 L460.7 264.9 L461.2 265.2 L461.7 265.7 L462.2 265.9 L462.7 265.5 L463.2 265.3 L463.7 265.5 L464.2 265.9 L464.7 265.8 L465.2 265.5 L465.7 265.4 L466.2 265.1 L466.7 264.7 L467.2 264.5 L467.7 265.0 L468.2 265.3 L468.7 265.2 L469.2 264.9 L469.7 265.0 L470.2 265.4 L470.7 265.5 L471.2 265.7 L471.7 266.0 L472.2 266.0 L472.7 265.6 L473.2 265.1 L473.7 265.2 L474.2 265.4 L474.7 265.3 L475.2 265.0 L475.7 264.9 L476.2 264.8 L476.7 264.7 L477.2 264.7 L477.7 265.2 L478.2 265.8 L478.7 265.7 L479.2 265.4 L479.7 265.4 L480.2 265.7 L480.7 265.8 L481.2 265.7 L481.7 265.7 L482.2 265.6 L482.7 265.1 L483.2 264.6 L483.7 264.6 L484.2 265.1 L484.7 265.2 L485.2 265.0 L485.7 264.9 L486.2 265.1 L486.7 265.2 L487.2 265.3 L487.7 265.7 L488.2 266.1 L488.7 265.7 L489.2 265.4 L489.7 265.1 L490.2 265.0 L490.7 264.8 L491.2 264.3 L491.7 263.9 L492.2 263.5 L492.7 263.0 L493.2 262.5 L493.7 262.3 L494.2 262.4 M500.7 267.7 L501.2 268.2 L501.7 267.9 L502.2 267.7 L502.7 267.4 L503.2 266.9 L503.7 266.9 M512.7 267.5 L513.2 267.2 L513.7 267.6 L514.2 268.3" fill="none" stroke="#1a1af0" stroke-opacity="0.22" stroke-width="2.4" stroke-linejoin="round"/>
<use href="#w2" fill="none" stroke="#0b0b6a" stroke-width="1.3" stroke-linejoin="round"/>
<rect x="103.4" y="214.5" width="644.3" height="77.9" fill="none" stroke="#555555" stroke-width="1.05"/>
<path d="M189.3 214.5 v6.5 M189.3 292.4 v-6.5 M275.2 214.5 v6.5 M275.2 292.4 v-6.5 M361.1 214.5 v6.5 M361.1 292.4 v-6.5 M447.0 214.5 v6.5 M447.0 292.4 v-6.5 M532.9 214.5 v6.5 M532.9 292.4 v-6.5 M618.8 214.5 v6.5 M618.8 292.4 v-6.5 M704.7 214.5 v6.5 M704.7 292.4 v-6.5 M103.4 253.4 h6.5 M747.7 253.4 h-6.5" stroke="#555555" stroke-width="1.05" fill="none"/>
<defs><path id="w3" d="M104.2 352.8 L104.7 344.7 L105.2 339.4 L105.7 338.3 L106.2 341.5 L106.7 348.3 L107.2 357.0 L107.7 365.7 L108.2 372.6 L108.7 376.9 L109.2 378.7 L109.7 379.0 L110.2 378.9 L110.7 377.4 L111.2 373.6 L111.7 367.1 L112.2 358.6 L112.7 349.5 L113.2 342.0 L113.7 337.9 L114.2 338.0 L114.7 342.5 L115.2 350.1 L115.7 359.2 L116.2 367.6 L116.7 374.0 L117.2 377.6 L117.7 378.9 L118.2 379.0 L118.7 378.7 L119.2 376.7 L119.7 372.1 L120.2 364.9 L120.7 356.0 L121.2 347.2 L121.7 340.5 L122.2 337.4 L122.7 338.9 L123.2 344.8 L123.7 353.4 L124.2 362.7 L124.7 370.7 L125.2 376.0 L125.7 378.5 L126.2 379.0 L126.7 378.9 L127.2 377.8 L127.7 374.2 L128.2 367.6 L128.7 358.9 L129.2 349.6 L129.7 341.9 L130.2 337.8 L130.7 338.2 L131.2 342.9 L131.7 350.7 L132.2 359.8 L132.7 368.1 L133.2 374.3 L133.7 377.8 L134.2 378.9 L134.7 379.0 L135.2 378.6 L135.7 376.4 L136.2 371.7 L136.7 364.3 L137.2 355.4 L137.7 346.7 L138.2 340.2 L138.7 337.4 L139.2 339.2 L139.7 345.3 L140.2 354.0 L140.7 363.3 L141.2 371.1 L141.7 376.2 L142.2 378.6 L142.7 379.0 L143.2 378.9 L143.7 377.6 L144.2 373.8 L144.7 367.1 L145.2 358.3 L145.7 349.0 L146.2 341.5 L146.7 337.6 L147.2 338.4 L147.7 343.3 L148.2 351.3 L148.7 360.4 L149.2 368.6 L149.7 374.6 L150.2 377.9 L150.7 379.0 L151.2 379.0 L151.7 378.5 L152.2 376.3 L152.7 371.5 L153.2 364.2 L153.7 355.5 L154.2 347.1 L154.7 341.0 L155.2 338.6 L155.7 340.7 L156.2 346.8 L156.7 355.4 L157.2 364.3 L157.7 371.8 L158.2 376.6 L158.7 378.6 L159.2 379.0 L159.7 378.9 L160.2 377.5 L160.7 373.6 L161.2 366.8 L161.7 358.0 L162.2 349.0 L162.7 341.8 L163.2 338.3 L163.7 339.3 L164.2 344.4 L164.7 352.4 L165.2 361.3 L165.7 369.3 L166.2 375.0 L166.7 378.0 L167.2 379.0 L167.7 379.0 L168.2 378.4 L168.7 376.0 L169.2 370.8 L169.7 363.2 L170.2 354.2 L170.7 345.6 L171.2 339.5 L171.7 337.4 L172.2 339.8 L172.7 346.3 L173.2 355.3 L173.7 364.5 L174.2 372.0 L174.7 376.7 L175.2 378.7 L175.7 379.0 L176.2 378.8 L176.7 377.3 L177.2 373.1 L177.7 366.0 L178.2 357.0 L178.7 347.9 L179.2 340.7 L179.7 337.5 L180.2 338.8 L180.7 344.3 L181.2 352.5 L181.7 361.5 L182.2 369.6 L182.7 375.2 L183.2 378.1 L183.7 379.0 L184.2 379.0 L184.7 378.3 L185.2 375.7 L185.7 370.4 L186.2 362.6 L186.7 353.6 L187.2 345.1 L187.7 339.3 L188.2 337.4 L188.7 340.1 L189.2 346.9 L189.7 355.9 L190.2 365.0 L190.7 372.4 L191.2 376.9 L191.7 378.8 L192.2 379.0 L192.7 378.8 L193.2 377.1 L193.7 372.7 L194.2 365.5 L194.7 356.4 L195.2 347.3 L195.7 340.4 L196.2 337.4 L196.7 339.1 L197.2 344.7 L197.7 353.1 L198.2 362.1 L198.7 370.0 L199.2 375.5 L199.7 378.3 L200.2 379.0 L200.7 379.0 L201.2 378.2 L201.7 375.4 L202.2 369.9 L202.7 362.0 L203.2 353.0 L203.7 344.6 L204.2 339.0 L204.7 337.4 L205.2 340.5 L205.7 347.4 L206.2 356.5 L206.7 365.6 L207.2 372.8 L207.7 377.1 L208.2 378.8 L208.7 379.0 L209.2 378.7 L209.7 376.9 L210.2 372.3 L210.7 364.9 L211.2 355.8 L211.7 346.8 L212.2 340.1 L212.7 337.4 L213.2 339.3 L213.7 345.2 L214.2 353.7 L214.7 362.7 L215.2 370.5 L215.7 375.8 L216.2 378.4 L216.7 379.0 L217.2 379.0 L217.7 378.1 L218.2 375.2 L218.7 369.5 L219.2 361.4 L219.7 352.4 L220.2 344.2 L220.7 338.8 L221.2 337.5 L221.7 340.8 L222.2 348.0 L222.7 357.2 L223.2 366.1 L223.7 373.2 L224.2 377.3 L224.7 378.9 L225.2 379.0 L225.7 378.7 L226.2 376.7 L226.7 372.0 L227.2 364.6 L227.7 355.6 L228.2 346.8 L228.7 340.5 L229.2 338.1 L229.7 340.3 L230.2 346.3 L230.7 354.7 L231.2 363.6 L231.7 371.1 L232.2 376.1 L232.7 378.5 L233.2 379.0 L233.7 379.0 L234.2 378.0 L234.7 374.9 L235.2 369.0 L235.7 360.8 L236.2 351.8 L236.7 343.7 L237.2 338.5 L237.7 337.6 L238.2 341.2 L238.7 348.6 L239.2 357.8 L239.7 366.7 L240.2 373.5 L240.7 377.5 L241.2 378.9 L241.7 379.0 L242.2 378.6 L242.7 376.4 L243.2 371.2 L243.7 363.3 L244.2 353.8 L244.7 344.7 L245.2 338.2 L245.7 336.1 L246.2 338.7 L246.7 345.3 L247.2 354.2 L247.7 363.4 L248.2 371.1 L248.7 376.2 L249.2 378.5 L249.7 379.0 L250.2 379.0 L250.7 377.8 L251.2 374.4 L251.7 368.2 L252.2 359.7 L252.7 350.3 L253.2 342.2 L253.7 337.1 L254.2 336.4 L254.7 340.4 L255.2 348.2 L255.7 357.8 L256.2 366.9 L256.7 373.7 L257.2 377.6 L257.7 378.9 L258.2 379.0 L258.7 378.5 L259.2 376.1 L259.7 370.9 L260.2 362.9 L260.7 353.4 L261.2 344.6 L261.7 338.4 L262.2 336.6 L262.7 339.5 L263.2 346.2 L263.7 355.1 L264.2 364.1 L264.7 371.6 L265.2 376.4 L265.7 378.6 L266.2 379.0 L266.7 378.9 L267.2 377.8 L267.7 374.4 L268.2 368.4 L268.7 360.2 L269.2 351.4 L269.7 343.9 L270.2 339.4 L270.7 339.0 L271.2 342.9 L271.7 350.0 L272.2 358.7 L272.7 367.1 L273.2 373.5 L273.7 377.4 L274.2 378.8 L274.7 379.0 L275.2 378.8 L275.7 377.4 L276.2 374.1 L276.7 368.6 L277.2 361.8 L277.7 354.8 L278.2 349.2 L278.7 346.4 L279.2 347.0 L279.7 350.5 L280.2 356.1 L280.7 362.3 L281.2 367.8 L281.7 371.6 L282.2 373.5 L282.7 374.0 L283.2 373.9 L283.7 373.4 L284.2 371.7 L284.7 368.7 L285.2 364.8 L285.7 360.4 L286.2 356.4 L286.7 353.6 L287.2 352.6 L287.7 353.4 L288.2 355.7 L288.7 359.1 L289.2 362.8 L289.7 366.2 L290.2 368.8 L290.7 370.2 L291.2 370.7 L291.7 370.6 L292.2 370.0 L292.7 368.5 L293.2 366.1 L293.7 363.2 L294.2 360.2 L294.7 357.9 L295.2 356.5 L295.7 356.5 L296.2 357.5 L296.7 359.3 L297.2 361.7 L297.7 364.1 L298.2 366.2 L298.7 367.8 L299.2 368.7 L299.7 368.9 L300.2 368.8 L300.7 368.1 L301.2 366.8 L301.7 365.1 L302.2 363.2 L302.7 361.4 L303.2 360.0 L303.7 359.4 L304.2 359.6 L304.7 360.4 L305.2 361.7 L305.7 363.3 L306.2 364.9 L306.7 366.3 L307.2 367.3 L307.7 367.8 L308.2 368.0 L308.7 367.8 L309.2 367.1 L309.7 366.0 L310.2 364.6 L310.7 363.2 L311.2 361.9 L311.7 361.1 L312.2 360.8 L312.7 361.1 L313.2 361.9 L313.7 363.0 L314.2 364.3 L314.7 365.6 L315.2 366.7 L315.7 367.4 L316.2 367.7 L316.7 367.8 L317.2 367.5 L317.7 366.8 L318.2 365.8 L318.7 364.6 L319.2 363.4 L319.7 362.4 L320.2 361.9 L320.7 361.7 L321.2 362.1 L321.7 362.8 L322.2 363.7 L322.7 364.8 L323.2 365.8 L323.7 366.6 L324.2 367.2 L324.7 367.4 L325.2 367.3 L325.7 367.0 L326.2 366.3 L326.7 365.4 L327.2 364.4 L327.7 363.5 L328.2 362.8 L328.7 362.4 L329.2 362.5 L329.7 362.8 L330.2 363.5 L330.7 364.3 L331.2 365.2 L331.7 366.0 L332.2 366.7 L332.7 367.1 L333.2 367.2 L333.7 367.1 L334.2 366.7 L334.7 366.1 L335.2 365.3 L335.7 364.5 L336.2 363.9 L336.7 363.4 L337.2 363.1 L337.7 363.1 L338.2 363.5 L338.7 364.2 L339.2 364.9 L339.7 365.6 L340.2 366.2 L340.7 366.7 L341.2 366.9 L341.7 366.9 L342.2 366.8 L342.7 366.6 L343.2 366.0 L343.7 365.2 L344.2 364.4 L344.7 364.0 L345.2 363.6 L345.7 363.5 L346.2 363.8 L346.7 364.2 L347.2 364.6 L347.7 365.0 L348.2 365.6 L348.7 366.3 L349.2 366.8 L349.7 366.8 L350.2 366.8 L350.7 366.6 L351.2 366.1 L351.7 365.5 L352.2 365.0 L352.7 364.7 L353.2 364.2 L353.7 363.8 L354.2 363.6 L354.7 363.8 L355.2 364.3 L355.7 364.7 L356.2 365.2 L356.7 365.8 L357.2 366.1 L357.7 366.2 L358.2 366.4 L358.7 366.6 L359.2 366.7 L359.7 366.2 L360.2 365.5 L360.7 365.0 L361.2 364.5 L361.7 364.1 L362.2 364.0 L362.7 364.2 L363.2 364.4 L363.7 364.4 L364.2 364.6 L364.7 365.1 L365.2 365.8 L365.7 366.1 L366.2 366.3 L366.7 366.4 L367.2 366.4 L367.7 366.0 L368.2 365.6 L368.7 365.4 L369.2 365.3 L369.7 364.7 L370.2 364.2 L370.7 364.0 L371.2 364.2 L371.7 364.4 L372.2 364.7 L372.7 365.3 L373.2 365.7 L373.7 365.7 L374.2 365.7 L374.7 365.9 L375.2 366.3 L375.7 366.3 L376.2 365.9 L376.7 365.5 L377.2 365.1 L377.7 364.6 L378.2 364.3 L378.7 364.4 L379.2 364.8 L379.7 364.8 L380.2 364.6 L380.7 364.8 L381.2 365.2 L381.7 365.6 L382.2 365.8 L382.7 366.0 L383.2 366.2 L383.7 365.9 L384.2 365.4 L384.7 365.2 L385.2 365.4 L385.7 365.3 L386.2 364.9 L386.7 364.6 L387.2 364.6 L387.7 364.6 L388.2 364.6 L388.7 365.0 L389.2 365.6 L389.7 365.8 L390.2 365.5 L390.7 365.5 L391.2 365.8 L391.7 366.1 L392.2 366.0 L392.7 365.8 L393.2 365.6 L393.7 365.2 L394.2 364.6 L394.7 364.5 L395.2 364.8 L395.7 365.0 L396.2 364.8 L396.7 364.7 L397.2 364.8 L397.7 365.1 L398.2 365.3 L398.7 365.5 L399.2 366.0 L399.7 366.0 L400.2 365.6 L400.7 365.2 L401.2 365.3 L401.7 365.4 L402.2 365.2 L402.7 364.9 L403.2 364.8 L403.7 364.6 L404.2 364.4 L404.7 364.4 L405.2 365.0 L405.7 365.5 L406.2 365.4 L406.7 365.2 L407.2 365.3 L407.7 365.6 L408.2 365.7 L408.7 365.7 L409.2 365.8 L409.7 365.7 L410.2 365.1 L410.7 364.6 L411.2 364.6 L411.7 364.9 L412.2 364.9 L412.7 364.7 L413.2 364.7 L413.7 364.9 L414.2 364.9 L414.7 365.1 L415.2 365.6 L415.7 366.0 L416.2 365.9 L416.7 365.5 L417.2 365.3 L417.7 365.5 L418.2 365.4 L418.7 365.2 L419.2 365.1 L419.7 365.0 L420.2 364.6 L420.7 364.2 L421.2 364.4 L421.7 365.0 L422.2 365.3 L422.7 365.2 L423.2 365.2 L423.7 365.4 L424.2 365.5 L424.7 365.5 L425.2 365.7 L425.7 366.0 L426.2 365.7 L426.7 365.1 L427.2 364.7 L427.7 364.8 L428.2 364.9 L428.7 364.8 L429.2 364.7 L429.7 364.8 L430.2 364.8 L430.7 364.7 L431.2 365.0 L431.7 365.6 L432.2 366.0 L432.7 365.8 L433.2 365.5 L433.7 365.5 L434.2 365.5 L434.7 365.3 L435.2 365.2 L435.7 365.3 L436.2 365.1 L436.7 364.5 L437.2 364.2 L437.7 364.5 L438.2 365.0 L438.7 365.1 L439.2 365.1 L439.7 365.3 L440.2 365.4 L440.7 365.3 L441.2 365.4 L441.7 365.9 L442.2 366.1 L442.7 365.7 L443.2 365.1 L443.7 364.9 L444.2 364.9 L444.7 364.8 L445.2 364.7 L445.7 364.8 L446.2 365.2 L446.7 365.3 L447.2 365.0 L447.7 365.3 L448.2 365.7 L448.7 365.8 L449.2 365.7 L449.7 365.7 L450.2 365.3 L450.7 364.5 L451.2 364.4 L451.7 364.8 L452.2 365.2 L452.7 365.1 L453.2 364.8 L453.7 364.9 L454.2 365.4 L454.7 365.6 L455.2 365.6 L455.7 365.6 L456.2 365.5 L456.7 365.1 L457.2 364.6 L457.7 364.7 L458.2 365.0 L458.7 365.0 L459.2 364.6 L459.7 364.4 L460.2 364.6 L460.7 364.7 L461.2 364.9 L461.7 365.2 L462.2 365.7 L462.7 365.6 L463.2 365.2 L463.7 365.1 L464.2 365.4 L464.7 365.6 L465.2 365.3 L465.7 365.1 L466.2 364.9 L466.7 364.6 L467.2 364.3 L467.7 364.4 L468.2 364.9 L468.7 365.2 L469.2 364.9 L469.7 364.7 L470.2 365.0 L470.7 365.3 L471.2 365.4 L471.7 365.5 L472.2 365.8 L472.7 365.6 L473.2 365.0 L473.7 364.7 L474.2 364.9 L474.7 365.1 L475.2 364.9 L475.7 364.6 L476.2 364.6 L476.7 364.6 L477.2 364.5 L477.7 364.7 L478.2 365.3 L478.7 365.7 L479.2 365.4 L479.7 365.1 L480.2 365.2 L480.7 365.5 L481.2 365.5 L481.7 365.3 L482.2 365.3 L482.7 365.1 L483.2 364.6 L483.7 364.2 L484.2 364.5 L484.7 365.0 L485.2 365.0 L485.7 364.7 L486.2 364.7 L486.7 364.9 L487.2 365.0 L487.7 365.1 L488.2 365.5 L488.7 365.9 L489.2 365.6 L489.7 365.1 L490.2 365.0 L490.7 364.6 L491.2 364.2 L491.7 363.6 L492.2 362.9 L492.7 362.1 L493.2 361.4 L493.7 360.8 L494.2 360.3 L494.7 360.0 L495.2 359.9 L495.7 360.2 L496.2 360.6 L496.7 361.2 L497.2 361.9 L497.7 362.8 L498.2 363.8 L498.7 364.7 L499.2 365.6 L499.7 366.3 L500.2 366.9 L500.7 367.3 L501.2 367.4 L501.7 368.1 L502.2 367.9 L502.7 367.6 L503.2 367.2 L503.7 366.7 L504.2 366.6 L504.7 367.0 L505.2 367.4 L505.7 368.3 L506.2 369.4 L506.7 370.5 L507.2 371.3 L507.7 371.7 L508.2 371.6 L508.7 371.4 L509.2 371.1 L509.7 370.5 L510.2 369.8 L510.7 368.9 L511.2 368.1 L511.7 367.3 L512.2 366.6 L512.7 366.1 L513.2 365.8 L513.7 365.3 L514.2 365.7 L514.7 366.5 L515.2 367.1 L515.7 367.1 L516.2 366.6 L516.7 366.2 L517.2 365.0 L517.7 362.8 L518.2 359.6 L518.7 355.9 L519.2 352.1 L519.7 349.1 L520.2 347.2 L520.7 346.8 L521.2 348.0 L521.7 350.5 L522.2 353.8 L522.7 357.3 L523.2 360.5 L523.7 362.7 L524.2 364.0 L524.7 364.3 L525.2 364.3 L525.7 363.6 L526.2 361.8 L526.7 358.5 L527.2 354.0 L527.7 349.1 L528.2 344.7 L528.7 341.7 L529.2 340.7 L529.7 342.6 L530.2 347.7 L530.7 354.5 L531.2 361.4 L531.7 367.0 L532.2 370.5 L532.7 372.0 L533.2 372.2 L533.7 372.1 L534.2 371.1 L534.7 368.5 L535.2 364.0 L535.7 358.2 L536.2 351.9 L536.7 346.5 L537.2 343.1 L537.7 342.7 L538.2 345.8 L538.7 352.0 L539.2 359.7 L539.7 366.9 L540.2 372.4 L540.7 375.6 L541.2 376.7 L541.7 376.8 L542.2 376.4 L542.7 374.5 L543.2 370.2 L543.7 363.5 L544.2 355.2 L544.7 346.7 L545.2 340.0 L545.7 336.4 L546.2 337.0 L546.7 342.2 L547.2 350.7 L547.7 360.3 L548.2 369.0 L548.7 375.0 L549.2 378.2 L549.7 379.0 L550.2 379.0 L550.7 377.9 L551.2 374.0 L551.7 366.5 L552.2 355.8 L552.7 343.9 L553.2 333.4 L553.7 327.1 L554.2 326.4 L554.7 331.2 L555.2 340.2 L555.7 351.4 L556.2 362.4 L556.7 371.2 L557.2 376.8 L557.7 379.3 L558.2 379.8 L558.7 379.7 L559.2 378.1 L559.7 373.6 L560.2 365.5 L560.7 354.6 L561.2 342.8 L561.7 332.4 L562.2 326.0 L562.7 325.1 L563.2 330.2 L563.7 340.3 L564.2 352.7 L564.7 364.6 L565.2 373.5 L565.7 378.6 L566.2 380.4 L566.7 380.5 L567.2 379.9 L567.7 376.9 L568.2 370.1 L568.7 359.7 L569.2 347.5 L569.7 335.9 L570.2 327.9 L570.7 325.5 L571.2 329.1 L571.7 337.8 L572.2 349.3 L572.7 361.1 L573.2 370.8 L573.7 377.1 L574.2 380.0 L574.7 380.5 L575.2 380.4 L575.7 378.8 L576.2 374.1 L576.7 365.7 L577.2 354.4 L577.7 342.1 L578.2 331.4 L578.7 325.0 L579.2 324.5 L579.7 330.1 L580.2 340.6 L580.7 353.2 L581.2 365.1 L581.7 373.9 L582.2 378.8 L582.7 380.4 L583.2 380.5 L583.7 379.8 L584.2 376.3 L584.7 369.0 L585.2 358.0 L585.7 345.1 L586.2 333.2 L586.7 325.1 L587.2 323.0 L587.7 327.2 L588.2 336.5 L588.7 348.7 L589.2 360.9 L589.7 370.9 L590.2 377.3 L590.7 380.0 L591.2 380.6 L591.7 380.4 L592.2 378.6 L592.7 373.6 L593.2 364.8 L593.7 353.1 L594.2 340.6 L594.7 330.0 L595.2 323.8 L595.7 323.7 L596.2 329.8 L596.7 340.7 L597.2 353.6 L597.7 365.5 L598.2 374.3 L598.7 379.0 L599.2 380.5 L599.7 380.5 L600.2 379.7 L600.7 376.0 L601.2 368.4 L601.7 357.1 L602.2 344.2 L602.7 332.5 L603.2 324.8 L603.7 323.1 L604.2 327.7 L604.7 337.3 L605.2 349.5 L605.7 361.7 L606.2 371.5 L606.7 377.6 L607.2 380.1 L607.7 380.6 L608.2 380.3 L608.7 378.4 L609.2 373.2 L609.7 364.2 L610.2 352.5 L610.7 340.1 L611.2 329.9 L611.7 324.1 L612.2 324.4 L612.7 330.8 L613.2 341.9 L613.7 354.7 L614.2 366.3 L614.7 374.8 L615.2 379.2 L615.7 380.5 L616.2 380.5 L616.7 379.5 L617.2 375.5 L617.7 367.5 L618.2 356.0 L618.7 342.9 L619.2 331.2 L619.7 323.7 L620.2 322.5 L620.7 327.5 L621.2 337.5 L621.7 350.0 L622.2 362.2 L622.7 371.9 L623.2 377.8 L623.7 380.2 L624.2 380.6 L624.7 380.3 L625.2 378.1 L625.7 372.5 L626.2 363.1 L626.7 351.0 L627.2 338.4 L627.7 328.2 L628.2 322.7 L628.7 323.4 L629.2 330.4 L629.7 341.9 L630.2 355.0 L630.7 366.7 L631.2 375.0 L631.7 379.3 L632.2 380.5 L632.7 380.5 L633.2 379.4 L633.7 375.2 L634.2 367.0 L634.7 355.5 L635.2 342.5 L635.7 331.2 L636.2 324.2 L636.7 323.4 L637.2 328.7 L637.7 338.8 L638.2 351.2 L638.7 363.2 L639.2 372.5 L639.7 378.1 L640.2 380.3 L640.7 380.6 L641.2 380.2 L641.7 377.9 L642.2 372.1 L642.7 362.6 L643.2 350.5 L643.7 338.2 L644.2 328.3 L644.7 323.3 L645.2 324.4 L645.7 331.7 L646.2 343.2 L646.7 356.1 L647.2 367.6 L647.7 375.5 L648.2 379.5 L648.7 380.5 L649.2 380.5 L649.7 379.2 L650.2 374.9 L650.7 366.6 L651.2 355.1 L651.7 342.4 L652.2 331.4 L652.7 324.9 L653.2 324.6 L653.7 330.2 L654.2 340.3 L654.7 352.6 L655.2 364.2 L655.7 373.1 L656.2 378.4 L656.7 380.3 L657.2 380.6 L657.7 380.2 L658.2 377.7 L658.7 372.0 L659.2 362.7 L659.7 351.1 L660.2 339.3 L660.7 330.1 L661.2 325.7 L661.7 327.2 L662.2 334.5 L662.7 345.7 L663.2 358.0 L663.7 368.8 L664.2 376.1 L664.7 379.7 L665.2 380.5 L665.7 380.5 L666.2 379.1 L666.7 374.5 L667.2 366.1 L667.7 354.6 L668.2 342.1 L668.7 331.5 L669.2 325.4 L669.7 325.5 L670.2 331.4 L670.7 341.6 L671.2 353.7 L671.7 365.1 L672.2 373.7 L672.7 378.6 L673.2 380.4 L673.7 380.6 L674.2 380.1 L674.7 377.3 L675.2 371.0 L675.7 361.1 L676.2 348.9 L676.7 336.7 L677.2 327.3 L677.7 323.1 L678.2 325.0 L678.7 333.0 L679.2 344.9 L679.7 357.8 L680.2 368.9 L680.7 376.3 L681.2 379.8 L681.7 380.5 L682.2 380.4 L682.7 378.8 L683.2 373.7 L683.7 364.4 L684.2 351.9 L684.7 338.6 L685.2 327.5 L685.7 321.5 L686.2 322.0 L686.7 328.7 L687.2 339.8 L687.7 352.8 L688.2 364.8 L688.7 373.7 L689.2 378.7 L689.7 380.4 L690.2 380.5 L690.7 379.9 L691.2 376.9 L691.7 370.0 L692.2 359.4 L692.7 346.6 L693.2 334.0 L693.7 324.5 L694.2 320.5 L694.7 323.0 L695.2 331.7 L695.7 344.2 L696.2 357.7 L696.7 369.0 L697.2 376.5 L697.7 379.9 L698.2 380.5 L698.7 380.4 L699.2 378.6 L699.7 373.3 L700.2 364.0 L700.7 351.7 L701.2 338.7 L701.7 328.1 L702.2 322.6 L702.7 323.5 L703.2 330.4 L703.7 341.5 L704.2 354.2 L704.7 365.8 L705.2 374.3 L705.7 378.9 L706.2 380.4 L706.7 380.5 L707.2 379.9 L707.7 376.8 L708.2 370.1 L708.7 359.9 L709.2 347.8 L709.7 336.0 L710.2 327.4 L710.7 324.0 L711.2 326.8 L711.7 335.2 L712.2 347.2 L712.7 359.8 L713.2 370.3 L713.7 377.0 L714.2 380.0 L714.7 380.6 L715.2 380.4 L715.7 378.4 L716.2 373.1 L716.7 363.8 L717.2 351.7 L717.7 339.2 L718.2 329.1 L718.7 324.2 L719.2 325.5 L719.7 332.5 L720.2 343.5 L720.7 355.8 L721.2 366.9 L721.7 374.9 L722.2 379.2 L722.7 380.5 L723.2 380.5 L723.7 379.7 L724.2 376.4 L724.7 369.3 L725.2 358.8 L725.7 346.3 L726.2 334.5 L726.7 326.0 L727.2 322.9 L727.7 326.2 L728.2 335.2 L728.7 347.5 L729.2 360.2 L729.7 370.7 L730.2 377.3 L730.7 380.1 L731.2 380.6 L731.7 380.3 L732.2 378.2 L732.7 372.4 L733.2 362.7 L733.7 350.3 L734.2 337.6 L734.7 327.7 L735.2 323.1 L735.7 324.9 L736.2 332.3 L736.7 343.7 L737.2 356.2 L737.7 367.3 L738.2 375.2 L738.7 379.3 L739.2 380.5 L739.7 380.5 L740.2 379.6 L740.7 376.0 L741.2 368.7 L741.7 358.0 L742.2 345.5 L742.7 333.8 L743.2 325.6 L743.7 322.9 L744.2 326.5 L744.7 335.5 L745.2 347.7 L745.7 360.2 L746.2 370.5 L746.7 377.1"/></defs>
<path d="M104.2 352.8 L104.7 344.7 L105.2 339.4 L105.7 338.3 L106.2 341.5 L106.7 348.3 L107.2 357.0Z M112.7 349.5 L113.2 342.0 L113.7 337.9 L114.2 338.0 L114.7 342.5 L115.2 350.1Z M120.7 356.0 L121.2 347.2 L121.7 340.5 L122.2 337.4 L122.7 338.9 L123.2 344.8 L123.7 353.4Z M129.2 349.6 L129.7 341.9 L130.2 337.8 L130.7 338.2 L131.2 342.9 L131.7 350.7Z M137.2 355.4 L137.7 346.7 L138.2 340.2 L138.7 337.4 L139.2 339.2 L139.7 345.3 L140.2 354.0Z M145.7 349.0 L146.2 341.5 L146.7 337.6 L147.2 338.4 L147.7 343.3 L148.2 351.3Z M153.7 355.5 L154.2 347.1 L154.7 341.0 L155.2 338.6 L155.7 340.7 L156.2 346.8 L156.7 355.4Z M161.7 358.0 L162.2 349.0 L162.7 341.8 L163.2 338.3 L163.7 339.3 L164.2 344.4 L164.7 352.4Z M170.2 354.2 L170.7 345.6 L171.2 339.5 L171.7 337.4 L172.2 339.8 L172.7 346.3 L173.2 355.3Z M178.2 357.0 L178.7 347.9 L179.2 340.7 L179.7 337.5 L180.2 338.8 L180.7 344.3 L181.2 352.5Z M186.7 353.6 L187.2 345.1 L187.7 339.3 L188.2 337.4 L188.7 340.1 L189.2 346.9 L189.7 355.9Z M194.7 356.4 L195.2 347.3 L195.7 340.4 L196.2 337.4 L196.7 339.1 L197.2 344.7 L197.7 353.1Z M203.2 353.0 L203.7 344.6 L204.2 339.0 L204.7 337.4 L205.2 340.5 L205.7 347.4 L206.2 356.5Z M211.2 355.8 L211.7 346.8 L212.2 340.1 L212.7 337.4 L213.2 339.3 L213.7 345.2 L214.2 353.7Z M219.7 352.4 L220.2 344.2 L220.7 338.8 L221.2 337.5 L221.7 340.8 L222.2 348.0 L222.7 357.2Z M227.7 355.6 L228.2 346.8 L228.7 340.5 L229.2 338.1 L229.7 340.3 L230.2 346.3 L230.7 354.7Z M236.2 351.8 L236.7 343.7 L237.2 338.5 L237.7 337.6 L238.2 341.2 L238.7 348.6 L239.2 357.8Z M244.2 353.8 L244.7 344.7 L245.2 338.2 L245.7 336.1 L246.2 338.7 L246.7 345.3 L247.2 354.2Z M252.7 350.3 L253.2 342.2 L253.7 337.1 L254.2 336.4 L254.7 340.4 L255.2 348.2Z M260.7 353.4 L261.2 344.6 L261.7 338.4 L262.2 336.6 L262.7 339.5 L263.2 346.2 L263.7 355.1Z M269.2 351.4 L269.7 343.9 L270.2 339.4 L270.7 339.0 L271.2 342.9 L271.7 350.0 L272.2 358.7Z M277.7 354.8 L278.2 349.2 L278.7 346.4 L279.2 347.0 L279.7 350.5 L280.2 356.1Z M285.7 360.4 L286.2 356.4 L286.7 353.6 L287.2 352.6 L287.7 353.4 L288.2 355.7 L288.7 359.1Z M294.2 360.2 L294.7 357.9 L295.2 356.5 L295.7 356.5 L296.2 357.5 L296.7 359.3 L297.2 361.7Z M519.2 352.1 L519.7 349.1 L520.2 347.2 L520.7 346.8 L521.2 348.0 L521.7 350.5 L522.2 353.8Z M527.7 349.1 L528.2 344.7 L528.7 341.7 L529.2 340.7 L529.7 342.6 L530.2 347.7Z M536.2 351.9 L536.7 346.5 L537.2 343.1 L537.7 342.7 L538.2 345.8 L538.7 352.0Z M544.2 355.2 L544.7 346.7 L545.2 340.0 L545.7 336.4 L546.2 337.0 L546.7 342.2 L547.2 350.7Z M552.7 343.9 L553.2 333.4 L553.7 327.1 L554.2 326.4 L554.7 331.2 L555.2 340.2 L555.7 351.4Z M561.2 342.8 L561.7 332.4 L562.2 326.0 L562.7 325.1 L563.2 330.2 L563.7 340.3Z M569.2 347.5 L569.7 335.9 L570.2 327.9 L570.7 325.5 L571.2 329.1 L571.7 337.8 L572.2 349.3Z M577.7 342.1 L578.2 331.4 L578.7 325.0 L579.2 324.5 L579.7 330.1 L580.2 340.6Z M585.7 345.1 L586.2 333.2 L586.7 325.1 L587.2 323.0 L587.7 327.2 L588.2 336.5 L588.7 348.7Z M594.2 340.6 L594.7 330.0 L595.2 323.8 L595.7 323.7 L596.2 329.8 L596.7 340.7Z M602.2 344.2 L602.7 332.5 L603.2 324.8 L603.7 323.1 L604.2 327.7 L604.7 337.3 L605.2 349.5Z M610.7 340.1 L611.2 329.9 L611.7 324.1 L612.2 324.4 L612.7 330.8 L613.2 341.9Z M618.7 342.9 L619.2 331.2 L619.7 323.7 L620.2 322.5 L620.7 327.5 L621.2 337.5 L621.7 350.0Z M626.7 351.0 L627.2 338.4 L627.7 328.2 L628.2 322.7 L628.7 323.4 L629.2 330.4 L629.7 341.9Z M635.2 342.5 L635.7 331.2 L636.2 324.2 L636.7 323.4 L637.2 328.7 L637.7 338.8 L638.2 351.2Z M643.2 350.5 L643.7 338.2 L644.2 328.3 L644.7 323.3 L645.2 324.4 L645.7 331.7 L646.2 343.2Z M651.7 342.4 L652.2 331.4 L652.7 324.9 L653.2 324.6 L653.7 330.2 L654.2 340.3Z M659.7 351.1 L660.2 339.3 L660.7 330.1 L661.2 325.7 L661.7 327.2 L662.2 334.5 L662.7 345.7Z M668.2 342.1 L668.7 331.5 L669.2 325.4 L669.7 325.5 L670.2 331.4 L670.7 341.6Z M676.2 348.9 L676.7 336.7 L677.2 327.3 L677.7 323.1 L678.2 325.0 L678.7 333.0 L679.2 344.9Z M684.7 338.6 L685.2 327.5 L685.7 321.5 L686.2 322.0 L686.7 328.7 L687.2 339.8Z M692.7 346.6 L693.2 334.0 L693.7 324.5 L694.2 320.5 L694.7 323.0 L695.2 331.7 L695.7 344.2Z M701.2 338.7 L701.7 328.1 L702.2 322.6 L702.7 323.5 L703.2 330.4 L703.7 341.5Z M709.2 347.8 L709.7 336.0 L710.2 327.4 L710.7 324.0 L711.2 326.8 L711.7 335.2 L712.2 347.2Z M717.2 351.7 L717.7 339.2 L718.2 329.1 L718.7 324.2 L719.2 325.5 L719.7 332.5 L720.2 343.5Z M725.7 346.3 L726.2 334.5 L726.7 326.0 L727.2 322.9 L727.7 326.2 L728.2 335.2 L728.7 347.5Z M733.7 350.3 L734.2 337.6 L734.7 327.7 L735.2 323.1 L735.7 324.9 L736.2 332.3 L736.7 343.7Z M742.2 345.5 L742.7 333.8 L743.2 325.6 L743.7 322.9 L744.2 326.5 L744.7 335.5 L745.2 347.7Z" fill="#1818e8" fill-opacity="0.38" stroke="none"/>
<path d="M104.2 352.8 L104.7 344.7 L105.2 339.4 L105.7 338.3 L106.2 341.5 L106.7 348.3 L107.2 357.0 L107.7 365.7 L108.2 372.6 L108.7 376.9 L109.2 378.7 L109.7 379.0 L110.2 378.9 L110.7 377.4 L111.2 373.6 L111.7 367.1 L112.2 358.6 L112.7 349.5 L113.2 342.0 L113.7 337.9 L114.2 338.0 L114.7 342.5 L115.2 350.1 L115.7 359.2 L116.2 367.6 L116.7 374.0 L117.2 377.6 L117.7 378.9 L118.2 379.0 L118.7 378.7 L119.2 376.7 L119.7 372.1 L120.2 364.9 L120.7 356.0 L121.2 347.2 L121.7 340.5 L122.2 337.4 L122.7 338.9 L123.2 344.8 L123.7 353.4 L124.2 362.7 L124.7 370.7 L125.2 376.0 L125.7 378.5 L126.2 379.0 L126.7 378.9 L127.2 377.8 L127.7 374.2 L128.2 367.6 L128.7 358.9 L129.2 349.6 L129.7 341.9 L130.2 337.8 L130.7 338.2 L131.2 342.9 L131.7 350.7 L132.2 359.8 L132.7 368.1 L133.2 374.3 L133.7 377.8 L134.2 378.9 L134.7 379.0 L135.2 378.6 L135.7 376.4 L136.2 371.7 L136.7 364.3 L137.2 355.4 L137.7 346.7 L138.2 340.2 L138.7 337.4 L139.2 339.2 L139.7 345.3 L140.2 354.0 L140.7 363.3 L141.2 371.1 L141.7 376.2 L142.2 378.6 L142.7 379.0 L143.2 378.9 L143.7 377.6 L144.2 373.8 L144.7 367.1 L145.2 358.3 L145.7 349.0 L146.2 341.5 L146.7 337.6 L147.2 338.4 L147.7 343.3 L148.2 351.3 L148.7 360.4 L149.2 368.6 L149.7 374.6 L150.2 377.9 L150.7 379.0 L151.2 379.0 L151.7 378.5 L152.2 376.3 L152.7 371.5 L153.2 364.2 L153.7 355.5 L154.2 347.1 L154.7 341.0 L155.2 338.6 L155.7 340.7 L156.2 346.8 L156.7 355.4 L157.2 364.3 L157.7 371.8 L158.2 376.6 L158.7 378.6 L159.2 379.0 L159.7 378.9 L160.2 377.5 L160.7 373.6 L161.2 366.8 L161.7 358.0 L162.2 349.0 L162.7 341.8 L163.2 338.3 L163.7 339.3 L164.2 344.4 L164.7 352.4 L165.2 361.3 L165.7 369.3 L166.2 375.0 L166.7 378.0 L167.2 379.0 L167.7 379.0 L168.2 378.4 L168.7 376.0 L169.2 370.8 L169.7 363.2 L170.2 354.2 L170.7 345.6 L171.2 339.5 L171.7 337.4 L172.2 339.8 L172.7 346.3 L173.2 355.3 L173.7 364.5 L174.2 372.0 L174.7 376.7 L175.2 378.7 L175.7 379.0 L176.2 378.8 L176.7 377.3 L177.2 373.1 L177.7 366.0 L178.2 357.0 L178.7 347.9 L179.2 340.7 L179.7 337.5 L180.2 338.8 L180.7 344.3 L181.2 352.5 L181.7 361.5 L182.2 369.6 L182.7 375.2 L183.2 378.1 L183.7 379.0 L184.2 379.0 L184.7 378.3 L185.2 375.7 L185.7 370.4 L186.2 362.6 L186.7 353.6 L187.2 345.1 L187.7 339.3 L188.2 337.4 L188.7 340.1 L189.2 346.9 L189.7 355.9 L190.2 365.0 L190.7 372.4 L191.2 376.9 L191.7 378.8 L192.2 379.0 L192.7 378.8 L193.2 377.1 L193.7 372.7 L194.2 365.5 L194.7 356.4 L195.2 347.3 L195.7 340.4 L196.2 337.4 L196.7 339.1 L197.2 344.7 L197.7 353.1 L198.2 362.1 L198.7 370.0 L199.2 375.5 L199.7 378.3 L200.2 379.0 L200.7 379.0 L201.2 378.2 L201.7 375.4 L202.2 369.9 L202.7 362.0 L203.2 353.0 L203.7 344.6 L204.2 339.0 L204.7 337.4 L205.2 340.5 L205.7 347.4 L206.2 356.5 L206.7 365.6 L207.2 372.8 L207.7 377.1 L208.2 378.8 L208.7 379.0 L209.2 378.7 L209.7 376.9 L210.2 372.3 L210.7 364.9 L211.2 355.8 L211.7 346.8 L212.2 340.1 L212.7 337.4 L213.2 339.3 L213.7 345.2 L214.2 353.7 L214.7 362.7 L215.2 370.5 L215.7 375.8 L216.2 378.4 L216.7 379.0 L217.2 379.0 L217.7 378.1 L218.2 375.2 L218.7 369.5 L219.2 361.4 L219.7 352.4 L220.2 344.2 L220.7 338.8 L221.2 337.5 L221.7 340.8 L222.2 348.0 L222.7 357.2 L223.2 366.1 L223.7 373.2 L224.2 377.3 L224.7 378.9 L225.2 379.0 L225.7 378.7 L226.2 376.7 L226.7 372.0 L227.2 364.6 L227.7 355.6 L228.2 346.8 L228.7 340.5 L229.2 338.1 L229.7 340.3 L230.2 346.3 L230.7 354.7 L231.2 363.6 L231.7 371.1 L232.2 376.1 L232.7 378.5 L233.2 379.0 L233.7 379.0 L234.2 378.0 L234.7 374.9 L235.2 369.0 L235.7 360.8 L236.2 351.8 L236.7 343.7 L237.2 338.5 L237.7 337.6 L238.2 341.2 L238.7 348.6 L239.2 357.8 L239.7 366.7 L240.2 373.5 L240.7 377.5 L241.2 378.9 L241.7 379.0 L242.2 378.6 L242.7 376.4 L243.2 371.2 L243.7 363.3 L244.2 353.8 L244.7 344.7 L245.2 338.2 L245.7 336.1 L246.2 338.7 L246.7 345.3 L247.2 354.2 L247.7 363.4 L248.2 371.1 L248.7 376.2 L249.2 378.5 L249.7 379.0 L250.2 379.0 L250.7 377.8 L251.2 374.4 L251.7 368.2 L252.2 359.7 L252.7 350.3 L253.2 342.2 L253.7 337.1 L254.2 336.4 L254.7 340.4 L255.2 348.2 L255.7 357.8 L256.2 366.9 L256.7 373.7 L257.2 377.6 L257.7 378.9 L258.2 379.0 L258.7 378.5 L259.2 376.1 L259.7 370.9 L260.2 362.9 L260.7 353.4 L261.2 344.6 L261.7 338.4 L262.2 336.6 L262.7 339.5 L263.2 346.2 L263.7 355.1 L264.2 364.1 L264.7 371.6 L265.2 376.4 L265.7 378.6 L266.2 379.0 L266.7 378.9 L267.2 377.8 L267.7 374.4 L268.2 368.4 L268.7 360.2 L269.2 351.4 L269.7 343.9 L270.2 339.4 L270.7 339.0 L271.2 342.9 L271.7 350.0 L272.2 358.7 L272.7 367.1 L273.2 373.5 L273.7 377.4 L274.2 378.8 L274.7 379.0 L275.2 378.8 L275.7 377.4 L276.2 374.1 L276.7 368.6 L277.2 361.8 L277.7 354.8 L278.2 349.2 L278.7 346.4 L279.2 347.0 L279.7 350.5 L280.2 356.1 L280.7 362.3 L281.2 367.8 L281.7 371.6 L282.2 373.5 L282.7 374.0 L283.2 373.9 L283.7 373.4 L284.2 371.7 L284.7 368.7 L285.2 364.8 L285.7 360.4 L286.2 356.4 L286.7 353.6 L287.2 352.6 L287.7 353.4 L288.2 355.7 L288.7 359.1 L289.2 362.8 L289.7 366.2 L290.2 368.8 L290.7 370.2 L291.2 370.7 L291.7 370.6 L292.2 370.0 L292.7 368.5 L293.2 366.1 L293.7 363.2 L294.2 360.2 L294.7 357.9 L295.2 356.5 L295.7 356.5 L296.2 357.5 L296.7 359.3 L297.2 361.7 L297.7 364.1 L298.2 366.2 L298.7 367.8 L299.2 368.7 L299.7 368.9 L300.2 368.8 L300.7 368.1 L301.2 366.8 L301.7 365.1 L302.2 363.2 L302.7 361.4 L303.2 360.0 L303.7 359.4 L304.2 359.6 L304.7 360.4 L305.2 361.7 L305.7 363.3 L306.2 364.9 L306.7 366.3 L307.2 367.3 L307.7 367.8 L308.2 368.0 L308.7 367.8 L309.2 367.1 L309.7 366.0 L310.2 364.6 L310.7 363.2 L311.2 361.9 L311.7 361.1 L312.2 360.8 L312.7 361.1 L313.2 361.9 L313.7 363.0 L314.2 364.3 L314.7 365.6 L315.2 366.7 L315.7 367.4 L316.2 367.7 L316.7 367.8 L317.2 367.5 L317.7 366.8 L318.2 365.8 L318.7 364.6 L319.2 363.4 L319.7 362.4 L320.2 361.9 L320.7 361.7 L321.2 362.1 L321.7 362.8 L322.2 363.7 L322.7 364.8 L323.2 365.8 L323.7 366.6 L324.2 367.2 L324.7 367.4 M489.2 365.6 L489.7 365.1 L490.2 365.0 L490.7 364.6 L491.2 364.2 L491.7 363.6 L492.2 362.9 L492.7 362.1 L493.2 361.4 L493.7 360.8 L494.2 360.3 L494.7 360.0 L495.2 359.9 L495.7 360.2 L496.2 360.6 L496.7 361.2 L497.2 361.9 L497.7 362.8 L498.2 363.8 L498.7 364.7 L499.2 365.6 L499.7 366.3 L500.2 366.9 L500.7 367.3 L501.2 367.4 M507.7 371.7 L508.2 371.6 L508.7 371.4 L509.2 371.1 L509.7 370.5 L510.2 369.8 L510.7 368.9 L511.2 368.1 L511.7 367.3 L512.2 366.6 L512.7 366.1 L513.2 365.8 M515.7 367.1 L516.2 366.6 L516.7 366.2 L517.2 365.0 L517.7 362.8 L518.2 359.6 L518.7 355.9 L519.2 352.1 L519.7 349.1 L520.2 347.2 L520.7 346.8 L521.2 348.0 L521.7 350.5 L522.2 353.8 L522.7 357.3 L523.2 360.5 L523.7 362.7 L524.2 364.0 L524.7 364.3 L525.2 364.3 L525.7 363.6 L526.2 361.8 L526.7 358.5 L527.2 354.0 L527.7 349.1 L528.2 344.7 L528.7 341.7 L529.2 340.7 L529.7 342.6 L530.2 347.7 L530.7 354.5 L531.2 361.4 L531.7 367.0 L532.2 370.5 L532.7 372.0 L533.2 372.2 L533.7 372.1 L534.2 371.1 L534.7 368.5 L535.2 364.0 L535.7 358.2 L536.2 351.9 L536.7 346.5 L537.2 343.1 L537.7 342.7 L538.2 345.8 L538.7 352.0 L539.2 359.7 L539.7 366.9 L540.2 372.4 L540.7 375.6 L541.2 376.7 L541.7 376.8 L542.2 376.4 L542.7 374.5 L543.2 370.2 L543.7 363.5 L544.2 355.2 L544.7 346.7 L545.2 340.0 L545.7 336.4 L546.2 337.0 L546.7 342.2 L547.2 350.7 L547.7 360.3 L548.2 369.0 L548.7 375.0 L549.2 378.2 L549.7 379.0 L550.2 379.0 L550.7 377.9 L551.2 374.0 L551.7 366.5 L552.2 355.8 L552.7 343.9 L553.2 333.4 L553.7 327.1 L554.2 326.4 L554.7 331.2 L555.2 340.2 L555.7 351.4 L556.2 362.4 L556.7 371.2 L557.2 376.8 L557.7 379.3 L558.2 379.8 L558.7 379.7 L559.2 378.1 L559.7 373.6 L560.2 365.5 L560.7 354.6 L561.2 342.8 L561.7 332.4 L562.2 326.0 L562.7 325.1 L563.2 330.2 L563.7 340.3 L564.2 352.7 L564.7 364.6 L565.2 373.5 L565.7 378.6 L566.2 380.4 L566.7 380.5 L567.2 379.9 L567.7 376.9 L568.2 370.1 L568.7 359.7 L569.2 347.5 L569.7 335.9 L570.2 327.9 L570.7 325.5 L571.2 329.1 L571.7 337.8 L572.2 349.3 L572.7 361.1 L573.2 370.8 L573.7 377.1 L574.2 380.0 L574.7 380.5 L575.2 380.4 L575.7 378.8 L576.2 374.1 L576.7 365.7 L577.2 354.4 L577.7 342.1 L578.2 331.4 L578.7 325.0 L579.2 324.5 L579.7 330.1 L580.2 340.6 L580.7 353.2 L581.2 365.1 L581.7 373.9 L582.2 378.8 L582.7 380.4 L583.2 380.5 L583.7 379.8 L584.2 376.3 L584.7 369.0 L585.2 358.0 L585.7 345.1 L586.2 333.2 L586.7 325.1 L587.2 323.0 L587.7 327.2 L588.2 336.5 L588.7 348.7 L589.2 360.9 L589.7 370.9 L590.2 377.3 L590.7 380.0 L591.2 380.6 L591.7 380.4 L592.2 378.6 L592.7 373.6 L593.2 364.8 L593.7 353.1 L594.2 340.6 L594.7 330.0 L595.2 323.8 L595.7 323.7 L596.2 329.8 L596.7 340.7 L597.2 353.6 L597.7 365.5 L598.2 374.3 L598.7 379.0 L599.2 380.5 L599.7 380.5 L600.2 379.7 L600.7 376.0 L601.2 368.4 L601.7 357.1 L602.2 344.2 L602.7 332.5 L603.2 324.8 L603.7 323.1 L604.2 327.7 L604.7 337.3 L605.2 349.5 L605.7 361.7 L606.2 371.5 L606.7 377.6 L607.2 380.1 L607.7 380.6 L608.2 380.3 L608.7 378.4 L609.2 373.2 L609.7 364.2 L610.2 352.5 L610.7 340.1 L611.2 329.9 L611.7 324.1 L612.2 324.4 L612.7 330.8 L613.2 341.9 L613.7 354.7 L614.2 366.3 L614.7 374.8 L615.2 379.2 L615.7 380.5 L616.2 380.5 L616.7 379.5 L617.2 375.5 L617.7 367.5 L618.2 356.0 L618.7 342.9 L619.2 331.2 L619.7 323.7 L620.2 322.5 L620.7 327.5 L621.2 337.5 L621.7 350.0 L622.2 362.2 L622.7 371.9 L623.2 377.8 L623.7 380.2 L624.2 380.6 L624.7 380.3 L625.2 378.1 L625.7 372.5 L626.2 363.1 L626.7 351.0 L627.2 338.4 L627.7 328.2 L628.2 322.7 L628.7 323.4 L629.2 330.4 L629.7 341.9 L630.2 355.0 L630.7 366.7 L631.2 375.0 L631.7 379.3 L632.2 380.5 L632.7 380.5 L633.2 379.4 L633.7 375.2 L634.2 367.0 L634.7 355.5 L635.2 342.5 L635.7 331.2 L636.2 324.2 L636.7 323.4 L637.2 328.7 L637.7 338.8 L638.2 351.2 L638.7 363.2 L639.2 372.5 L639.7 378.1 L640.2 380.3 L640.7 380.6 L641.2 380.2 L641.7 377.9 L642.2 372.1 L642.7 362.6 L643.2 350.5 L643.7 338.2 L644.2 328.3 L644.7 323.3 L645.2 324.4 L645.7 331.7 L646.2 343.2 L646.7 356.1 L647.2 367.6 L647.7 375.5 L648.2 379.5 L648.7 380.5 L649.2 380.5 L649.7 379.2 L650.2 374.9 L650.7 366.6 L651.2 355.1 L651.7 342.4 L652.2 331.4 L652.7 324.9 L653.2 324.6 L653.7 330.2 L654.2 340.3 L654.7 352.6 L655.2 364.2 L655.7 373.1 L656.2 378.4 L656.7 380.3 L657.2 380.6 L657.7 380.2 L658.2 377.7 L658.7 372.0 L659.2 362.7 L659.7 351.1 L660.2 339.3 L660.7 330.1 L661.2 325.7 L661.7 327.2 L662.2 334.5 L662.7 345.7 L663.2 358.0 L663.7 368.8 L664.2 376.1 L664.7 379.7 L665.2 380.5 L665.7 380.5 L666.2 379.1 L666.7 374.5 L667.2 366.1 L667.7 354.6 L668.2 342.1 L668.7 331.5 L669.2 325.4 L669.7 325.5 L670.2 331.4 L670.7 341.6 L671.2 353.7 L671.7 365.1 L672.2 373.7 L672.7 378.6 L673.2 380.4 L673.7 380.6 L674.2 380.1 L674.7 377.3 L675.2 371.0 L675.7 361.1 L676.2 348.9 L676.7 336.7 L677.2 327.3 L677.7 323.1 L678.2 325.0 L678.7 333.0 L679.2 344.9 L679.7 357.8 L680.2 368.9 L680.7 376.3 L681.2 379.8 L681.7 380.5 L682.2 380.4 L682.7 378.8 L683.2 373.7 L683.7 364.4 L684.2 351.9 L684.7 338.6 L685.2 327.5 L685.7 321.5 L686.2 322.0 L686.7 328.7 L687.2 339.8 L687.7 352.8 L688.2 364.8 L688.7 373.7 L689.2 378.7 L689.7 380.4 L690.2 380.5 L690.7 379.9 L691.2 376.9 L691.7 370.0 L692.2 359.4 L692.7 346.6 L693.2 334.0 L693.7 324.5 L694.2 320.5 L694.7 323.0 L695.2 331.7 L695.7 344.2 L696.2 357.7 L696.7 369.0 L697.2 376.5 L697.7 379.9 L698.2 380.5 L698.7 380.4 L699.2 378.6 L699.7 373.3 L700.2 364.0 L700.7 351.7 L701.2 338.7 L701.7 328.1 L702.2 322.6 L702.7 323.5 L703.2 330.4 L703.7 341.5 L704.2 354.2 L704.7 365.8 L705.2 374.3 L705.7 378.9 L706.2 380.4 L706.7 380.5 L707.2 379.9 L707.7 376.8 L708.2 370.1 L708.7 359.9 L709.2 347.8 L709.7 336.0 L710.2 327.4 L710.7 324.0 L711.2 326.8 L711.7 335.2 L712.2 347.2 L712.7 359.8 L713.2 370.3 L713.7 377.0 L714.2 380.0 L714.7 380.6 L715.2 380.4 L715.7 378.4 L716.2 373.1 L716.7 363.8 L717.2 351.7 L717.7 339.2 L718.2 329.1 L718.7 324.2 L719.2 325.5 L719.7 332.5 L720.2 343.5 L720.7 355.8 L721.2 366.9 L721.7 374.9 L722.2 379.2 L722.7 380.5 L723.2 380.5 L723.7 379.7 L724.2 376.4 L724.7 369.3 L725.2 358.8 L725.7 346.3 L726.2 334.5 L726.7 326.0 L727.2 322.9 L727.7 326.2 L728.2 335.2 L728.7 347.5 L729.2 360.2 L729.7 370.7 L730.2 377.3 L730.7 380.1 L731.2 380.6 L731.7 380.3 L732.2 378.2 L732.7 372.4 L733.2 362.7 L733.7 350.3 L734.2 337.6 L734.7 327.7 L735.2 323.1 L735.7 324.9 L736.2 332.3 L736.7 343.7 L737.2 356.2 L737.7 367.3 L738.2 375.2 L738.7 379.3 L739.2 380.5 L739.7 380.5 L740.2 379.6 L740.7 376.0 L741.2 368.7 L741.7 358.0 L742.2 345.5 L742.7 333.8 L743.2 325.6 L743.7 322.9 L744.2 326.5 L744.7 335.5 L745.2 347.7 L745.7 360.2 L746.2 370.5 L746.7 377.1" fill="none" stroke="#1a1af0" stroke-opacity="0.42" stroke-width="2.8" stroke-linejoin="round"/>
<path d="M324.7 367.4 L325.2 367.3 L325.7 367.0 L326.2 366.3 L326.7 365.4 L327.2 364.4 L327.7 363.5 L328.2 362.8 L328.7 362.4 L329.2 362.5 L329.7 362.8 L330.2 363.5 L330.7 364.3 L331.2 365.2 L331.7 366.0 L332.2 366.7 L332.7 367.1 L333.2 367.2 L333.7 367.1 L334.2 366.7 L334.7 366.1 L335.2 365.3 L335.7 364.5 L336.2 363.9 L336.7 363.4 L337.2 363.1 L337.7 363.1 L338.2 363.5 L338.7 364.2 L339.2 364.9 L339.7 365.6 L340.2 366.2 L340.7 366.7 L341.2 366.9 L341.7 366.9 L342.2 366.8 L342.7 366.6 L343.2 366.0 L343.7 365.2 L344.2 364.4 L344.7 364.0 L345.2 363.6 L345.7 363.5 L346.2 363.8 L346.7 364.2 L347.2 364.6 L347.7 365.0 L348.2 365.6 L348.7 366.3 L349.2 366.8 L349.7 366.8 L350.2 366.8 L350.7 366.6 L351.2 366.1 L351.7 365.5 L352.2 365.0 L352.7 364.7 L353.2 364.2 L353.7 363.8 L354.2 363.6 L354.7 363.8 L355.2 364.3 L355.7 364.7 L356.2 365.2 L356.7 365.8 L357.2 366.1 L357.7 366.2 L358.2 366.4 L358.7 366.6 L359.2 366.7 L359.7 366.2 L360.2 365.5 L360.7 365.0 L361.2 364.5 L361.7 364.1 L362.2 364.0 L362.7 364.2 L363.2 364.4 L363.7 364.4 L364.2 364.6 L364.7 365.1 L365.2 365.8 L365.7 366.1 L366.2 366.3 L366.7 366.4 L367.2 366.4 L367.7 366.0 L368.2 365.6 L368.7 365.4 L369.2 365.3 L369.7 364.7 L370.2 364.2 L370.7 364.0 L371.2 364.2 L371.7 364.4 L372.2 364.7 L372.7 365.3 L373.2 365.7 L373.7 365.7 L374.2 365.7 L374.7 365.9 L375.2 366.3 L375.7 366.3 L376.2 365.9 L376.7 365.5 L377.2 365.1 L377.7 364.6 L378.2 364.3 L378.7 364.4 L379.2 364.8 L379.7 364.8 L380.2 364.6 L380.7 364.8 L381.2 365.2 L381.7 365.6 L382.2 365.8 L382.7 366.0 L383.2 366.2 L383.7 365.9 L384.2 365.4 L384.7 365.2 L385.2 365.4 L385.7 365.3 L386.2 364.9 L386.7 364.6 L387.2 364.6 L387.7 364.6 L388.2 364.6 L388.7 365.0 L389.2 365.6 L389.7 365.8 L390.2 365.5 L390.7 365.5 L391.2 365.8 L391.7 366.1 L392.2 366.0 L392.7 365.8 L393.2 365.6 L393.7 365.2 L394.2 364.6 L394.7 364.5 L395.2 364.8 L395.7 365.0 L396.2 364.8 L396.7 364.7 L397.2 364.8 L397.7 365.1 L398.2 365.3 L398.7 365.5 L399.2 366.0 L399.7 366.0 L400.2 365.6 L400.7 365.2 L401.2 365.3 L401.7 365.4 L402.2 365.2 L402.7 364.9 L403.2 364.8 L403.7 364.6 L404.2 364.4 L404.7 364.4 L405.2 365.0 L405.7 365.5 L406.2 365.4 L406.7 365.2 L407.2 365.3 L407.7 365.6 L408.2 365.7 L408.7 365.7 L409.2 365.8 L409.7 365.7 L410.2 365.1 L410.7 364.6 L411.2 364.6 L411.7 364.9 L412.2 364.9 L412.7 364.7 L413.2 364.7 L413.7 364.9 L414.2 364.9 L414.7 365.1 L415.2 365.6 L415.7 366.0 L416.2 365.9 L416.7 365.5 L417.2 365.3 L417.7 365.5 L418.2 365.4 L418.7 365.2 L419.2 365.1 L419.7 365.0 L420.2 364.6 L420.7 364.2 L421.2 364.4 L421.7 365.0 L422.2 365.3 L422.7 365.2 L423.2 365.2 L423.7 365.4 L424.2 365.5 L424.7 365.5 L425.2 365.7 L425.7 366.0 L426.2 365.7 L426.7 365.1 L427.2 364.7 L427.7 364.8 L428.2 364.9 L428.7 364.8 L429.2 364.7 L429.7 364.8 L430.2 364.8 L430.7 364.7 L431.2 365.0 L431.7 365.6 L432.2 366.0 L432.7 365.8 L433.2 365.5 L433.7 365.5 L434.2 365.5 L434.7 365.3 L435.2 365.2 L435.7 365.3 L436.2 365.1 L436.7 364.5 L437.2 364.2 L437.7 364.5 L438.2 365.0 L438.7 365.1 L439.2 365.1 L439.7 365.3 L440.2 365.4 L440.7 365.3 L441.2 365.4 L441.7 365.9 L442.2 366.1 L442.7 365.7 L443.2 365.1 L443.7 364.9 L444.2 364.9 L444.7 364.8 L445.2 364.7 L445.7 364.8 L446.2 365.2 L446.7 365.3 L447.2 365.0 L447.7 365.3 L448.2 365.7 L448.7 365.8 L449.2 365.7 L449.7 365.7 L450.2 365.3 L450.7 364.5 L451.2 364.4 L451.7 364.8 L452.2 365.2 L452.7 365.1 L453.2 364.8 L453.7 364.9 L454.2 365.4 L454.7 365.6 L455.2 365.6 L455.7 365.6 L456.2 365.5 L456.7 365.1 L457.2 364.6 L457.7 364.7 L458.2 365.0 L458.7 365.0 L459.2 364.6 L459.7 364.4 L460.2 364.6 L460.7 364.7 L461.2 364.9 L461.7 365.2 L462.2 365.7 L462.7 365.6 L463.2 365.2 L463.7 365.1 L464.2 365.4 L464.7 365.6 L465.2 365.3 L465.7 365.1 L466.2 364.9 L466.7 364.6 L467.2 364.3 L467.7 364.4 L468.2 364.9 L468.7 365.2 L469.2 364.9 L469.7 364.7 L470.2 365.0 L470.7 365.3 L471.2 365.4 L471.7 365.5 L472.2 365.8 L472.7 365.6 L473.2 365.0 L473.7 364.7 L474.2 364.9 L474.7 365.1 L475.2 364.9 L475.7 364.6 L476.2 364.6 L476.7 364.6 L477.2 364.5 L477.7 364.7 L478.2 365.3 L478.7 365.7 L479.2 365.4 L479.7 365.1 L480.2 365.2 L480.7 365.5 L481.2 365.5 L481.7 365.3 L482.2 365.3 L482.7 365.1 L483.2 364.6 L483.7 364.2 L484.2 364.5 L484.7 365.0 L485.2 365.0 L485.7 364.7 L486.2 364.7 L486.7 364.9 L487.2 365.0 L487.7 365.1 L488.2 365.5 L488.7 365.9 L489.2 365.6 M501.2 367.4 L501.7 368.1 L502.2 367.9 L502.7 367.6 L503.2 367.2 L503.7 366.7 L504.2 366.6 L504.7 367.0 L505.2 367.4 L505.7 368.3 L506.2 369.4 L506.7 370.5 L507.2 371.3 L507.7 371.7 M513.2 365.8 L513.7 365.3 L514.2 365.7 L514.7 366.5 L515.2 367.1 L515.7 367.1" fill="none" stroke="#1a1af0" stroke-opacity="0.22" stroke-width="2.4" stroke-linejoin="round"/>
<use href="#w3" fill="none" stroke="#0b0b6a" stroke-width="1.3" stroke-linejoin="round"/>
<rect x="103.4" y="314.5" width="644.3" height="77.9" fill="none" stroke="#555555" stroke-width="1.05"/>
<path d="M189.3 314.5 v6.5 M189.3 392.4 v-6.5 M275.2 314.5 v6.5 M275.2 392.4 v-6.5 M361.1 314.5 v6.5 M361.1 392.4 v-6.5 M447.0 314.5 v6.5 M447.0 392.4 v-6.5 M532.9 314.5 v6.5 M532.9 392.4 v-6.5 M618.8 314.5 v6.5 M618.8 392.4 v-6.5 M704.7 314.5 v6.5 M704.7 392.4 v-6.5 M103.4 353.4 h6.5 M747.7 353.4 h-6.5" stroke="#555555" stroke-width="1.05" fill="none"/>
<defs><path id="w4" d="M104.2 466.4 L104.7 457.8 L105.2 449.1 L105.7 442.2 L106.2 438.8 L106.7 439.9 L107.2 445.2 L107.7 453.4 L108.2 462.5 L108.7 470.4 L109.2 475.8 L109.7 478.4 L110.2 479.0 L110.7 479.0 L111.2 478.0 L111.7 474.8 L112.2 468.9 L112.7 460.8 L113.2 452.1 L113.7 444.6 L114.2 440.4 L114.7 440.5 L115.2 444.6 L115.7 451.8 L116.2 460.3 L116.7 468.2 L117.2 474.2 L117.7 477.7 L118.2 478.9 L118.7 479.0 L119.2 478.7 L119.7 476.8 L120.2 472.4 L120.7 465.6 L121.2 457.1 L121.7 448.7 L122.2 442.2 L122.7 439.2 L123.2 440.6 L123.7 446.1 L124.2 454.4 L124.7 463.3 L125.2 470.9 L125.7 476.1 L126.2 478.5 L126.7 479.0 L127.2 479.0 L127.7 477.8 L128.2 474.4 L128.7 468.2 L129.2 459.9 L129.7 451.0 L130.2 443.6 L130.7 439.5 L131.2 439.9 L131.7 444.3 L132.2 451.8 L132.7 460.5 L133.2 468.5 L133.7 474.4 L134.2 477.8 L134.7 478.9 L135.2 479.0 L135.7 478.6 L136.2 476.5 L136.7 471.9 L137.2 464.7 L137.7 455.9 L138.2 447.4 L138.7 440.9 L139.2 438.2 L139.7 439.9 L140.2 445.8 L140.7 454.3 L141.2 463.5 L141.7 471.2 L142.2 476.2 L142.7 478.6 L143.2 479.0 L143.7 478.9 L144.2 477.7 L144.7 474.0 L145.2 467.4 L145.7 458.8 L146.2 449.7 L146.7 442.3 L147.2 438.4 L147.7 439.1 L148.2 443.9 L148.7 451.7 L149.2 460.6 L149.7 468.7 L150.2 474.6 L150.7 477.9 L151.2 479.0 L151.7 479.0 L152.2 478.5 L152.7 476.3 L153.2 471.6 L153.7 464.3 L154.2 455.6 L154.7 447.2 L155.2 441.1 L155.7 438.6 L156.2 440.6 L156.7 446.7 L157.2 455.3 L157.7 464.2 L158.2 471.7 L158.7 476.5 L159.2 478.6 L159.7 479.0 L160.2 478.9 L160.7 477.5 L161.2 473.7 L161.7 467.1 L162.2 458.4 L162.7 449.5 L163.2 442.3 L163.7 438.8 L164.2 439.8 L164.7 444.8 L165.2 452.6 L165.7 461.4 L166.2 469.3 L166.7 475.0 L167.2 478.0 L167.7 479.0 L168.2 479.0 L168.7 478.5 L169.2 476.1 L169.7 471.3 L170.2 464.0 L170.7 455.3 L171.2 447.2 L171.7 441.3 L172.2 439.1 L172.7 441.4 L173.2 447.6 L173.7 456.2 L174.2 465.0 L174.7 472.2 L175.2 476.8 L175.7 478.7 L176.2 479.0 L176.7 478.9 L177.2 477.4 L177.7 473.3 L178.2 466.5 L178.7 457.8 L179.2 448.9 L179.7 442.0 L180.2 438.7 L180.7 440.0 L181.2 445.2 L181.7 453.2 L182.2 462.0 L182.7 469.8 L183.2 475.3 L183.7 478.2 L184.2 479.0 L184.7 479.0 L185.2 478.4 L185.7 475.8 L186.2 470.5 L186.7 462.7 L187.2 453.7 L187.7 445.2 L188.2 439.3 L188.7 437.4 L189.2 440.1 L189.7 446.8 L190.2 455.8 L190.7 464.9 L191.2 472.3 L191.7 476.9 L192.2 478.7 L192.7 479.0 L193.2 478.8 L193.7 477.1 L194.2 472.9 L194.7 465.8 L195.2 456.9 L195.7 448.0 L196.2 441.2 L196.7 438.2 L197.2 439.7 L197.7 445.3 L198.2 453.4 L198.7 462.3 L199.2 470.1 L199.7 475.5 L200.2 478.2 L200.7 479.0 L201.2 479.0 L201.7 478.3 L202.2 475.6 L202.7 470.3 L203.2 462.6 L203.7 453.9 L204.2 445.8 L204.7 440.3 L205.2 438.7 L205.7 441.6 L206.2 448.3 L206.7 457.1 L207.2 465.9 L207.7 472.9 L208.2 477.1 L208.7 478.8 L209.2 479.0 L209.7 478.8 L210.2 477.0 L210.7 472.6 L211.2 465.5 L211.7 456.6 L212.2 447.8 L212.7 441.3 L213.2 438.6 L213.7 440.5 L214.2 446.2 L214.7 454.3 L215.2 463.1 L215.7 470.6 L216.2 475.8 L216.7 478.4 L217.2 479.0 L217.7 479.0 L218.2 478.3 L218.7 475.7 L219.2 470.7 L219.7 463.7 L220.2 455.7 L220.7 448.5 L221.2 443.7 L221.7 442.5 L222.2 444.9 L222.7 450.3 L223.2 457.4 L223.7 464.6 L224.2 470.7 L224.7 474.8 L225.2 476.8 L225.7 477.2 L226.2 477.2 L226.7 476.5 L227.2 474.4 L227.7 470.5 L228.2 465.1 L228.7 459.4 L229.2 454.5 L229.7 451.7 L230.2 451.5 L230.7 453.4 L231.2 456.9 L231.7 461.1 L232.2 465.4 L232.7 469.0 L233.2 471.3 L233.7 472.5 L234.2 472.7 L234.7 472.6 L235.2 471.7 L235.7 469.8 L236.2 467.0 L236.7 463.8 L237.2 460.6 L237.7 458.3 L238.2 457.2 L238.7 457.5 L239.2 458.8 L239.7 461.0 L240.2 463.6 L240.7 466.2 L241.2 468.4 L241.7 469.9 L242.2 470.6 L242.7 470.7 L243.2 470.4 L243.7 469.5 L244.2 468.0 L244.7 466.0 L245.2 463.8 L245.7 461.9 L246.2 460.6 L246.7 460.2 L247.2 460.6 L247.7 461.7 L248.2 463.2 L248.7 465.0 L249.2 466.8 L249.7 468.2 L250.2 469.2 L250.7 469.6 L251.2 469.8 L251.7 469.4 L252.2 468.6 L252.7 467.4 L253.2 466.0 L253.7 464.6 L254.2 463.4 L254.7 462.7 L255.2 462.6 L255.7 463.0 L256.2 463.8 L256.7 464.9 L257.2 466.1 L257.7 467.3 L258.2 468.2 L258.7 468.8 L259.2 469.1 L259.7 469.1 L260.2 468.7 L260.7 468.0 L261.2 467.0 L261.7 465.9 L262.2 464.9 L262.7 464.1 L263.2 463.7 L263.7 463.7 L264.2 464.1 L264.7 464.7 L265.2 465.5 L265.7 466.5 L266.2 467.3 L266.7 468.0 L267.2 468.3 L267.7 468.5 L268.2 468.4 L268.7 468.0 L269.2 467.3 L269.7 466.6 L270.2 465.9 L270.7 465.1 L271.2 464.5 L271.7 464.3 L272.2 464.4 L272.7 464.7 L273.2 465.3 L273.7 466.1 L274.2 466.8 L274.7 467.3 L275.2 467.6 L275.7 467.9 L276.2 468.1 L276.7 468.0 L277.2 467.6 L277.7 467.1 L278.2 466.5 L278.7 465.9 L279.2 465.3 L279.7 465.0 L280.2 465.0 L280.7 465.0 L281.2 465.0 L281.7 465.3 L282.2 466.0 L282.7 466.6 L283.2 467.1 L283.7 467.5 L284.2 467.7 L284.7 467.7 L285.2 467.2 L285.7 467.0 L286.2 466.9 L286.7 466.7 L287.2 466.1 L287.7 465.6 L288.2 465.4 L288.7 465.3 L289.2 465.1 L289.7 465.4 L290.2 465.9 L290.7 466.1 L291.2 465.9 L291.7 465.9 L292.2 466.2 L292.7 466.6 L293.2 466.5 L293.7 466.4 L294.2 466.3 L294.7 465.9 L295.2 465.3 L295.7 465.0 L296.2 465.2 L296.7 465.3 L297.2 465.1 L297.7 464.8 L298.2 465.0 L298.7 465.2 L299.2 465.4 L299.7 465.7 L300.2 466.3 L300.7 466.5 L301.2 466.1 L301.7 465.8 L302.2 465.9 L302.7 466.1 L303.2 465.9 L303.7 465.5 L304.2 465.3 L304.7 465.0 L305.2 464.7 L305.7 464.6 L306.2 465.1 L306.7 465.6 L307.2 465.6 L307.7 465.6 L308.2 465.8 L308.7 466.2 L309.2 466.4 L309.7 466.4 L310.2 466.6 L310.7 466.6 L311.2 466.1 L311.7 465.5 L312.2 465.5 L312.7 465.7 L313.2 465.6 L313.7 465.3 L314.2 465.3 L314.7 465.3 L315.2 465.3 L315.7 465.5 L316.2 466.0 L316.7 466.6 L317.2 466.6 L317.7 466.2 L318.2 466.1 L318.7 466.3 L319.2 466.3 L319.7 466.0 L320.2 465.8 L320.7 465.6 L321.2 465.2 L321.7 464.7 L322.2 464.7 L322.7 465.1 L323.2 465.4 L323.7 465.4 L324.2 465.5 L324.7 465.8 L325.2 466.0 L325.7 466.1 L326.2 466.4 L326.7 466.7 L327.2 466.6 L327.7 466.0 L328.2 465.6 L328.7 465.6 L329.2 465.5 L329.7 465.2 L330.2 465.0 L330.7 465.0 L331.2 464.9 L331.7 464.8 L332.2 465.0 L332.7 465.7 L333.2 466.1 L333.7 466.1 L334.2 465.9 L334.7 466.0 L335.2 466.2 L335.7 466.1 L336.2 466.0 L336.7 466.2 L337.2 466.0 L337.7 465.4 L338.2 464.9 L338.7 465.1 L339.2 465.5 L339.7 465.5 L340.2 465.5 L340.7 465.7 L341.2 465.8 L341.7 465.8 L342.2 466.0 L342.7 466.5 L343.2 466.9 L343.7 466.6 L344.2 466.1 L344.7 465.9 L345.2 465.8 L345.7 465.6 L346.2 465.3 L346.7 465.2 L347.2 465.2 L347.7 464.8 L348.2 464.6 L348.7 465.0 L349.2 465.7 L349.7 466.0 L350.2 466.0 L350.7 466.2 L351.2 466.3 L351.7 466.3 L352.2 466.2 L352.7 466.3 L353.2 466.4 L353.7 466.0 L354.2 465.3 L354.7 464.9 L355.2 465.0 L355.7 465.0 L356.2 465.0 L356.7 465.2 L357.2 465.4 L357.7 465.4 L358.2 465.4 L358.7 465.9 L359.2 466.5 L359.7 466.7 L360.2 466.5 L360.7 466.2 L361.2 466.2 L361.7 466.0 L362.2 465.8 L362.7 465.7 L363.2 465.8 L363.7 465.6 L364.2 465.0 L364.7 464.9 L365.2 465.3 L365.7 465.7 L366.2 465.8 L366.7 465.9 L367.2 466.1 L367.7 466.1 L368.2 465.9 L368.7 466.0 L369.2 466.3 L369.7 466.4 L370.2 465.8 L370.7 465.3 L371.2 465.1 L371.7 465.1 L372.2 464.9 L372.7 464.9 L373.2 465.2 L373.7 465.3 L374.2 465.2 L374.7 465.2 L375.2 465.8 L375.7 466.4 L376.2 466.5 L376.7 466.4 L377.2 466.4 L377.7 466.3 L378.2 465.9 L378.7 465.7 L379.2 465.8 L379.7 465.7 L380.2 465.2 L380.7 464.7 L381.2 464.7 L381.7 465.0 L382.2 465.2 L382.7 465.4 L383.2 465.8 L383.7 466.1 L384.2 466.0 L384.7 466.0 L385.2 466.3 L385.7 466.7 L386.2 466.6 L386.7 466.2 L387.2 465.9 L387.7 465.7 L388.2 465.4 L388.7 465.2 L389.2 465.4 L389.7 465.7 L390.2 465.5 L390.7 465.2 L391.2 465.4 L391.7 465.9 L392.2 466.3 L392.7 466.4 L393.2 466.5 L393.7 466.6 L394.2 466.3 L394.7 465.9 L395.2 465.9 L395.7 466.0 L396.2 465.8 L396.7 465.2 L397.2 464.8 L397.7 464.8 L398.2 464.8 L398.7 464.9 L399.2 465.3 L399.7 465.7 L400.2 465.8 L400.7 465.6 L401.2 465.7 L401.7 466.2 L402.2 466.4 L402.7 466.3 L403.2 466.0 L403.7 465.9 L404.2 465.5 L404.7 465.0 L405.2 465.0 L405.7 465.2 L406.2 465.3 L406.7 465.0 L407.2 464.8 L407.7 465.1 L408.2 465.6 L408.7 465.8 L409.2 466.2 L409.7 466.5 L410.2 466.6 L410.7 466.2 L411.2 466.0 L411.7 466.2 L412.2 466.4 L412.7 466.1 L413.2 465.6 L413.7 465.4 L414.2 465.2 L414.7 465.1 L415.2 465.2 L415.7 465.6 L416.2 466.0 L416.7 465.9 L417.2 465.7 L417.7 466.0 L418.2 466.4 L418.7 466.6 L419.2 466.5 L419.7 466.5 L420.2 466.3 L420.7 465.7 L421.2 465.2 L421.7 465.3 L422.2 465.4 L422.7 465.2 L423.2 464.9 L423.7 464.8 L424.2 465.1 L424.7 465.3 L425.2 465.6 L425.7 466.1 L426.2 466.5 L426.7 466.4 L427.2 466.1 L427.7 466.1 L428.2 466.4 L428.7 466.3 L429.2 465.9 L429.7 465.6 L430.2 465.3 L430.7 464.9 L431.2 464.6 L431.7 464.8 L432.2 465.3 L432.7 465.5 L433.2 465.3 L433.7 465.3 L434.2 465.7 L434.7 466.0 L435.2 466.1 L435.7 466.3 L436.2 466.5 L436.7 466.2 L437.2 465.6 L437.7 465.4 L438.2 465.7 L438.7 465.8 L439.2 465.5 L439.7 465.2 L440.2 465.3 L440.7 465.3 L441.2 465.2 L441.7 465.6 L442.2 466.3 L442.7 466.5 L443.2 466.3 L443.7 466.1 L444.2 466.3 L444.7 466.4 L445.2 466.3 L445.7 466.1 L446.2 465.9 L446.7 465.5 L447.2 464.9 L447.7 464.7 L448.2 464.9 L448.7 465.3 L449.2 465.2 L449.7 465.2 L450.2 465.5 L450.7 465.8 L451.2 465.9 L451.7 466.2 L452.2 466.7 L452.7 466.8 L453.2 466.3 L453.7 465.8 L454.2 465.7 L454.7 465.7 L455.2 465.5 L455.7 465.2 L456.2 465.1 L456.7 465.0 L457.2 464.7 L457.7 464.8 L458.2 465.3 L458.7 466.0 L459.2 466.1 L459.7 466.0 L460.2 466.1 L460.7 466.4 L461.2 466.4 L461.7 466.3 L462.2 466.4 L462.7 466.4 L463.2 465.8 L463.7 465.2 L464.2 465.1 L464.7 465.4 L465.2 465.5 L465.7 465.4 L466.2 465.4 L466.7 465.6 L467.2 465.6 L467.7 465.6 L468.2 466.0 L468.7 466.6 L469.2 466.5 L469.7 466.1 L470.2 465.8 L470.7 465.8 L471.2 465.7 L471.7 465.4 L472.2 465.3 L472.7 465.3 L473.2 464.9 L473.7 464.6 L474.2 464.7 L474.7 465.3 L475.2 465.7 L475.7 465.8 L476.2 465.9 L476.7 466.2 L477.2 466.3 L477.7 466.2 L478.2 466.4 L478.7 466.6 L479.2 466.3 L479.7 465.7 L480.2 465.2 L480.7 465.1 L481.2 465.1 L481.7 465.0 L482.2 465.0 L482.7 465.2 L483.2 465.3 L483.7 465.2 L484.2 465.5 L484.7 466.1 L485.2 466.6 L485.7 466.5 L486.2 466.3 L486.7 466.3 L487.2 466.2 L487.7 466.0 L488.2 465.9 L488.7 465.9 L489.2 465.8 L489.7 465.2 L490.2 464.9 L490.7 465.1 L491.2 465.6 L491.7 465.9 L492.2 466.0 L492.7 465.7 L493.2 465.6 L493.7 465.2 L494.2 464.6 L494.7 464.0 L495.2 463.3 L495.7 462.6 L496.2 461.9 L496.7 461.6 L497.2 461.7 L497.7 461.9 L498.2 462.4 L498.7 463.1 L499.2 463.9 L499.7 464.8 L500.2 465.5 L500.7 466.2 L501.2 466.6 L501.7 466.9 L502.2 467.2 L502.7 466.9 L503.2 466.5 L503.7 465.9 L504.2 465.2 L504.7 465.0 L505.2 465.0 L505.7 465.1 L506.2 465.5 L506.7 466.3 L507.2 467.3 L507.7 468.3 L508.2 469.2 L508.7 469.9 L509.2 470.3 L509.7 470.2 L510.2 470.1 L510.7 469.5 L511.2 468.5 L511.7 467.2 L512.2 465.7 L512.7 464.4 L513.2 463.3 L513.7 462.7 L514.2 462.5 L514.7 463.1 L515.2 464.3 L515.7 465.6 L516.2 466.8 L516.7 467.6 L517.2 467.9 L517.7 467.5 L518.2 466.7 L518.7 464.6 L519.2 461.3 L519.7 457.0 L520.2 452.6 L520.7 448.7 L521.2 446.3 L521.7 445.8 L522.2 447.3 L522.7 450.4 L523.2 454.5 L523.7 458.6 L524.2 462.1 L524.7 464.3 L525.2 465.2 L525.7 465.4 L526.2 465.1 L526.7 463.9 L527.2 461.5 L527.7 457.8 L528.2 453.4 L528.7 448.9 L529.2 445.4 L529.7 443.4 L530.2 443.7 L530.7 447.0 L531.2 452.5 L531.7 459.1 L532.2 465.0 L532.7 469.2 L533.2 471.5 L533.7 472.2 L534.2 472.2 L534.7 471.8 L535.2 470.1 L535.7 466.8 L536.2 461.8 L536.7 455.8 L537.2 450.1 L537.7 445.7 L538.2 443.8 L538.7 444.9 L539.2 449.5 L539.7 456.2 L540.2 463.5 L540.7 469.7 L541.2 473.9 L541.7 475.8 L542.2 476.2 L542.7 476.2 L543.2 475.3 L543.7 472.4 L544.2 467.2 L544.7 459.9 L545.2 451.6 L545.7 444.1 L546.2 439.0 L546.7 437.4 L547.2 440.2 L547.7 447.0 L548.2 456.0 L548.7 465.1 L549.2 472.5 L549.7 477.0 L550.2 478.8 L550.7 479.0 L551.2 478.8 L551.7 477.0 L552.2 472.5 L552.7 464.8 L553.2 454.8 L553.7 444.1 L554.2 435.0 L554.7 429.5 L555.2 428.9 L555.7 433.9 L556.2 443.4 L556.7 455.0 L557.2 465.9 L557.7 474.1 L558.2 478.6 L558.7 480.2 L559.2 480.3 L559.7 479.7 L560.2 476.8 L560.7 470.5 L561.2 460.9 L561.7 449.1 L562.2 437.6 L562.7 428.8 L563.2 424.8 L563.7 426.8 L564.2 434.7 L564.7 446.5 L565.2 459.1 L565.7 470.0 L566.2 477.2 L566.7 480.6 L567.2 481.3 L567.7 481.2 L568.2 479.5 L568.7 474.5 L569.2 465.4 L569.7 453.1 L570.2 440.1 L570.7 429.3 L571.2 423.5 L571.7 424.1 L572.2 430.7 L572.7 441.6 L573.2 454.3 L573.7 466.0 L574.2 474.7 L574.7 479.5 L575.2 481.2 L575.7 481.3 L576.2 480.7 L576.7 477.7 L577.2 471.0 L577.7 460.7 L578.2 448.2 L578.7 436.0 L579.2 426.8 L579.7 423.0 L580.2 425.5 L580.7 434.0 L581.2 446.3 L581.7 459.3 L582.2 470.2 L582.7 477.4 L583.2 480.7 L583.7 481.3 L584.2 481.2 L584.7 479.3 L585.2 473.9 L585.7 464.4 L586.2 451.9 L586.7 438.7 L587.2 428.0 L587.7 422.5 L588.2 423.6 L588.7 430.6 L589.2 441.9 L589.7 454.8 L590.2 466.5 L590.7 475.0 L591.2 479.7 L591.7 481.2 L592.2 481.3 L592.7 480.6 L593.2 477.3 L593.7 470.3 L594.2 459.6 L594.7 446.9 L595.2 434.6 L595.7 425.7 L596.2 422.2 L596.7 425.2 L597.2 434.1 L597.7 446.7 L598.2 459.8 L598.7 470.7 L599.2 477.7 L599.7 480.7 L600.2 481.3 L600.7 481.1 L601.2 479.0 L601.7 473.4 L602.2 463.6 L602.7 451.0 L603.2 437.9 L603.7 427.5 L604.2 422.4 L604.7 423.9 L605.2 431.3 L605.7 442.8 L606.2 455.6 L606.7 467.2 L607.2 475.5 L607.7 479.9 L608.2 481.2 L608.7 481.3 L609.2 480.5 L609.7 477.0 L610.2 469.7 L610.7 458.8 L611.2 446.0 L611.7 433.9 L612.2 425.3 L612.7 422.2 L613.2 425.6 L613.7 434.9 L614.2 447.6 L614.7 460.6 L615.2 471.3 L615.7 478.0 L616.2 480.8 L616.7 481.3 L617.2 481.1 L617.7 478.9 L618.2 473.1 L618.7 463.4 L619.2 451.0 L619.7 438.4 L620.2 428.6 L620.7 424.1 L621.2 425.9 L621.7 433.4 L622.2 444.7 L622.7 457.2 L623.2 468.3 L623.7 476.1 L624.2 480.1 L624.7 481.3 L625.2 481.3 L625.7 480.4 L626.2 476.7 L626.7 469.4 L627.2 458.7 L627.7 446.2 L628.2 434.6 L628.7 426.5 L629.2 424.0 L629.7 427.7 L630.2 437.0 L630.7 449.5 L631.2 462.0 L631.7 472.1 L632.2 478.4 L632.7 480.9 L633.2 481.3 L633.7 481.0 L634.2 478.6 L634.7 472.5 L635.2 462.5 L635.7 449.9 L636.2 437.3 L636.7 427.6 L637.2 423.5 L637.7 425.8 L638.2 433.7 L638.7 445.3 L639.2 457.8 L639.7 468.8 L640.2 476.4 L640.7 480.2 L641.2 481.3 L641.7 481.3 L642.2 480.2 L642.7 476.3 L643.2 468.7 L643.7 457.7 L644.2 445.1 L644.7 433.5 L645.2 425.7 L645.7 423.5 L646.2 427.7 L646.7 437.4 L647.2 450.0 L647.7 462.6 L648.2 472.6 L648.7 478.6 L649.2 481.0 L649.7 481.3 L650.2 480.9 L650.7 478.2 L651.2 471.7 L651.7 461.3 L652.2 448.3 L652.7 435.5 L653.2 426.0 L653.7 422.2 L654.2 424.9 L654.7 433.3 L655.2 445.3 L655.7 458.1 L656.2 469.2 L656.7 476.7 L657.2 480.4 L657.7 481.3 L658.2 481.3 L658.7 480.0 L659.2 475.7 L659.7 467.6 L660.2 456.0 L660.7 443.0 L661.2 431.2 L661.7 423.4 L662.2 421.6 L662.7 426.4 L663.2 436.7 L663.7 449.9 L664.2 462.8 L664.7 472.9 L665.2 478.8 L665.7 481.1 L666.2 481.3 L666.7 480.8 L667.2 477.9 L667.7 471.2 L668.2 460.5 L668.7 447.4 L669.2 434.7 L669.7 425.5 L670.2 422.2 L670.7 425.3 L671.2 434.0 L671.7 446.2 L672.2 459.0 L672.7 469.8 L673.2 477.0 L673.7 480.5 L674.2 481.3 L674.7 481.2 L675.2 479.8 L675.7 475.4 L676.2 467.1 L676.7 455.5 L677.2 442.6 L677.7 431.2 L678.2 423.8 L678.7 422.4 L679.2 427.6 L679.7 438.1 L680.2 451.2 L680.7 463.8 L681.2 473.5 L681.7 479.1 L682.2 481.1 L682.7 481.3 L683.2 480.7 L683.7 477.7 L684.2 470.7 L684.7 459.9 L685.2 447.0 L685.7 434.6 L686.2 425.8 L686.7 422.9 L687.2 426.5 L687.7 435.4 L688.2 447.5 L688.7 460.0 L689.2 470.5 L689.7 477.4 L690.2 480.6 L690.7 481.3 L691.2 481.2 L691.7 479.7 L692.2 475.0 L692.7 466.6 L693.2 455.0 L693.7 442.3 L694.2 431.2 L694.7 424.3 L695.2 423.3 L695.7 428.8 L696.2 439.4 L696.7 452.4 L697.2 464.8 L697.7 474.1 L698.2 479.4 L698.7 481.2 L699.2 481.3 L699.7 480.6 L700.2 477.3 L700.7 469.9 L701.2 458.8 L701.7 445.6 L702.2 433.2 L702.7 424.7 L703.2 422.2 L703.7 426.2 L704.2 435.5 L704.7 447.9 L705.2 460.6 L705.7 471.0 L706.2 477.7 L706.7 480.7 L707.2 481.3 L707.7 481.2 L708.2 479.4 L708.7 474.4 L709.2 465.5 L709.7 453.4 L710.2 440.4 L710.7 429.2 L711.2 422.5 L711.7 422.0 L712.2 428.1 L712.7 439.2 L713.2 452.6 L713.7 465.1 L714.2 474.4 L714.7 479.5 L715.2 481.2 L715.7 481.3 L716.2 480.5 L716.7 476.7 L717.2 468.8 L717.7 457.0 L718.2 443.2 L718.7 430.4 L719.2 421.9 L719.7 419.8 L720.2 424.3 L720.7 434.4 L721.2 447.4 L721.7 460.5 L722.2 471.1 L722.7 477.9 L723.2 480.8 L723.7 481.3 L724.2 481.1 L724.7 479.1 L725.2 473.6 L725.7 464.1 L726.2 451.3 L726.7 437.8 L727.2 426.4 L727.7 419.8 L728.2 419.7 L728.7 426.4 L729.2 438.3 L729.7 452.3 L730.2 465.2 L730.7 474.6 L731.2 479.7 L731.7 481.2 L732.2 481.3 L732.7 480.3 L733.2 476.3 L733.7 468.1 L734.2 456.1 L734.7 442.2 L735.2 429.7 L735.7 421.5 L736.2 419.9 L736.7 424.9 L737.2 435.2 L737.7 448.3 L738.2 461.3 L738.7 471.7 L739.2 478.2 L739.7 480.9 L740.2 481.3 L740.7 481.1 L741.2 478.9 L741.7 473.3 L742.2 463.7 L742.7 451.2 L743.2 438.0 L743.7 427.1 L744.2 421.1 L744.7 421.4 L745.2 428.2 L745.7 439.7 L746.2 453.1 L746.7 465.5"/></defs>
<path d="M104.7 457.8 L105.2 449.1 L105.7 442.2 L106.2 438.8 L106.7 439.9 L107.2 445.2 L107.7 453.4Z M113.2 452.1 L113.7 444.6 L114.2 440.4 L114.7 440.5 L115.2 444.6 L115.7 451.8Z M121.2 457.1 L121.7 448.7 L122.2 442.2 L122.7 439.2 L123.2 440.6 L123.7 446.1 L124.2 454.4Z M129.7 451.0 L130.2 443.6 L130.7 439.5 L131.2 439.9 L131.7 444.3 L132.2 451.8Z M137.7 455.9 L138.2 447.4 L138.7 440.9 L139.2 438.2 L139.7 439.9 L140.2 445.8 L140.7 454.3Z M146.2 449.7 L146.7 442.3 L147.2 438.4 L147.7 439.1 L148.2 443.9 L148.7 451.7Z M154.2 455.6 L154.7 447.2 L155.2 441.1 L155.7 438.6 L156.2 440.6 L156.7 446.7 L157.2 455.3Z M162.2 458.4 L162.7 449.5 L163.2 442.3 L163.7 438.8 L164.2 439.8 L164.7 444.8 L165.2 452.6Z M170.7 455.3 L171.2 447.2 L171.7 441.3 L172.2 439.1 L172.7 441.4 L173.2 447.6 L173.7 456.2Z M178.7 457.8 L179.2 448.9 L179.7 442.0 L180.2 438.7 L180.7 440.0 L181.2 445.2 L181.7 453.2Z M187.2 453.7 L187.7 445.2 L188.2 439.3 L188.7 437.4 L189.2 440.1 L189.7 446.8 L190.2 455.8Z M195.2 456.9 L195.7 448.0 L196.2 441.2 L196.7 438.2 L197.2 439.7 L197.7 445.3 L198.2 453.4Z M203.7 453.9 L204.2 445.8 L204.7 440.3 L205.2 438.7 L205.7 441.6 L206.2 448.3 L206.7 457.1Z M211.7 456.6 L212.2 447.8 L212.7 441.3 L213.2 438.6 L213.7 440.5 L214.2 446.2 L214.7 454.3Z M220.2 455.7 L220.7 448.5 L221.2 443.7 L221.7 442.5 L222.2 444.9 L222.7 450.3 L223.2 457.4Z M228.7 459.4 L229.2 454.5 L229.7 451.7 L230.2 451.5 L230.7 453.4 L231.2 456.9 L231.7 461.1Z M236.7 463.8 L237.2 460.6 L237.7 458.3 L238.2 457.2 L238.7 457.5 L239.2 458.8 L239.7 461.0 L240.2 463.6Z M520.2 452.6 L520.7 448.7 L521.2 446.3 L521.7 445.8 L522.2 447.3 L522.7 450.4 L523.2 454.5Z M528.2 453.4 L528.7 448.9 L529.2 445.4 L529.7 443.4 L530.2 443.7 L530.7 447.0 L531.2 452.5Z M536.7 455.8 L537.2 450.1 L537.7 445.7 L538.2 443.8 L538.7 444.9 L539.2 449.5 L539.7 456.2Z M545.2 451.6 L545.7 444.1 L546.2 439.0 L546.7 437.4 L547.2 440.2 L547.7 447.0 L548.2 456.0Z M553.7 444.1 L554.2 435.0 L554.7 429.5 L555.2 428.9 L555.7 433.9 L556.2 443.4Z M561.7 449.1 L562.2 437.6 L562.7 428.8 L563.2 424.8 L563.7 426.8 L564.2 434.7 L564.7 446.5Z M570.2 440.1 L570.7 429.3 L571.2 423.5 L571.7 424.1 L572.2 430.7 L572.7 441.6Z M578.2 448.2 L578.7 436.0 L579.2 426.8 L579.7 423.0 L580.2 425.5 L580.7 434.0 L581.2 446.3Z M586.7 438.7 L587.2 428.0 L587.7 422.5 L588.2 423.6 L588.7 430.6 L589.2 441.9Z M594.7 446.9 L595.2 434.6 L595.7 425.7 L596.2 422.2 L596.7 425.2 L597.2 434.1 L597.7 446.7Z M602.7 451.0 L603.2 437.9 L603.7 427.5 L604.2 422.4 L604.7 423.9 L605.2 431.3 L605.7 442.8Z M611.2 446.0 L611.7 433.9 L612.2 425.3 L612.7 422.2 L613.2 425.6 L613.7 434.9 L614.2 447.6Z M619.2 451.0 L619.7 438.4 L620.2 428.6 L620.7 424.1 L621.2 425.9 L621.7 433.4 L622.2 444.7Z M627.7 446.2 L628.2 434.6 L628.7 426.5 L629.2 424.0 L629.7 427.7 L630.2 437.0 L630.7 449.5Z M635.7 449.9 L636.2 437.3 L636.7 427.6 L637.2 423.5 L637.7 425.8 L638.2 433.7 L638.7 445.3Z M644.2 445.1 L644.7 433.5 L645.2 425.7 L645.7 423.5 L646.2 427.7 L646.7 437.4 L647.2 450.0Z M652.2 448.3 L652.7 435.5 L653.2 426.0 L653.7 422.2 L654.2 424.9 L654.7 433.3 L655.2 445.3Z M660.7 443.0 L661.2 431.2 L661.7 423.4 L662.2 421.6 L662.7 426.4 L663.2 436.7 L663.7 449.9Z M668.7 447.4 L669.2 434.7 L669.7 425.5 L670.2 422.2 L670.7 425.3 L671.2 434.0 L671.7 446.2Z M677.2 442.6 L677.7 431.2 L678.2 423.8 L678.7 422.4 L679.2 427.6 L679.7 438.1 L680.2 451.2Z M685.2 447.0 L685.7 434.6 L686.2 425.8 L686.7 422.9 L687.2 426.5 L687.7 435.4 L688.2 447.5Z M693.7 442.3 L694.2 431.2 L694.7 424.3 L695.2 423.3 L695.7 428.8 L696.2 439.4Z M701.7 445.6 L702.2 433.2 L702.7 424.7 L703.2 422.2 L703.7 426.2 L704.2 435.5 L704.7 447.9Z M710.2 440.4 L710.7 429.2 L711.2 422.5 L711.7 422.0 L712.2 428.1 L712.7 439.2Z M718.2 443.2 L718.7 430.4 L719.2 421.9 L719.7 419.8 L720.2 424.3 L720.7 434.4 L721.2 447.4Z M726.7 437.8 L727.2 426.4 L727.7 419.8 L728.2 419.7 L728.7 426.4 L729.2 438.3Z M734.7 442.2 L735.2 429.7 L735.7 421.5 L736.2 419.9 L736.7 424.9 L737.2 435.2 L737.7 448.3Z M743.2 438.0 L743.7 427.1 L744.2 421.1 L744.7 421.4 L745.2 428.2 L745.7 439.7Z" fill="#1818e8" fill-opacity="0.38" stroke="none"/>
<path d="M104.2 466.4 L104.7 457.8 L105.2 449.1 L105.7 442.2 L106.2 438.8 L106.7 439.9 L107.2 445.2 L107.7 453.4 L108.2 462.5 L108.7 470.4 L109.2 475.8 L109.7 478.4 L110.2 479.0 L110.7 479.0 L111.2 478.0 L111.7 474.8 L112.2 468.9 L112.7 460.8 L113.2 452.1 L113.7 444.6 L114.2 440.4 L114.7 440.5 L115.2 444.6 L115.7 451.8 L116.2 460.3 L116.7 468.2 L117.2 474.2 L117.7 477.7 L118.2 478.9 L118.7 479.0 L119.2 478.7 L119.7 476.8 L120.2 472.4 L120.7 465.6 L121.2 457.1 L121.7 448.7 L122.2 442.2 L122.7 439.2 L123.2 440.6 L123.7 446.1 L124.2 454.4 L124.7 463.3 L125.2 470.9 L125.7 476.1 L126.2 478.5 L126.7 479.0 L127.2 479.0 L127.7 477.8 L128.2 474.4 L128.7 468.2 L129.2 459.9 L129.7 451.0 L130.2 443.6 L130.7 439.5 L131.2 439.9 L131.7 444.3 L132.2 451.8 L132.7 460.5 L133.2 468.5 L133.7 474.4 L134.2 477.8 L134.7 478.9 L135.2 479.0 L135.7 478.6 L136.2 476.5 L136.7 471.9 L137.2 464.7 L137.7 455.9 L138.2 447.4 L138.7 440.9 L139.2 438.2 L139.7 439.9 L140.2 445.8 L140.7 454.3 L141.2 463.5 L141.7 471.2 L142.2 476.2 L142.7 478.6 L143.2 479.0 L143.7 478.9 L144.2 477.7 L144.7 474.0 L145.2 467.4 L145.7 458.8 L146.2 449.7 L146.7 442.3 L147.2 438.4 L147.7 439.1 L148.2 443.9 L148.7 451.7 L149.2 460.6 L149.7 468.7 L150.2 474.6 L150.7 477.9 L151.2 479.0 L151.7 479.0 L152.2 478.5 L152.7 476.3 L153.2 471.6 L153.7 464.3 L154.2 455.6 L154.7 447.2 L155.2 441.1 L155.7 438.6 L156.2 440.6 L156.7 446.7 L157.2 455.3 L157.7 464.2 L158.2 471.7 L158.7 476.5 L159.2 478.6 L159.7 479.0 L160.2 478.9 L160.7 477.5 L161.2 473.7 L161.7 467.1 L162.2 458.4 L162.7 449.5 L163.2 442.3 L163.7 438.8 L164.2 439.8 L164.7 444.8 L165.2 452.6 L165.7 461.4 L166.2 469.3 L166.7 475.0 L167.2 478.0 L167.7 479.0 L168.2 479.0 L168.7 478.5 L169.2 476.1 L169.7 471.3 L170.2 464.0 L170.7 455.3 L171.2 447.2 L171.7 441.3 L172.2 439.1 L172.7 441.4 L173.2 447.6 L173.7 456.2 L174.2 465.0 L174.7 472.2 L175.2 476.8 L175.7 478.7 L176.2 479.0 L176.7 478.9 L177.2 477.4 L177.7 473.3 L178.2 466.5 L178.7 457.8 L179.2 448.9 L179.7 442.0 L180.2 438.7 L180.7 440.0 L181.2 445.2 L181.7 453.2 L182.2 462.0 L182.7 469.8 L183.2 475.3 L183.7 478.2 L184.2 479.0 L184.7 479.0 L185.2 478.4 L185.7 475.8 L186.2 470.5 L186.7 462.7 L187.2 453.7 L187.7 445.2 L188.2 439.3 L188.7 437.4 L189.2 440.1 L189.7 446.8 L190.2 455.8 L190.7 464.9 L191.2 472.3 L191.7 476.9 L192.2 478.7 L192.7 479.0 L193.2 478.8 L193.7 477.1 L194.2 472.9 L194.7 465.8 L195.2 456.9 L195.7 448.0 L196.2 441.2 L196.7 438.2 L197.2 439.7 L197.7 445.3 L198.2 453.4 L198.7 462.3 L199.2 470.1 L199.7 475.5 L200.2 478.2 L200.7 479.0 L201.2 479.0 L201.7 478.3 L202.2 475.6 L202.7 470.3 L203.2 462.6 L203.7 453.9 L204.2 445.8 L204.7 440.3 L205.2 438.7 L205.7 441.6 L206.2 448.3 L206.7 457.1 L207.2 465.9 L207.7 472.9 L208.2 477.1 L208.7 478.8 L209.2 479.0 L209.7 478.8 L210.2 477.0 L210.7 472.6 L211.2 465.5 L211.7 456.6 L212.2 447.8 L212.7 441.3 L213.2 438.6 L213.7 440.5 L214.2 446.2 L214.7 454.3 L215.2 463.1 L215.7 470.6 L216.2 475.8 L216.7 478.4 L217.2 479.0 L217.7 479.0 L218.2 478.3 L218.7 475.7 L219.2 470.7 L219.7 463.7 L220.2 455.7 L220.7 448.5 L221.2 443.7 L221.7 442.5 L222.2 444.9 L222.7 450.3 L223.2 457.4 L223.7 464.6 L224.2 470.7 L224.7 474.8 L225.2 476.8 L225.7 477.2 L226.2 477.2 L226.7 476.5 L227.2 474.4 L227.7 470.5 L228.2 465.1 L228.7 459.4 L229.2 454.5 L229.7 451.7 L230.2 451.5 L230.7 453.4 L231.2 456.9 L231.7 461.1 L232.2 465.4 L232.7 469.0 L233.2 471.3 L233.7 472.5 L234.2 472.7 L234.7 472.6 L235.2 471.7 L235.7 469.8 L236.2 467.0 L236.7 463.8 L237.2 460.6 L237.7 458.3 L238.2 457.2 L238.7 457.5 L239.2 458.8 L239.7 461.0 L240.2 463.6 L240.7 466.2 L241.2 468.4 L241.7 469.9 L242.2 470.6 L242.7 470.7 L243.2 470.4 L243.7 469.5 L244.2 468.0 L244.7 466.0 L245.2 463.8 L245.7 461.9 L246.2 460.6 L246.7 460.2 L247.2 460.6 L247.7 461.7 L248.2 463.2 L248.7 465.0 L249.2 466.8 L249.7 468.2 L250.2 469.2 L250.7 469.6 L251.2 469.8 L251.7 469.4 L252.2 468.6 L252.7 467.4 L253.2 466.0 L253.7 464.6 L254.2 463.4 L254.7 462.7 L255.2 462.6 L255.7 463.0 L256.2 463.8 L256.7 464.9 L257.2 466.1 L257.7 467.3 L258.2 468.2 L258.7 468.8 L259.2 469.1 L259.7 469.1 L260.2 468.7 L260.7 468.0 L261.2 467.0 L261.7 465.9 L262.2 464.9 L262.7 464.1 L263.2 463.7 M496.7 461.6 L497.2 461.7 L497.7 461.9 L498.2 462.4 L498.7 463.1 L499.2 463.9 L499.7 464.8 L500.2 465.5 L500.7 466.2 L501.2 466.6 L501.7 466.9 M505.2 465.0 L505.7 465.1 L506.2 465.5 L506.7 466.3 L507.2 467.3 L507.7 468.3 L508.2 469.2 L508.7 469.9 L509.2 470.3 L509.7 470.2 L510.2 470.1 L510.7 469.5 L511.2 468.5 L511.7 467.2 L512.2 465.7 L512.7 464.4 L513.2 463.3 L513.7 462.7 L514.2 462.5 L514.7 463.1 L515.2 464.3 L515.7 465.6 L516.2 466.8 L516.7 467.6 L517.2 467.9 L517.7 467.5 L518.2 466.7 L518.7 464.6 L519.2 461.3 L519.7 457.0 L520.2 452.6 L520.7 448.7 L521.2 446.3 L521.7 445.8 L522.2 447.3 L522.7 450.4 L523.2 454.5 L523.7 458.6 L524.2 462.1 L524.7 464.3 L525.2 465.2 L525.7 465.4 L526.2 465.1 L526.7 463.9 L527.2 461.5 L527.7 457.8 L528.2 453.4 L528.7 448.9 L529.2 445.4 L529.7 443.4 L530.2 443.7 L530.7 447.0 L531.2 452.5 L531.7 459.1 L532.2 465.0 L532.7 469.2 L533.2 471.5 L533.7 472.2 L534.2 472.2 L534.7 471.8 L535.2 470.1 L535.7 466.8 L536.2 461.8 L536.7 455.8 L537.2 450.1 L537.7 445.7 L538.2 443.8 L538.7 444.9 L539.2 449.5 L539.7 456.2 L540.2 463.5 L540.7 469.7 L541.2 473.9 L541.7 475.8 L542.2 476.2 L542.7 476.2 L543.2 475.3 L543.7 472.4 L544.2 467.2 L544.7 459.9 L545.2 451.6 L545.7 444.1 L546.2 439.0 L546.7 437.4 L547.2 440.2 L547.7 447.0 L548.2 456.0 L548.7 465.1 L549.2 472.5 L549.7 477.0 L550.2 478.8 L550.7 479.0 L551.2 478.8 L551.7 477.0 L552.2 472.5 L552.7 464.8 L553.2 454.8 L553.7 444.1 L554.2 435.0 L554.7 429.5 L555.2 428.9 L555.7 433.9 L556.2 443.4 L556.7 455.0 L557.2 465.9 L557.7 474.1 L558.2 478.6 L558.7 480.2 L559.2 480.3 L559.7 479.7 L560.2 476.8 L560.7 470.5 L561.2 460.9 L561.7 449.1 L562.2 437.6 L562.7 428.8 L563.2 424.8 L563.7 426.8 L564.2 434.7 L564.7 446.5 L565.2 459.1 L565.7 470.0 L566.2 477.2 L566.7 480.6 L567.2 481.3 L567.7 481.2 L568.2 479.5 L568.7 474.5 L569.2 465.4 L569.7 453.1 L570.2 440.1 L570.7 429.3 L571.2 423.5 L571.7 424.1 L572.2 430.7 L572.7 441.6 L573.2 454.3 L573.7 466.0 L574.2 474.7 L574.7 479.5 L575.2 481.2 L575.7 481.3 L576.2 480.7 L576.7 477.7 L577.2 471.0 L577.7 460.7 L578.2 448.2 L578.7 436.0 L579.2 426.8 L579.7 423.0 L580.2 425.5 L580.7 434.0 L581.2 446.3 L581.7 459.3 L582.2 470.2 L582.7 477.4 L583.2 480.7 L583.7 481.3 L584.2 481.2 L584.7 479.3 L585.2 473.9 L585.7 464.4 L586.2 451.9 L586.7 438.7 L587.2 428.0 L587.7 422.5 L588.2 423.6 L588.7 430.6 L589.2 441.9 L589.7 454.8 L590.2 466.5 L590.7 475.0 L591.2 479.7 L591.7 481.2 L592.2 481.3 L592.7 480.6 L593.2 477.3 L593.7 470.3 L594.2 459.6 L594.7 446.9 L595.2 434.6 L595.7 425.7 L596.2 422.2 L596.7 425.2 L597.2 434.1 L597.7 446.7 L598.2 459.8 L598.7 470.7 L599.2 477.7 L599.7 480.7 L600.2 481.3 L600.7 481.1 L601.2 479.0 L601.7 473.4 L602.2 463.6 L602.7 451.0 L603.2 437.9 L603.7 427.5 L604.2 422.4 L604.7 423.9 L605.2 431.3 L605.7 442.8 L606.2 455.6 L606.7 467.2 L607.2 475.5 L607.7 479.9 L608.2 481.2 L608.7 481.3 L609.2 480.5 L609.7 477.0 L610.2 469.7 L610.7 458.8 L611.2 446.0 L611.7 433.9 L612.2 425.3 L612.7 422.2 L613.2 425.6 L613.7 434.9 L614.2 447.6 L614.7 460.6 L615.2 471.3 L615.7 478.0 L616.2 480.8 L616.7 481.3 L617.2 481.1 L617.7 478.9 L618.2 473.1 L618.7 463.4 L619.2 451.0 L619.7 438.4 L620.2 428.6 L620.7 424.1 L621.2 425.9 L621.7 433.4 L622.2 444.7 L622.7 457.2 L623.2 468.3 L623.7 476.1 L624.2 480.1 L624.7 481.3 L625.2 481.3 L625.7 480.4 L626.2 476.7 L626.7 469.4 L627.2 458.7 L627.7 446.2 L628.2 434.6 L628.7 426.5 L629.2 424.0 L629.7 427.7 L630.2 437.0 L630.7 449.5 L631.2 462.0 L631.7 472.1 L632.2 478.4 L632.7 480.9 L633.2 481.3 L633.7 481.0 L634.2 478.6 L634.7 472.5 L635.2 462.5 L635.7 449.9 L636.2 437.3 L636.7 427.6 L637.2 423.5 L637.7 425.8 L638.2 433.7 L638.7 445.3 L639.2 457.8 L639.7 468.8 L640.2 476.4 L640.7 480.2 L641.2 481.3 L641.7 481.3 L642.2 480.2 L642.7 476.3 L643.2 468.7 L643.7 457.7 L644.2 445.1 L644.7 433.5 L645.2 425.7 L645.7 423.5 L646.2 427.7 L646.7 437.4 L647.2 450.0 L647.7 462.6 L648.2 472.6 L648.7 478.6 L649.2 481.0 L649.7 481.3 L650.2 480.9 L650.7 478.2 L651.2 471.7 L651.7 461.3 L652.2 448.3 L652.7 435.5 L653.2 426.0 L653.7 422.2 L654.2 424.9 L654.7 433.3 L655.2 445.3 L655.7 458.1 L656.2 469.2 L656.7 476.7 L657.2 480.4 L657.7 481.3 L658.2 481.3 L658.7 480.0 L659.2 475.7 L659.7 467.6 L660.2 456.0 L660.7 443.0 L661.2 431.2 L661.7 423.4 L662.2 421.6 L662.7 426.4 L663.2 436.7 L663.7 449.9 L664.2 462.8 L664.7 472.9 L665.2 478.8 L665.7 481.1 L666.2 481.3 L666.7 480.8 L667.2 477.9 L667.7 471.2 L668.2 460.5 L668.7 447.4 L669.2 434.7 L669.7 425.5 L670.2 422.2 L670.7 425.3 L671.2 434.0 L671.7 446.2 L672.2 459.0 L672.7 469.8 L673.2 477.0 L673.7 480.5 L674.2 481.3 L674.7 481.2 L675.2 479.8 L675.7 475.4 L676.2 467.1 L676.7 455.5 L677.2 442.6 L677.7 431.2 L678.2 423.8 L678.7 422.4 L679.2 427.6 L679.7 438.1 L680.2 451.2 L680.7 463.8 L681.2 473.5 L681.7 479.1 L682.2 481.1 L682.7 481.3 L683.2 480.7 L683.7 477.7 L684.2 470.7 L684.7 459.9 L685.2 447.0 L685.7 434.6 L686.2 425.8 L686.7 422.9 L687.2 426.5 L687.7 435.4 L688.2 447.5 L688.7 460.0 L689.2 470.5 L689.7 477.4 L690.2 480.6 L690.7 481.3 L691.2 481.2 L691.7 479.7 L692.2 475.0 L692.7 466.6 L693.2 455.0 L693.7 442.3 L694.2 431.2 L694.7 424.3 L695.2 423.3 L695.7 428.8 L696.2 439.4 L696.7 452.4 L697.2 464.8 L697.7 474.1 L698.2 479.4 L698.7 481.2 L699.2 481.3 L699.7 480.6 L700.2 477.3 L700.7 469.9 L701.2 458.8 L701.7 445.6 L702.2 433.2 L702.7 424.7 L703.2 422.2 L703.7 426.2 L704.2 435.5 L704.7 447.9 L705.2 460.6 L705.7 471.0 L706.2 477.7 L706.7 480.7 L707.2 481.3 L707.7 481.2 L708.2 479.4 L708.7 474.4 L709.2 465.5 L709.7 453.4 L710.2 440.4 L710.7 429.2 L711.2 422.5 L711.7 422.0 L712.2 428.1 L712.7 439.2 L713.2 452.6 L713.7 465.1 L714.2 474.4 L714.7 479.5 L715.2 481.2 L715.7 481.3 L716.2 480.5 L716.7 476.7 L717.2 468.8 L717.7 457.0 L718.2 443.2 L718.7 430.4 L719.2 421.9 L719.7 419.8 L720.2 424.3 L720.7 434.4 L721.2 447.4 L721.7 460.5 L722.2 471.1 L722.7 477.9 L723.2 480.8 L723.7 481.3 L724.2 481.1 L724.7 479.1 L725.2 473.6 L725.7 464.1 L726.2 451.3 L726.7 437.8 L727.2 426.4 L727.7 419.8 L728.2 419.7 L728.7 426.4 L729.2 438.3 L729.7 452.3 L730.2 465.2 L730.7 474.6 L731.2 479.7 L731.7 481.2 L732.2 481.3 L732.7 480.3 L733.2 476.3 L733.7 468.1 L734.2 456.1 L734.7 442.2 L735.2 429.7 L735.7 421.5 L736.2 419.9 L736.7 424.9 L737.2 435.2 L737.7 448.3 L738.2 461.3 L738.7 471.7 L739.2 478.2 L739.7 480.9 L740.2 481.3 L740.7 481.1 L741.2 478.9 L741.7 473.3 L742.2 463.7 L742.7 451.2 L743.2 438.0 L743.7 427.1 L744.2 421.1 L744.7 421.4 L745.2 428.2 L745.7 439.7 L746.2 453.1 L746.7 465.5" fill="none" stroke="#1a1af0" stroke-opacity="0.42" stroke-width="2.8" stroke-linejoin="round"/>
<path d="M263.2 463.7 L263.7 463.7 L264.2 464.1 L264.7 464.7 L265.2 465.5 L265.7 466.5 L266.2 467.3 L266.7 468.0 L267.2 468.3 L267.7 468.5 L268.2 468.4 L268.7 468.0 L269.2 467.3 L269.7 466.6 L270.2 465.9 L270.7 465.1 L271.2 464.5 L271.7 464.3 L272.2 464.4 L272.7 464.7 L273.2 465.3 L273.7 466.1 L274.2 466.8 L274.7 467.3 L275.2 467.6 L275.7 467.9 L276.2 468.1 L276.7 468.0 L277.2 467.6 L277.7 467.1 L278.2 466.5 L278.7 465.9 L279.2 465.3 L279.7 465.0 L280.2 465.0 L280.7 465.0 L281.2 465.0 L281.7 465.3 L282.2 466.0 L282.7 466.6 L283.2 467.1 L283.7 467.5 L284.2 467.7 L284.7 467.7 L285.2 467.2 L285.7 467.0 L286.2 466.9 L286.7 466.7 L287.2 466.1 L287.7 465.6 L288.2 465.4 L288.7 465.3 L289.2 465.1 L289.7 465.4 L290.2 465.9 L290.7 466.1 L291.2 465.9 L291.7 465.9 L292.2 466.2 L292.7 466.6 L293.2 466.5 L293.7 466.4 L294.2 466.3 L294.7 465.9 L295.2 465.3 L295.7 465.0 L296.2 465.2 L296.7 465.3 L297.2 465.1 L297.7 464.8 L298.2 465.0 L298.7 465.2 L299.2 465.4 L299.7 465.7 L300.2 466.3 L300.7 466.5 L301.2 466.1 L301.7 465.8 L302.2 465.9 L302.7 466.1 L303.2 465.9 L303.7 465.5 L304.2 465.3 L304.7 465.0 L305.2 464.7 L305.7 464.6 L306.2 465.1 L306.7 465.6 L307.2 465.6 L307.7 465.6 L308.2 465.8 L308.7 466.2 L309.2 466.4 L309.7 466.4 L310.2 466.6 L310.7 466.6 L311.2 466.1 L311.7 465.5 L312.2 465.5 L312.7 465.7 L313.2 465.6 L313.7 465.3 L314.2 465.3 L314.7 465.3 L315.2 465.3 L315.7 465.5 L316.2 466.0 L316.7 466.6 L317.2 466.6 L317.7 466.2 L318.2 466.1 L318.7 466.3 L319.2 466.3 L319.7 466.0 L320.2 465.8 L320.7 465.6 L321.2 465.2 L321.7 464.7 L322.2 464.7 L322.7 465.1 L323.2 465.4 L323.7 465.4 L324.2 465.5 L324.7 465.8 L325.2 466.0 L325.7 466.1 L326.2 466.4 L326.7 466.7 L327.2 466.6 L327.7 466.0 L328.2 465.6 L328.7 465.6 L329.2 465.5 L329.7 465.2 L330.2 465.0 L330.7 465.0 L331.2 464.9 L331.7 464.8 L332.2 465.0 L332.7 465.7 L333.2 466.1 L333.7 466.1 L334.2 465.9 L334.7 466.0 L335.2 466.2 L335.7 466.1 L336.2 466.0 L336.7 466.2 L337.2 466.0 L337.7 465.4 L338.2 464.9 L338.7 465.1 L339.2 465.5 L339.7 465.5 L340.2 465.5 L340.7 465.7 L341.2 465.8 L341.7 465.8 L342.2 466.0 L342.7 466.5 L343.2 466.9 L343.7 466.6 L344.2 466.1 L344.7 465.9 L345.2 465.8 L345.7 465.6 L346.2 465.3 L346.7 465.2 L347.2 465.2 L347.7 464.8 L348.2 464.6 L348.7 465.0 L349.2 465.7 L349.7 466.0 L350.2 466.0 L350.7 466.2 L351.2 466.3 L351.7 466.3 L352.2 466.2 L352.7 466.3 L353.2 466.4 L353.7 466.0 L354.2 465.3 L354.7 464.9 L355.2 465.0 L355.7 465.0 L356.2 465.0 L356.7 465.2 L357.2 465.4 L357.7 465.4 L358.2 465.4 L358.7 465.9 L359.2 466.5 L359.7 466.7 L360.2 466.5 L360.7 466.2 L361.2 466.2 L361.7 466.0 L362.2 465.8 L362.7 465.7 L363.2 465.8 L363.7 465.6 L364.2 465.0 L364.7 464.9 L365.2 465.3 L365.7 465.7 L366.2 465.8 L366.7 465.9 L367.2 466.1 L367.7 466.1 L368.2 465.9 L368.7 466.0 L369.2 466.3 L369.7 466.4 L370.2 465.8 L370.7 465.3 L371.2 465.1 L371.7 465.1 L372.2 464.9 L372.7 464.9 L373.2 465.2 L373.7 465.3 L374.2 465.2 L374.7 465.2 L375.2 465.8 L375.7 466.4 L376.2 466.5 L376.7 466.4 L377.2 466.4 L377.7 466.3 L378.2 465.9 L378.7 465.7 L379.2 465.8 L379.7 465.7 L380.2 465.2 L380.7 464.7 L381.2 464.7 L381.7 465.0 L382.2 465.2 L382.7 465.4 L383.2 465.8 L383.7 466.1 L384.2 466.0 L384.7 466.0 L385.2 466.3 L385.7 466.7 L386.2 466.6 L386.7 466.2 L387.2 465.9 L387.7 465.7 L388.2 465.4 L388.7 465.2 L389.2 465.4 L389.7 465.7 L390.2 465.5 L390.7 465.2 L391.2 465.4 L391.7 465.9 L392.2 466.3 L392.7 466.4 L393.2 466.5 L393.7 466.6 L394.2 466.3 L394.7 465.9 L395.2 465.9 L395.7 466.0 L396.2 465.8 L396.7 465.2 L397.2 464.8 L397.7 464.8 L398.2 464.8 L398.7 464.9 L399.2 465.3 L399.7 465.7 L400.2 465.8 L400.7 465.6 L401.2 465.7 L401.7 466.2 L402.2 466.4 L402.7 466.3 L403.2 466.0 L403.7 465.9 L404.2 465.5 L404.7 465.0 L405.2 465.0 L405.7 465.2 L406.2 465.3 L406.7 465.0 L407.2 464.8 L407.7 465.1 L408.2 465.6 L408.7 465.8 L409.2 466.2 L409.7 466.5 L410.2 466.6 L410.7 466.2 L411.2 466.0 L411.7 466.2 L412.2 466.4 L412.7 466.1 L413.2 465.6 L413.7 465.4 L414.2 465.2 L414.7 465.1 L415.2 465.2 L415.7 465.6 L416.2 466.0 L416.7 465.9 L417.2 465.7 L417.7 466.0 L418.2 466.4 L418.7 466.6 L419.2 466.5 L419.7 466.5 L420.2 466.3 L420.7 465.7 L421.2 465.2 L421.7 465.3 L422.2 465.4 L422.7 465.2 L423.2 464.9 L423.7 464.8 L424.2 465.1 L424.7 465.3 L425.2 465.6 L425.7 466.1 L426.2 466.5 L426.7 466.4 L427.2 466.1 L427.7 466.1 L428.2 466.4 L428.7 466.3 L429.2 465.9 L429.7 465.6 L430.2 465.3 L430.7 464.9 L431.2 464.6 L431.7 464.8 L432.2 465.3 L432.7 465.5 L433.2 465.3 L433.7 465.3 L434.2 465.7 L434.7 466.0 L435.2 466.1 L435.7 466.3 L436.2 466.5 L436.7 466.2 L437.2 465.6 L437.7 465.4 L438.2 465.7 L438.7 465.8 L439.2 465.5 L439.7 465.2 L440.2 465.3 L440.7 465.3 L441.2 465.2 L441.7 465.6 L442.2 466.3 L442.7 466.5 L443.2 466.3 L443.7 466.1 L444.2 466.3 L444.7 466.4 L445.2 466.3 L445.7 466.1 L446.2 465.9 L446.7 465.5 L447.2 464.9 L447.7 464.7 L448.2 464.9 L448.7 465.3 L449.2 465.2 L449.7 465.2 L450.2 465.5 L450.7 465.8 L451.2 465.9 L451.7 466.2 L452.2 466.7 L452.7 466.8 L453.2 466.3 L453.7 465.8 L454.2 465.7 L454.7 465.7 L455.2 465.5 L455.7 465.2 L456.2 465.1 L456.7 465.0 L457.2 464.7 L457.7 464.8 L458.2 465.3 L458.7 466.0 L459.2 466.1 L459.7 466.0 L460.2 466.1 L460.7 466.4 L461.2 466.4 L461.7 466.3 L462.2 466.4 L462.7 466.4 L463.2 465.8 L463.7 465.2 L464.2 465.1 L464.7 465.4 L465.2 465.5 L465.7 465.4 L466.2 465.4 L466.7 465.6 L467.2 465.6 L467.7 465.6 L468.2 466.0 L468.7 466.6 L469.2 466.5 L469.7 466.1 L470.2 465.8 L470.7 465.8 L471.2 465.7 L471.7 465.4 L472.2 465.3 L472.7 465.3 L473.2 464.9 L473.7 464.6 L474.2 464.7 L474.7 465.3 L475.2 465.7 L475.7 465.8 L476.2 465.9 L476.7 466.2 L477.2 466.3 L477.7 466.2 L478.2 466.4 L478.7 466.6 L479.2 466.3 L479.7 465.7 L480.2 465.2 L480.7 465.1 L481.2 465.1 L481.7 465.0 L482.2 465.0 L482.7 465.2 L483.2 465.3 L483.7 465.2 L484.2 465.5 L484.7 466.1 L485.2 466.6 L485.7 466.5 L486.2 466.3 L486.7 466.3 L487.2 466.2 L487.7 466.0 L488.2 465.9 L488.7 465.9 L489.2 465.8 L489.7 465.2 L490.2 464.9 L490.7 465.1 L491.2 465.6 L491.7 465.9 L492.2 466.0 L492.7 465.7 L493.2 465.6 L493.7 465.2 L494.2 464.6 L494.7 464.0 L495.2 463.3 L495.7 462.6 L496.2 461.9 L496.7 461.6 M501.7 466.9 L502.2 467.2 L502.7 466.9 L503.2 466.5 L503.7 465.9 L504.2 465.2 L504.7 465.0 L505.2 465.0" fill="none" stroke="#1a1af0" stroke-opacity="0.22" stroke-width="2.4" stroke-linejoin="round"/>
<use href="#w4" fill="none" stroke="#0b0b6a" stroke-width="1.3" stroke-linejoin="round"/>
<rect x="103.4" y="414.5" width="644.3" height="77.7" fill="none" stroke="#555555" stroke-width="1.05"/>
<path d="M189.3 414.5 v6.5 M189.3 492.2 v-6.5 M275.2 414.5 v6.5 M275.2 492.2 v-6.5 M361.1 414.5 v6.5 M361.1 492.2 v-6.5 M447.0 414.5 v6.5 M447.0 492.2 v-6.5 M532.9 414.5 v6.5 M532.9 492.2 v-6.5 M618.8 414.5 v6.5 M618.8 492.2 v-6.5 M704.7 414.5 v6.5 M704.7 492.2 v-6.5 M103.4 453.4 h6.5 M747.7 453.4 h-6.5" stroke="#555555" stroke-width="1.05" fill="none"/>
</svg>
<div class="yt" style="top:-1.8px">0.15</div>
<div class="yt" style="top:37.1px">0.075</div>
<div class="yt" style="top:76.1px">0</div>
<div class="yt" style="top:100.5px">0.15</div>
<div class="yt" style="top:139.4px">0.075</div>
<div class="yt" style="top:178.4px">0</div>
<div class="yt" style="top:200.5px">0.15</div>
<div class="yt" style="top:239.4px">0.075</div>
<div class="yt" style="top:278.4px">0</div>
<div class="yt" style="top:300.5px">0.15</div>
<div class="yt" style="top:339.4px">0.075</div>
<div class="yt" style="top:378.4px">0</div>
<div class="yt" style="top:400.5px">0.15</div>
<div class="yt" style="top:439.4px">0.075</div>
<div class="yt" style="top:478.2px">0</div>
<div class="xt" style="left:103.9px">0</div>
<div class="xt" style="left:189.8px">2</div>
<div class="xt" style="left:275.7px">4</div>
<div class="xt" style="left:361.6px">6</div>
<div class="xt" style="left:447.5px">8</div>
<div class="xt" style="left:532.6px">10</div>
<div class="xt" style="left:618.5px">12</div>
<div class="xt" style="left:704.4px">14</div>
<div class="lab" style="top:12.7px">(i)</div>
<div class="lab" style="top:116.2px">(ii)</div>
<div class="lab" style="top:220.3px">(iii)</div>
<div class="lab" style="top:323.4px">(iv)</div>
<div class="lab" style="top:426.2px">(v)</div>
<div id="xl">Time (ns)</div>
<div id="yl">Intensity <span>(arb.units)</span></div>
</body></html>
